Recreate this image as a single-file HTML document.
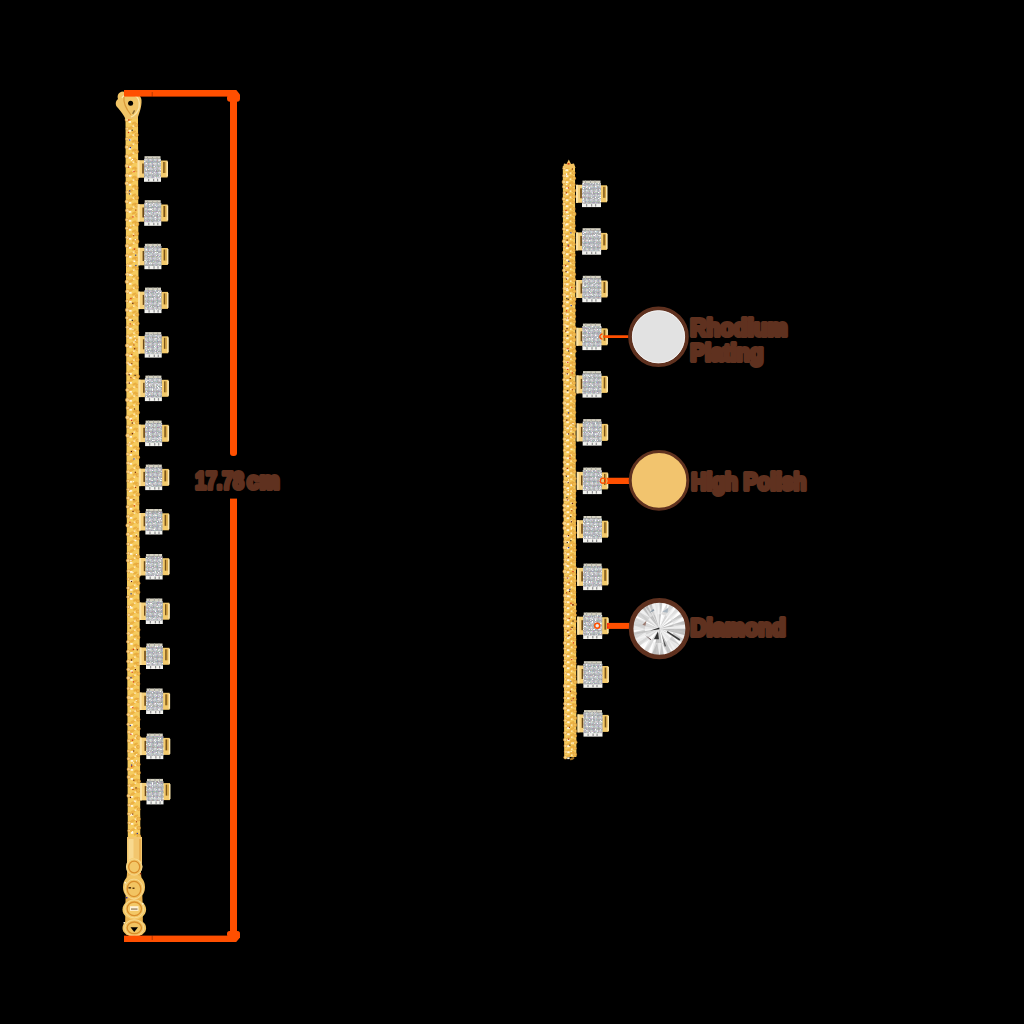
<!DOCTYPE html>
<html><head><meta charset="utf-8"><style>
html,body{margin:0;padding:0;background:#000;width:1024px;height:1024px;overflow:hidden}
svg{display:block}
</style></head><body>
<svg width="1024" height="1024" viewBox="0 0 1024 1024">
<defs>
<filter id="soft" x="-10%" y="-10%" width="120%" height="120%"><feGaussianBlur stdDeviation="0.45"/></filter>
<filter id="spk" x="0" y="0" width="1" height="1">
<feTurbulence type="turbulence" baseFrequency="0.65" numOctaves="1" seed="4" result="t"/>
<feColorMatrix in="t" type="matrix" values="0 0 0 0 1  0 0 0 0 1  0 0 0 0 1  0 0 0 5 -1.5" result="w"/>
<feComposite in="w" in2="SourceGraphic" operator="in" result="wi"/>
<feTurbulence type="turbulence" baseFrequency="0.9" numOctaves="1" seed="9" result="t2"/>
<feColorMatrix in="t2" type="matrix" values="0 0 0 0 0.5  0 0 0 0 0.52  0 0 0 0 0.55  0 0 0 5 -1.3" result="d"/>
<feComposite in="d" in2="SourceGraphic" operator="in" result="di"/>
<feTurbulence type="fractalNoise" baseFrequency="0.8" numOctaves="1" seed="2" result="t3"/>
<feColorMatrix in="t3" type="matrix" values="1.6 0 0 0 -0.3  0 1.6 0 0 -0.3  0 0 1.6 0 -0.25  0 0 0 0 0.28" result="c"/>
<feComposite in="c" in2="SourceGraphic" operator="in" result="ci"/>
<feMerge><feMergeNode in="SourceGraphic"/><feMergeNode in="ci"/><feMergeNode in="di"/><feMergeNode in="wi"/></feMerge>
</filter>
<pattern id="pave" width="4.5" height="4.5" patternUnits="userSpaceOnUse">
<rect width="4.5" height="4.5" fill="#9C9FA1"/>
<circle cx="2.25" cy="2.25" r="1.9" fill="#C4C7C8"/>
<circle cx="1.8" cy="1.8" r="0.8" fill="#EEF0F0"/>
</pattern>
</defs>
<rect width="1024" height="1024" fill="#000"/>
<polygon points="125.5,116 138.0,116 140.3,838 127.8,838" fill="#F6CB5E"/>
<circle cx="126.8" cy="119.8" r="1.8" fill="#F8D588" stroke="#D88F30" stroke-width="0.5"/>
<circle cx="136.3" cy="125.1" r="1.6" fill="#F0BC50" stroke="#D88F30" stroke-width="0.5"/>
<ellipse cx="130.8" cy="118.7" rx="2.6" ry="1.3" transform="rotate(-25 130.8 118.7)" fill="#EAAA3C" opacity="0.75"/>
<ellipse cx="133.8" cy="123.0" rx="2.4" ry="1.2" transform="rotate(-25 133.8 123.0)" fill="#E6A234" opacity="0.7"/>
<rect x="128.6" y="121.0" width="2.4" height="1.8" fill="#FFF4D8"/>
<rect x="132.4" y="116.5" width="1.6" height="1.4" fill="#FFE9B8"/>
<rect x="129.1" y="116.7" width="1.2" height="1.2" fill="#FFFFFF"/>
<rect x="128.2" y="119.4" width="1.2" height="1.2" fill="#D8301A"/>
<circle cx="127.2" cy="128.7" r="1.5" fill="#F8D588" stroke="#D88F30" stroke-width="0.5"/>
<circle cx="136.7" cy="134.9" r="1.7" fill="#F0BC50" stroke="#D88F30" stroke-width="0.5"/>
<ellipse cx="130.8" cy="127.7" rx="2.6" ry="1.3" transform="rotate(-25 130.8 127.7)" fill="#EAAA3C" opacity="0.75"/>
<ellipse cx="133.8" cy="132.0" rx="2.4" ry="1.2" transform="rotate(-25 133.8 132.0)" fill="#E6A234" opacity="0.7"/>
<rect x="128.7" y="129.9" width="2.4" height="1.8" fill="#FFF4D8"/>
<rect x="132.4" y="125.5" width="1.6" height="1.4" fill="#FFE9B8"/>
<rect x="127.9" y="131.9" width="1.2" height="1.2" fill="#D8301A"/>
<rect x="131.6" y="129.6" width="1.2" height="1.2" fill="#3A2A20"/>
<circle cx="127.0" cy="138.9" r="1.5" fill="#F8D588" stroke="#D88F30" stroke-width="0.5"/>
<circle cx="136.7" cy="142.4" r="1.5" fill="#F0BC50" stroke="#D88F30" stroke-width="0.5"/>
<ellipse cx="130.8" cy="136.7" rx="2.6" ry="1.3" transform="rotate(-25 130.8 136.7)" fill="#EAAA3C" opacity="0.75"/>
<ellipse cx="133.8" cy="141.0" rx="2.4" ry="1.2" transform="rotate(-25 133.8 141.0)" fill="#E6A234" opacity="0.7"/>
<rect x="128.7" y="138.9" width="2.4" height="1.8" fill="#FFF4D8"/>
<rect x="132.4" y="134.5" width="1.6" height="1.4" fill="#FFE9B8"/>
<rect x="129.1" y="139.4" width="1.2" height="1.2" fill="#2030A0"/>
<circle cx="126.9" cy="147.1" r="1.8" fill="#F8D588" stroke="#D88F30" stroke-width="0.5"/>
<circle cx="136.6" cy="151.6" r="1.9" fill="#F0BC50" stroke="#D88F30" stroke-width="0.5"/>
<ellipse cx="130.8" cy="145.7" rx="2.6" ry="1.3" transform="rotate(-25 130.8 145.7)" fill="#EAAA3C" opacity="0.75"/>
<ellipse cx="133.8" cy="150.0" rx="2.4" ry="1.2" transform="rotate(-25 133.8 150.0)" fill="#E6A234" opacity="0.7"/>
<rect x="128.7" y="147.9" width="2.4" height="1.8" fill="#FFF4D8"/>
<rect x="132.5" y="143.5" width="1.6" height="1.4" fill="#FFE9B8"/>
<rect x="129.8" y="147.0" width="1.2" height="1.2" fill="#2030A0"/>
<circle cx="126.9" cy="156.4" r="1.8" fill="#F8D588" stroke="#D88F30" stroke-width="0.5"/>
<circle cx="136.4" cy="161.0" r="1.5" fill="#F0BC50" stroke="#D88F30" stroke-width="0.5"/>
<ellipse cx="130.9" cy="154.7" rx="2.6" ry="1.3" transform="rotate(-25 130.9 154.7)" fill="#EAAA3C" opacity="0.75"/>
<ellipse cx="133.9" cy="159.0" rx="2.4" ry="1.2" transform="rotate(-25 133.9 159.0)" fill="#E6A234" opacity="0.7"/>
<rect x="128.7" y="156.9" width="2.4" height="1.8" fill="#FFF4D8"/>
<rect x="132.5" y="152.5" width="1.6" height="1.4" fill="#FFE9B8"/>
<rect x="130.8" y="159.7" width="1.2" height="1.2" fill="#FFF4D0"/>
<rect x="131.9" y="159.0" width="1.2" height="1.2" fill="#FFFFFF"/>
<circle cx="126.9" cy="165.9" r="1.8" fill="#F8D588" stroke="#D88F30" stroke-width="0.5"/>
<circle cx="136.8" cy="169.9" r="1.9" fill="#F0BC50" stroke="#D88F30" stroke-width="0.5"/>
<ellipse cx="130.9" cy="163.7" rx="2.6" ry="1.3" transform="rotate(-25 130.9 163.7)" fill="#EAAA3C" opacity="0.75"/>
<ellipse cx="133.9" cy="168.0" rx="2.4" ry="1.2" transform="rotate(-25 133.9 168.0)" fill="#E6A234" opacity="0.7"/>
<rect x="128.8" y="165.9" width="2.4" height="1.8" fill="#FFF4D8"/>
<rect x="132.5" y="161.5" width="1.6" height="1.4" fill="#FFE9B8"/>
<rect x="128.1" y="166.6" width="1.2" height="1.2" fill="#B03A10"/>
<circle cx="127.2" cy="175.5" r="1.9" fill="#F8D588" stroke="#D88F30" stroke-width="0.5"/>
<circle cx="136.6" cy="178.8" r="1.8" fill="#F0BC50" stroke="#D88F30" stroke-width="0.5"/>
<ellipse cx="130.9" cy="172.7" rx="2.6" ry="1.3" transform="rotate(-25 130.9 172.7)" fill="#EAAA3C" opacity="0.75"/>
<ellipse cx="133.9" cy="177.0" rx="2.4" ry="1.2" transform="rotate(-25 133.9 177.0)" fill="#E6A234" opacity="0.7"/>
<rect x="128.8" y="174.9" width="2.4" height="1.8" fill="#FFF4D8"/>
<rect x="132.5" y="170.5" width="1.6" height="1.4" fill="#FFE9B8"/>
<rect x="130.3" y="174.9" width="1.2" height="1.2" fill="#FFF4D0"/>
<rect x="133.4" y="171.0" width="1.2" height="1.2" fill="#D8301A"/>
<circle cx="126.9" cy="183.3" r="1.9" fill="#F8D588" stroke="#D88F30" stroke-width="0.5"/>
<circle cx="136.5" cy="187.9" r="1.7" fill="#F0BC50" stroke="#D88F30" stroke-width="0.5"/>
<ellipse cx="131.0" cy="181.7" rx="2.6" ry="1.3" transform="rotate(-25 131.0 181.7)" fill="#EAAA3C" opacity="0.75"/>
<ellipse cx="134.0" cy="186.0" rx="2.4" ry="1.2" transform="rotate(-25 134.0 186.0)" fill="#E6A234" opacity="0.7"/>
<rect x="128.8" y="183.9" width="2.4" height="1.8" fill="#FFF4D8"/>
<rect x="132.6" y="179.5" width="1.6" height="1.4" fill="#FFE9B8"/>
<circle cx="127.4" cy="192.1" r="1.6" fill="#F8D588" stroke="#D88F30" stroke-width="0.5"/>
<circle cx="136.7" cy="197.8" r="2.0" fill="#F0BC50" stroke="#D88F30" stroke-width="0.5"/>
<ellipse cx="131.0" cy="190.7" rx="2.6" ry="1.3" transform="rotate(-25 131.0 190.7)" fill="#EAAA3C" opacity="0.75"/>
<ellipse cx="134.0" cy="195.0" rx="2.4" ry="1.2" transform="rotate(-25 134.0 195.0)" fill="#E6A234" opacity="0.7"/>
<rect x="128.9" y="192.9" width="2.4" height="1.8" fill="#FFF4D8"/>
<rect x="132.6" y="188.5" width="1.6" height="1.4" fill="#FFE9B8"/>
<rect x="128.9" y="193.3" width="1.2" height="1.2" fill="#3A2A20"/>
<rect x="129.1" y="190.3" width="1.2" height="1.2" fill="#2030A0"/>
<circle cx="126.9" cy="201.6" r="1.8" fill="#F8D588" stroke="#D88F30" stroke-width="0.5"/>
<circle cx="136.7" cy="205.3" r="1.9" fill="#F0BC50" stroke="#D88F30" stroke-width="0.5"/>
<ellipse cx="131.0" cy="199.7" rx="2.6" ry="1.3" transform="rotate(-25 131.0 199.7)" fill="#EAAA3C" opacity="0.75"/>
<ellipse cx="134.0" cy="204.0" rx="2.4" ry="1.2" transform="rotate(-25 134.0 204.0)" fill="#E6A234" opacity="0.7"/>
<rect x="128.9" y="201.9" width="2.4" height="1.8" fill="#FFF4D8"/>
<rect x="132.6" y="197.5" width="1.6" height="1.4" fill="#FFE9B8"/>
<circle cx="127.4" cy="210.4" r="1.9" fill="#F8D588" stroke="#D88F30" stroke-width="0.5"/>
<circle cx="137.2" cy="215.4" r="1.7" fill="#F0BC50" stroke="#D88F30" stroke-width="0.5"/>
<ellipse cx="131.0" cy="208.7" rx="2.6" ry="1.3" transform="rotate(-25 131.0 208.7)" fill="#EAAA3C" opacity="0.75"/>
<ellipse cx="134.0" cy="213.0" rx="2.4" ry="1.2" transform="rotate(-25 134.0 213.0)" fill="#E6A234" opacity="0.7"/>
<rect x="128.9" y="210.9" width="2.4" height="1.8" fill="#FFF4D8"/>
<rect x="132.7" y="206.5" width="1.6" height="1.4" fill="#FFE9B8"/>
<rect x="128.6" y="211.1" width="1.2" height="1.2" fill="#FFF4D0"/>
<rect x="135.2" y="209.5" width="1.2" height="1.2" fill="#B03A10"/>
<circle cx="126.9" cy="219.7" r="1.5" fill="#F8D588" stroke="#D88F30" stroke-width="0.5"/>
<circle cx="137.0" cy="224.1" r="2.0" fill="#F0BC50" stroke="#D88F30" stroke-width="0.5"/>
<ellipse cx="131.1" cy="217.7" rx="2.6" ry="1.3" transform="rotate(-25 131.1 217.7)" fill="#EAAA3C" opacity="0.75"/>
<ellipse cx="134.1" cy="222.0" rx="2.4" ry="1.2" transform="rotate(-25 134.1 222.0)" fill="#E6A234" opacity="0.7"/>
<rect x="128.9" y="219.9" width="2.4" height="1.8" fill="#FFF4D8"/>
<rect x="132.7" y="215.5" width="1.6" height="1.4" fill="#FFE9B8"/>
<rect x="132.4" y="216.2" width="1.2" height="1.2" fill="#D8301A"/>
<circle cx="127.0" cy="228.2" r="1.6" fill="#F8D588" stroke="#D88F30" stroke-width="0.5"/>
<circle cx="136.6" cy="233.7" r="2.0" fill="#F0BC50" stroke="#D88F30" stroke-width="0.5"/>
<ellipse cx="131.1" cy="226.7" rx="2.6" ry="1.3" transform="rotate(-25 131.1 226.7)" fill="#EAAA3C" opacity="0.75"/>
<ellipse cx="134.1" cy="231.0" rx="2.4" ry="1.2" transform="rotate(-25 134.1 231.0)" fill="#E6A234" opacity="0.7"/>
<rect x="129.0" y="228.9" width="2.4" height="1.8" fill="#FFF4D8"/>
<rect x="132.7" y="224.5" width="1.6" height="1.4" fill="#FFE9B8"/>
<rect x="130.2" y="225.2" width="1.2" height="1.2" fill="#FFF4D0"/>
<circle cx="127.5" cy="237.5" r="1.8" fill="#F8D588" stroke="#D88F30" stroke-width="0.5"/>
<circle cx="137.0" cy="241.4" r="2.0" fill="#F0BC50" stroke="#D88F30" stroke-width="0.5"/>
<ellipse cx="131.1" cy="235.7" rx="2.6" ry="1.3" transform="rotate(-25 131.1 235.7)" fill="#EAAA3C" opacity="0.75"/>
<ellipse cx="134.1" cy="240.0" rx="2.4" ry="1.2" transform="rotate(-25 134.1 240.0)" fill="#E6A234" opacity="0.7"/>
<rect x="129.0" y="237.9" width="2.4" height="1.8" fill="#FFF4D8"/>
<rect x="132.7" y="233.5" width="1.6" height="1.4" fill="#FFE9B8"/>
<rect x="134.7" y="239.1" width="1.2" height="1.2" fill="#FFFFFF"/>
<rect x="133.1" y="235.1" width="1.2" height="1.2" fill="#B03A10"/>
<circle cx="127.2" cy="245.8" r="1.9" fill="#F8D588" stroke="#D88F30" stroke-width="0.5"/>
<circle cx="137.0" cy="251.6" r="1.6" fill="#F0BC50" stroke="#D88F30" stroke-width="0.5"/>
<ellipse cx="131.2" cy="244.7" rx="2.6" ry="1.3" transform="rotate(-25 131.2 244.7)" fill="#EAAA3C" opacity="0.75"/>
<ellipse cx="134.2" cy="249.0" rx="2.4" ry="1.2" transform="rotate(-25 134.2 249.0)" fill="#E6A234" opacity="0.7"/>
<rect x="129.0" y="246.9" width="2.4" height="1.8" fill="#FFF4D8"/>
<rect x="132.8" y="242.5" width="1.6" height="1.4" fill="#FFE9B8"/>
<rect x="133.9" y="248.5" width="1.2" height="1.2" fill="#D8301A"/>
<circle cx="127.1" cy="255.5" r="1.6" fill="#F8D588" stroke="#D88F30" stroke-width="0.5"/>
<circle cx="136.7" cy="259.1" r="1.6" fill="#F0BC50" stroke="#D88F30" stroke-width="0.5"/>
<ellipse cx="131.2" cy="253.7" rx="2.6" ry="1.3" transform="rotate(-25 131.2 253.7)" fill="#EAAA3C" opacity="0.75"/>
<ellipse cx="134.2" cy="258.0" rx="2.4" ry="1.2" transform="rotate(-25 134.2 258.0)" fill="#E6A234" opacity="0.7"/>
<rect x="129.1" y="255.9" width="2.4" height="1.8" fill="#FFF4D8"/>
<rect x="132.8" y="251.5" width="1.6" height="1.4" fill="#FFE9B8"/>
<rect x="135.1" y="254.6" width="1.2" height="1.2" fill="#2030A0"/>
<circle cx="127.7" cy="265.4" r="1.6" fill="#F8D588" stroke="#D88F30" stroke-width="0.5"/>
<circle cx="136.8" cy="268.5" r="1.5" fill="#F0BC50" stroke="#D88F30" stroke-width="0.5"/>
<ellipse cx="131.2" cy="262.7" rx="2.6" ry="1.3" transform="rotate(-25 131.2 262.7)" fill="#EAAA3C" opacity="0.75"/>
<ellipse cx="134.2" cy="267.0" rx="2.4" ry="1.2" transform="rotate(-25 134.2 267.0)" fill="#E6A234" opacity="0.7"/>
<rect x="129.1" y="264.9" width="2.4" height="1.8" fill="#FFF4D8"/>
<rect x="132.8" y="260.5" width="1.6" height="1.4" fill="#FFE9B8"/>
<rect x="135.3" y="264.9" width="1.2" height="1.2" fill="#2030A0"/>
<rect x="134.0" y="260.7" width="1.2" height="1.2" fill="#FFFFFF"/>
<circle cx="127.5" cy="274.3" r="1.9" fill="#F8D588" stroke="#D88F30" stroke-width="0.5"/>
<circle cx="137.3" cy="278.0" r="1.5" fill="#F0BC50" stroke="#D88F30" stroke-width="0.5"/>
<ellipse cx="131.2" cy="271.7" rx="2.6" ry="1.3" transform="rotate(-25 131.2 271.7)" fill="#EAAA3C" opacity="0.75"/>
<ellipse cx="134.2" cy="276.0" rx="2.4" ry="1.2" transform="rotate(-25 134.2 276.0)" fill="#E6A234" opacity="0.7"/>
<rect x="129.1" y="273.9" width="2.4" height="1.8" fill="#FFF4D8"/>
<rect x="132.9" y="269.5" width="1.6" height="1.4" fill="#FFE9B8"/>
<rect x="131.5" y="274.9" width="1.2" height="1.2" fill="#FFF4D0"/>
<circle cx="127.1" cy="281.8" r="2.0" fill="#F8D588" stroke="#D88F30" stroke-width="0.5"/>
<circle cx="136.7" cy="287.2" r="1.7" fill="#F0BC50" stroke="#D88F30" stroke-width="0.5"/>
<ellipse cx="131.3" cy="280.7" rx="2.6" ry="1.3" transform="rotate(-25 131.3 280.7)" fill="#EAAA3C" opacity="0.75"/>
<ellipse cx="134.3" cy="285.0" rx="2.4" ry="1.2" transform="rotate(-25 134.3 285.0)" fill="#E6A234" opacity="0.7"/>
<rect x="129.1" y="282.9" width="2.4" height="1.8" fill="#FFF4D8"/>
<rect x="132.9" y="278.5" width="1.6" height="1.4" fill="#FFE9B8"/>
<circle cx="127.5" cy="291.4" r="2.0" fill="#F8D588" stroke="#D88F30" stroke-width="0.5"/>
<circle cx="136.9" cy="296.1" r="1.4" fill="#F0BC50" stroke="#D88F30" stroke-width="0.5"/>
<ellipse cx="131.3" cy="289.7" rx="2.6" ry="1.3" transform="rotate(-25 131.3 289.7)" fill="#EAAA3C" opacity="0.75"/>
<ellipse cx="134.3" cy="294.0" rx="2.4" ry="1.2" transform="rotate(-25 134.3 294.0)" fill="#E6A234" opacity="0.7"/>
<rect x="129.2" y="291.9" width="2.4" height="1.8" fill="#FFF4D8"/>
<rect x="132.9" y="287.5" width="1.6" height="1.4" fill="#FFE9B8"/>
<circle cx="127.2" cy="301.0" r="1.5" fill="#F8D588" stroke="#D88F30" stroke-width="0.5"/>
<circle cx="137.6" cy="304.4" r="1.9" fill="#F0BC50" stroke="#D88F30" stroke-width="0.5"/>
<ellipse cx="131.3" cy="298.7" rx="2.6" ry="1.3" transform="rotate(-25 131.3 298.7)" fill="#EAAA3C" opacity="0.75"/>
<ellipse cx="134.3" cy="303.0" rx="2.4" ry="1.2" transform="rotate(-25 134.3 303.0)" fill="#E6A234" opacity="0.7"/>
<rect x="129.2" y="300.9" width="2.4" height="1.8" fill="#FFF4D8"/>
<rect x="132.9" y="296.5" width="1.6" height="1.4" fill="#FFE9B8"/>
<rect x="130.3" y="297.9" width="1.2" height="1.2" fill="#D8301A"/>
<rect x="132.2" y="302.7" width="1.2" height="1.2" fill="#5A1A10"/>
<circle cx="127.2" cy="310.0" r="1.9" fill="#F8D588" stroke="#D88F30" stroke-width="0.5"/>
<circle cx="137.3" cy="314.6" r="1.7" fill="#F0BC50" stroke="#D88F30" stroke-width="0.5"/>
<ellipse cx="131.4" cy="307.7" rx="2.6" ry="1.3" transform="rotate(-25 131.4 307.7)" fill="#EAAA3C" opacity="0.75"/>
<ellipse cx="134.4" cy="312.0" rx="2.4" ry="1.2" transform="rotate(-25 134.4 312.0)" fill="#E6A234" opacity="0.7"/>
<rect x="129.2" y="309.9" width="2.4" height="1.8" fill="#FFF4D8"/>
<rect x="133.0" y="305.5" width="1.6" height="1.4" fill="#FFE9B8"/>
<circle cx="127.2" cy="317.8" r="1.7" fill="#F8D588" stroke="#D88F30" stroke-width="0.5"/>
<circle cx="137.5" cy="323.6" r="1.8" fill="#F0BC50" stroke="#D88F30" stroke-width="0.5"/>
<ellipse cx="131.4" cy="316.7" rx="2.6" ry="1.3" transform="rotate(-25 131.4 316.7)" fill="#EAAA3C" opacity="0.75"/>
<ellipse cx="134.4" cy="321.0" rx="2.4" ry="1.2" transform="rotate(-25 134.4 321.0)" fill="#E6A234" opacity="0.7"/>
<rect x="129.3" y="318.9" width="2.4" height="1.8" fill="#FFF4D8"/>
<rect x="133.0" y="314.5" width="1.6" height="1.4" fill="#FFE9B8"/>
<rect x="131.7" y="319.8" width="1.2" height="1.2" fill="#3A2A20"/>
<circle cx="127.6" cy="327.2" r="1.7" fill="#F8D588" stroke="#D88F30" stroke-width="0.5"/>
<circle cx="137.3" cy="332.6" r="1.5" fill="#F0BC50" stroke="#D88F30" stroke-width="0.5"/>
<ellipse cx="131.4" cy="325.7" rx="2.6" ry="1.3" transform="rotate(-25 131.4 325.7)" fill="#EAAA3C" opacity="0.75"/>
<ellipse cx="134.4" cy="330.0" rx="2.4" ry="1.2" transform="rotate(-25 134.4 330.0)" fill="#E6A234" opacity="0.7"/>
<rect x="129.3" y="327.9" width="2.4" height="1.8" fill="#FFF4D8"/>
<rect x="133.0" y="323.5" width="1.6" height="1.4" fill="#FFE9B8"/>
<rect x="129.6" y="323.3" width="1.2" height="1.2" fill="#D8301A"/>
<rect x="132.4" y="329.1" width="1.2" height="1.2" fill="#FFF4D0"/>
<circle cx="127.9" cy="336.4" r="1.8" fill="#F8D588" stroke="#D88F30" stroke-width="0.5"/>
<circle cx="137.3" cy="341.0" r="1.8" fill="#F0BC50" stroke="#D88F30" stroke-width="0.5"/>
<ellipse cx="131.4" cy="334.7" rx="2.6" ry="1.3" transform="rotate(-25 131.4 334.7)" fill="#EAAA3C" opacity="0.75"/>
<ellipse cx="134.4" cy="339.0" rx="2.4" ry="1.2" transform="rotate(-25 134.4 339.0)" fill="#E6A234" opacity="0.7"/>
<rect x="129.3" y="336.9" width="2.4" height="1.8" fill="#FFF4D8"/>
<rect x="133.1" y="332.5" width="1.6" height="1.4" fill="#FFE9B8"/>
<rect x="134.2" y="336.1" width="1.2" height="1.2" fill="#FFFFFF"/>
<rect x="134.8" y="339.5" width="1.2" height="1.2" fill="#FFFFFF"/>
<circle cx="127.4" cy="345.6" r="2.0" fill="#F8D588" stroke="#D88F30" stroke-width="0.5"/>
<circle cx="137.6" cy="349.3" r="1.5" fill="#F0BC50" stroke="#D88F30" stroke-width="0.5"/>
<ellipse cx="131.5" cy="343.7" rx="2.6" ry="1.3" transform="rotate(-25 131.5 343.7)" fill="#EAAA3C" opacity="0.75"/>
<ellipse cx="134.5" cy="348.0" rx="2.4" ry="1.2" transform="rotate(-25 134.5 348.0)" fill="#E6A234" opacity="0.7"/>
<rect x="129.3" y="345.9" width="2.4" height="1.8" fill="#FFF4D8"/>
<rect x="133.1" y="341.5" width="1.6" height="1.4" fill="#FFE9B8"/>
<rect x="133.3" y="344.4" width="1.2" height="1.2" fill="#B03A10"/>
<rect x="134.1" y="348.2" width="1.2" height="1.2" fill="#5A1A10"/>
<circle cx="127.4" cy="354.9" r="1.8" fill="#F8D588" stroke="#D88F30" stroke-width="0.5"/>
<circle cx="137.1" cy="359.8" r="2.0" fill="#F0BC50" stroke="#D88F30" stroke-width="0.5"/>
<ellipse cx="131.5" cy="352.7" rx="2.6" ry="1.3" transform="rotate(-25 131.5 352.7)" fill="#EAAA3C" opacity="0.75"/>
<ellipse cx="134.5" cy="357.0" rx="2.4" ry="1.2" transform="rotate(-25 134.5 357.0)" fill="#E6A234" opacity="0.7"/>
<rect x="129.4" y="354.9" width="2.4" height="1.8" fill="#FFF4D8"/>
<rect x="133.1" y="350.5" width="1.6" height="1.4" fill="#FFE9B8"/>
<rect x="131.2" y="353.9" width="1.2" height="1.2" fill="#B03A10"/>
<circle cx="127.9" cy="362.8" r="1.7" fill="#F8D588" stroke="#D88F30" stroke-width="0.5"/>
<circle cx="137.4" cy="367.7" r="1.5" fill="#F0BC50" stroke="#D88F30" stroke-width="0.5"/>
<ellipse cx="131.5" cy="361.7" rx="2.6" ry="1.3" transform="rotate(-25 131.5 361.7)" fill="#EAAA3C" opacity="0.75"/>
<ellipse cx="134.5" cy="366.0" rx="2.4" ry="1.2" transform="rotate(-25 134.5 366.0)" fill="#E6A234" opacity="0.7"/>
<rect x="129.4" y="363.9" width="2.4" height="1.8" fill="#FFF4D8"/>
<rect x="133.1" y="359.5" width="1.6" height="1.4" fill="#FFE9B8"/>
<rect x="128.4" y="363.4" width="1.2" height="1.2" fill="#FFFFFF"/>
<rect x="131.2" y="363.1" width="1.2" height="1.2" fill="#7A2A10"/>
<circle cx="127.5" cy="373.4" r="1.5" fill="#F8D588" stroke="#D88F30" stroke-width="0.5"/>
<circle cx="137.7" cy="376.5" r="1.9" fill="#F0BC50" stroke="#D88F30" stroke-width="0.5"/>
<ellipse cx="131.6" cy="370.7" rx="2.6" ry="1.3" transform="rotate(-25 131.6 370.7)" fill="#EAAA3C" opacity="0.75"/>
<ellipse cx="134.6" cy="375.0" rx="2.4" ry="1.2" transform="rotate(-25 134.6 375.0)" fill="#E6A234" opacity="0.7"/>
<rect x="129.4" y="372.9" width="2.4" height="1.8" fill="#FFF4D8"/>
<rect x="133.2" y="368.5" width="1.6" height="1.4" fill="#FFE9B8"/>
<rect x="128.6" y="374.2" width="1.2" height="1.2" fill="#5A1A10"/>
<rect x="134.5" y="374.8" width="1.2" height="1.2" fill="#3A2A20"/>
<circle cx="127.9" cy="382.4" r="1.6" fill="#F8D588" stroke="#D88F30" stroke-width="0.5"/>
<circle cx="137.5" cy="386.0" r="1.7" fill="#F0BC50" stroke="#D88F30" stroke-width="0.5"/>
<ellipse cx="131.6" cy="379.7" rx="2.6" ry="1.3" transform="rotate(-25 131.6 379.7)" fill="#EAAA3C" opacity="0.75"/>
<ellipse cx="134.6" cy="384.0" rx="2.4" ry="1.2" transform="rotate(-25 134.6 384.0)" fill="#E6A234" opacity="0.7"/>
<rect x="129.5" y="381.9" width="2.4" height="1.8" fill="#FFF4D8"/>
<rect x="133.2" y="377.5" width="1.6" height="1.4" fill="#FFE9B8"/>
<rect x="128.8" y="382.5" width="1.2" height="1.2" fill="#5A1A10"/>
<rect x="130.3" y="377.1" width="1.2" height="1.2" fill="#B03A10"/>
<circle cx="127.4" cy="390.0" r="1.8" fill="#F8D588" stroke="#D88F30" stroke-width="0.5"/>
<circle cx="137.2" cy="394.5" r="1.5" fill="#F0BC50" stroke="#D88F30" stroke-width="0.5"/>
<ellipse cx="131.6" cy="388.7" rx="2.6" ry="1.3" transform="rotate(-25 131.6 388.7)" fill="#EAAA3C" opacity="0.75"/>
<ellipse cx="134.6" cy="393.0" rx="2.4" ry="1.2" transform="rotate(-25 134.6 393.0)" fill="#E6A234" opacity="0.7"/>
<rect x="129.5" y="390.9" width="2.4" height="1.8" fill="#FFF4D8"/>
<rect x="133.2" y="386.5" width="1.6" height="1.4" fill="#FFE9B8"/>
<rect x="131.5" y="393.3" width="1.2" height="1.2" fill="#FFFFFF"/>
<circle cx="127.4" cy="399.9" r="2.0" fill="#F8D588" stroke="#D88F30" stroke-width="0.5"/>
<circle cx="137.9" cy="403.5" r="1.5" fill="#F0BC50" stroke="#D88F30" stroke-width="0.5"/>
<ellipse cx="131.6" cy="397.7" rx="2.6" ry="1.3" transform="rotate(-25 131.6 397.7)" fill="#EAAA3C" opacity="0.75"/>
<ellipse cx="134.6" cy="402.0" rx="2.4" ry="1.2" transform="rotate(-25 134.6 402.0)" fill="#E6A234" opacity="0.7"/>
<rect x="129.5" y="399.9" width="2.4" height="1.8" fill="#FFF4D8"/>
<rect x="133.3" y="395.5" width="1.6" height="1.4" fill="#FFE9B8"/>
<circle cx="127.8" cy="407.9" r="1.7" fill="#F8D588" stroke="#D88F30" stroke-width="0.5"/>
<circle cx="137.7" cy="412.5" r="1.9" fill="#F0BC50" stroke="#D88F30" stroke-width="0.5"/>
<ellipse cx="131.7" cy="406.7" rx="2.6" ry="1.3" transform="rotate(-25 131.7 406.7)" fill="#EAAA3C" opacity="0.75"/>
<ellipse cx="134.7" cy="411.0" rx="2.4" ry="1.2" transform="rotate(-25 134.7 411.0)" fill="#E6A234" opacity="0.7"/>
<rect x="129.5" y="408.9" width="2.4" height="1.8" fill="#FFF4D8"/>
<rect x="133.3" y="404.5" width="1.6" height="1.4" fill="#FFE9B8"/>
<rect x="133.9" y="408.4" width="1.2" height="1.2" fill="#7A2A10"/>
<circle cx="127.6" cy="417.4" r="2.0" fill="#F8D588" stroke="#D88F30" stroke-width="0.5"/>
<circle cx="137.2" cy="422.6" r="1.7" fill="#F0BC50" stroke="#D88F30" stroke-width="0.5"/>
<ellipse cx="131.7" cy="415.7" rx="2.6" ry="1.3" transform="rotate(-25 131.7 415.7)" fill="#EAAA3C" opacity="0.75"/>
<ellipse cx="134.7" cy="420.0" rx="2.4" ry="1.2" transform="rotate(-25 134.7 420.0)" fill="#E6A234" opacity="0.7"/>
<rect x="129.6" y="417.9" width="2.4" height="1.8" fill="#FFF4D8"/>
<rect x="133.3" y="413.5" width="1.6" height="1.4" fill="#FFE9B8"/>
<rect x="135.7" y="415.5" width="1.2" height="1.2" fill="#FFF4D0"/>
<rect x="131.0" y="419.7" width="1.2" height="1.2" fill="#D8301A"/>
<circle cx="128.0" cy="426.8" r="1.6" fill="#F8D588" stroke="#D88F30" stroke-width="0.5"/>
<circle cx="137.5" cy="430.1" r="1.5" fill="#F0BC50" stroke="#D88F30" stroke-width="0.5"/>
<ellipse cx="131.7" cy="424.7" rx="2.6" ry="1.3" transform="rotate(-25 131.7 424.7)" fill="#EAAA3C" opacity="0.75"/>
<ellipse cx="134.7" cy="429.0" rx="2.4" ry="1.2" transform="rotate(-25 134.7 429.0)" fill="#E6A234" opacity="0.7"/>
<rect x="129.6" y="426.9" width="2.4" height="1.8" fill="#FFF4D8"/>
<rect x="133.3" y="422.5" width="1.6" height="1.4" fill="#FFE9B8"/>
<rect x="131.7" y="422.4" width="1.2" height="1.2" fill="#5A1A10"/>
<circle cx="127.8" cy="435.5" r="2.0" fill="#F8D588" stroke="#D88F30" stroke-width="0.5"/>
<circle cx="137.7" cy="440.4" r="1.4" fill="#F0BC50" stroke="#D88F30" stroke-width="0.5"/>
<ellipse cx="131.8" cy="433.7" rx="2.6" ry="1.3" transform="rotate(-25 131.8 433.7)" fill="#EAAA3C" opacity="0.75"/>
<ellipse cx="134.8" cy="438.0" rx="2.4" ry="1.2" transform="rotate(-25 134.8 438.0)" fill="#E6A234" opacity="0.7"/>
<rect x="129.6" y="435.9" width="2.4" height="1.8" fill="#FFF4D8"/>
<rect x="133.4" y="431.5" width="1.6" height="1.4" fill="#FFE9B8"/>
<rect x="131.8" y="433.1" width="1.2" height="1.2" fill="#5A1A10"/>
<circle cx="128.3" cy="444.6" r="1.5" fill="#F8D588" stroke="#D88F30" stroke-width="0.5"/>
<circle cx="138.0" cy="448.6" r="1.6" fill="#F0BC50" stroke="#D88F30" stroke-width="0.5"/>
<ellipse cx="131.8" cy="442.7" rx="2.6" ry="1.3" transform="rotate(-25 131.8 442.7)" fill="#EAAA3C" opacity="0.75"/>
<ellipse cx="134.8" cy="447.0" rx="2.4" ry="1.2" transform="rotate(-25 134.8 447.0)" fill="#E6A234" opacity="0.7"/>
<rect x="129.7" y="444.9" width="2.4" height="1.8" fill="#FFF4D8"/>
<rect x="133.4" y="440.5" width="1.6" height="1.4" fill="#FFE9B8"/>
<rect x="129.2" y="442.2" width="1.2" height="1.2" fill="#FFF4D0"/>
<circle cx="127.8" cy="454.1" r="1.5" fill="#F8D588" stroke="#D88F30" stroke-width="0.5"/>
<circle cx="137.9" cy="457.3" r="1.8" fill="#F0BC50" stroke="#D88F30" stroke-width="0.5"/>
<ellipse cx="131.8" cy="451.7" rx="2.6" ry="1.3" transform="rotate(-25 131.8 451.7)" fill="#EAAA3C" opacity="0.75"/>
<ellipse cx="134.8" cy="456.0" rx="2.4" ry="1.2" transform="rotate(-25 134.8 456.0)" fill="#E6A234" opacity="0.7"/>
<rect x="129.7" y="453.9" width="2.4" height="1.8" fill="#FFF4D8"/>
<rect x="133.4" y="449.5" width="1.6" height="1.4" fill="#FFE9B8"/>
<rect x="130.8" y="450.9" width="1.2" height="1.2" fill="#5A1A10"/>
<rect x="135.0" y="450.2" width="1.2" height="1.2" fill="#FFFFFF"/>
<circle cx="128.3" cy="463.1" r="1.8" fill="#F8D588" stroke="#D88F30" stroke-width="0.5"/>
<circle cx="137.9" cy="467.4" r="1.7" fill="#F0BC50" stroke="#D88F30" stroke-width="0.5"/>
<ellipse cx="131.8" cy="460.7" rx="2.6" ry="1.3" transform="rotate(-25 131.8 460.7)" fill="#EAAA3C" opacity="0.75"/>
<ellipse cx="134.8" cy="465.0" rx="2.4" ry="1.2" transform="rotate(-25 134.8 465.0)" fill="#E6A234" opacity="0.7"/>
<rect x="129.7" y="462.9" width="2.4" height="1.8" fill="#FFF4D8"/>
<rect x="133.5" y="458.5" width="1.6" height="1.4" fill="#FFE9B8"/>
<rect x="133.4" y="458.4" width="1.2" height="1.2" fill="#2030A0"/>
<circle cx="128.3" cy="471.8" r="1.8" fill="#F8D588" stroke="#D88F30" stroke-width="0.5"/>
<circle cx="138.0" cy="475.3" r="1.7" fill="#F0BC50" stroke="#D88F30" stroke-width="0.5"/>
<ellipse cx="131.9" cy="469.7" rx="2.6" ry="1.3" transform="rotate(-25 131.9 469.7)" fill="#EAAA3C" opacity="0.75"/>
<ellipse cx="134.9" cy="474.0" rx="2.4" ry="1.2" transform="rotate(-25 134.9 474.0)" fill="#E6A234" opacity="0.7"/>
<rect x="129.7" y="471.9" width="2.4" height="1.8" fill="#FFF4D8"/>
<rect x="133.5" y="467.5" width="1.6" height="1.4" fill="#FFE9B8"/>
<rect x="134.8" y="471.7" width="1.2" height="1.2" fill="#7A2A10"/>
<circle cx="128.2" cy="480.9" r="1.5" fill="#F8D588" stroke="#D88F30" stroke-width="0.5"/>
<circle cx="137.4" cy="484.3" r="1.6" fill="#F0BC50" stroke="#D88F30" stroke-width="0.5"/>
<ellipse cx="131.9" cy="478.7" rx="2.6" ry="1.3" transform="rotate(-25 131.9 478.7)" fill="#EAAA3C" opacity="0.75"/>
<ellipse cx="134.9" cy="483.0" rx="2.4" ry="1.2" transform="rotate(-25 134.9 483.0)" fill="#E6A234" opacity="0.7"/>
<rect x="129.8" y="480.9" width="2.4" height="1.8" fill="#FFF4D8"/>
<rect x="133.5" y="476.5" width="1.6" height="1.4" fill="#FFE9B8"/>
<rect x="132.8" y="481.0" width="1.2" height="1.2" fill="#FFF4D0"/>
<circle cx="128.2" cy="489.5" r="1.4" fill="#F8D588" stroke="#D88F30" stroke-width="0.5"/>
<circle cx="138.0" cy="494.5" r="1.7" fill="#F0BC50" stroke="#D88F30" stroke-width="0.5"/>
<ellipse cx="131.9" cy="487.7" rx="2.6" ry="1.3" transform="rotate(-25 131.9 487.7)" fill="#EAAA3C" opacity="0.75"/>
<ellipse cx="134.9" cy="492.0" rx="2.4" ry="1.2" transform="rotate(-25 134.9 492.0)" fill="#E6A234" opacity="0.7"/>
<rect x="129.8" y="489.9" width="2.4" height="1.8" fill="#FFF4D8"/>
<rect x="133.6" y="485.5" width="1.6" height="1.4" fill="#FFE9B8"/>
<rect x="129.2" y="490.9" width="1.2" height="1.2" fill="#FFFFFF"/>
<rect x="135.0" y="486.9" width="1.2" height="1.2" fill="#B03A10"/>
<circle cx="128.3" cy="498.0" r="1.8" fill="#F8D588" stroke="#D88F30" stroke-width="0.5"/>
<circle cx="137.8" cy="503.7" r="1.4" fill="#F0BC50" stroke="#D88F30" stroke-width="0.5"/>
<ellipse cx="132.0" cy="496.7" rx="2.6" ry="1.3" transform="rotate(-25 132.0 496.7)" fill="#EAAA3C" opacity="0.75"/>
<ellipse cx="135.0" cy="501.0" rx="2.4" ry="1.2" transform="rotate(-25 135.0 501.0)" fill="#E6A234" opacity="0.7"/>
<rect x="129.8" y="498.9" width="2.4" height="1.8" fill="#FFF4D8"/>
<rect x="133.6" y="494.5" width="1.6" height="1.4" fill="#FFE9B8"/>
<rect x="133.3" y="499.1" width="1.2" height="1.2" fill="#7A2A10"/>
<circle cx="127.8" cy="506.8" r="1.6" fill="#F8D588" stroke="#D88F30" stroke-width="0.5"/>
<circle cx="138.0" cy="511.6" r="1.7" fill="#F0BC50" stroke="#D88F30" stroke-width="0.5"/>
<ellipse cx="132.0" cy="505.7" rx="2.6" ry="1.3" transform="rotate(-25 132.0 505.7)" fill="#EAAA3C" opacity="0.75"/>
<ellipse cx="135.0" cy="510.0" rx="2.4" ry="1.2" transform="rotate(-25 135.0 510.0)" fill="#E6A234" opacity="0.7"/>
<rect x="129.9" y="507.9" width="2.4" height="1.8" fill="#FFF4D8"/>
<rect x="133.6" y="503.5" width="1.6" height="1.4" fill="#FFE9B8"/>
<rect x="132.4" y="510.8" width="1.2" height="1.2" fill="#7A2A10"/>
<rect x="133.8" y="505.3" width="1.2" height="1.2" fill="#D8301A"/>
<circle cx="128.2" cy="516.4" r="1.7" fill="#F8D588" stroke="#D88F30" stroke-width="0.5"/>
<circle cx="137.6" cy="521.8" r="1.5" fill="#F0BC50" stroke="#D88F30" stroke-width="0.5"/>
<ellipse cx="132.0" cy="514.7" rx="2.6" ry="1.3" transform="rotate(-25 132.0 514.7)" fill="#EAAA3C" opacity="0.75"/>
<ellipse cx="135.0" cy="519.0" rx="2.4" ry="1.2" transform="rotate(-25 135.0 519.0)" fill="#E6A234" opacity="0.7"/>
<rect x="129.9" y="517.0" width="2.4" height="1.8" fill="#FFF4D8"/>
<rect x="133.6" y="512.5" width="1.6" height="1.4" fill="#FFE9B8"/>
<circle cx="127.8" cy="525.4" r="1.9" fill="#F8D588" stroke="#D88F30" stroke-width="0.5"/>
<circle cx="138.3" cy="529.9" r="1.6" fill="#F0BC50" stroke="#D88F30" stroke-width="0.5"/>
<ellipse cx="132.0" cy="523.7" rx="2.6" ry="1.3" transform="rotate(-25 132.0 523.7)" fill="#EAAA3C" opacity="0.75"/>
<ellipse cx="135.0" cy="528.0" rx="2.4" ry="1.2" transform="rotate(-25 135.0 528.0)" fill="#E6A234" opacity="0.7"/>
<rect x="129.9" y="526.0" width="2.4" height="1.8" fill="#FFF4D8"/>
<rect x="133.7" y="521.5" width="1.6" height="1.4" fill="#FFE9B8"/>
<rect x="129.3" y="521.7" width="1.2" height="1.2" fill="#D8301A"/>
<circle cx="128.0" cy="534.2" r="1.8" fill="#F8D588" stroke="#D88F30" stroke-width="0.5"/>
<circle cx="138.0" cy="538.6" r="1.5" fill="#F0BC50" stroke="#D88F30" stroke-width="0.5"/>
<ellipse cx="132.1" cy="532.7" rx="2.6" ry="1.3" transform="rotate(-25 132.1 532.7)" fill="#EAAA3C" opacity="0.75"/>
<ellipse cx="135.1" cy="537.0" rx="2.4" ry="1.2" transform="rotate(-25 135.1 537.0)" fill="#E6A234" opacity="0.7"/>
<rect x="129.9" y="535.0" width="2.4" height="1.8" fill="#FFF4D8"/>
<rect x="133.7" y="530.5" width="1.6" height="1.4" fill="#FFE9B8"/>
<rect x="135.6" y="533.9" width="1.2" height="1.2" fill="#FFF4D0"/>
<rect x="135.9" y="535.5" width="1.2" height="1.2" fill="#7A2A10"/>
<circle cx="128.2" cy="544.0" r="1.6" fill="#F8D588" stroke="#D88F30" stroke-width="0.5"/>
<circle cx="137.8" cy="547.2" r="1.6" fill="#F0BC50" stroke="#D88F30" stroke-width="0.5"/>
<ellipse cx="132.1" cy="541.7" rx="2.6" ry="1.3" transform="rotate(-25 132.1 541.7)" fill="#EAAA3C" opacity="0.75"/>
<ellipse cx="135.1" cy="546.0" rx="2.4" ry="1.2" transform="rotate(-25 135.1 546.0)" fill="#E6A234" opacity="0.7"/>
<rect x="130.0" y="544.0" width="2.4" height="1.8" fill="#FFF4D8"/>
<rect x="133.7" y="539.5" width="1.6" height="1.4" fill="#FFE9B8"/>
<rect x="135.1" y="540.0" width="1.2" height="1.2" fill="#FFFFFF"/>
<circle cx="128.4" cy="553.3" r="1.6" fill="#F8D588" stroke="#D88F30" stroke-width="0.5"/>
<circle cx="137.9" cy="556.8" r="2.0" fill="#F0BC50" stroke="#D88F30" stroke-width="0.5"/>
<ellipse cx="132.1" cy="550.7" rx="2.6" ry="1.3" transform="rotate(-25 132.1 550.7)" fill="#EAAA3C" opacity="0.75"/>
<ellipse cx="135.1" cy="555.0" rx="2.4" ry="1.2" transform="rotate(-25 135.1 555.0)" fill="#E6A234" opacity="0.7"/>
<rect x="130.0" y="553.0" width="2.4" height="1.8" fill="#FFF4D8"/>
<rect x="133.8" y="548.5" width="1.6" height="1.4" fill="#FFE9B8"/>
<rect x="135.8" y="554.0" width="1.2" height="1.2" fill="#FFFFFF"/>
<circle cx="128.1" cy="560.6" r="1.8" fill="#F8D588" stroke="#D88F30" stroke-width="0.5"/>
<circle cx="138.1" cy="565.3" r="2.0" fill="#F0BC50" stroke="#D88F30" stroke-width="0.5"/>
<ellipse cx="132.2" cy="559.7" rx="2.6" ry="1.3" transform="rotate(-25 132.2 559.7)" fill="#EAAA3C" opacity="0.75"/>
<ellipse cx="135.2" cy="564.0" rx="2.4" ry="1.2" transform="rotate(-25 135.2 564.0)" fill="#E6A234" opacity="0.7"/>
<rect x="130.0" y="562.0" width="2.4" height="1.8" fill="#FFF4D8"/>
<rect x="133.8" y="557.5" width="1.6" height="1.4" fill="#FFE9B8"/>
<rect x="130.3" y="560.0" width="1.2" height="1.2" fill="#FFFFFF"/>
<circle cx="128.6" cy="571.1" r="1.8" fill="#F8D588" stroke="#D88F30" stroke-width="0.5"/>
<circle cx="138.4" cy="575.9" r="1.7" fill="#F0BC50" stroke="#D88F30" stroke-width="0.5"/>
<ellipse cx="132.2" cy="568.7" rx="2.6" ry="1.3" transform="rotate(-25 132.2 568.7)" fill="#EAAA3C" opacity="0.75"/>
<ellipse cx="135.2" cy="573.0" rx="2.4" ry="1.2" transform="rotate(-25 135.2 573.0)" fill="#E6A234" opacity="0.7"/>
<rect x="130.1" y="571.0" width="2.4" height="1.8" fill="#FFF4D8"/>
<rect x="133.8" y="566.5" width="1.6" height="1.4" fill="#FFE9B8"/>
<rect x="132.3" y="572.0" width="1.2" height="1.2" fill="#FFF4D0"/>
<circle cx="128.5" cy="579.1" r="1.4" fill="#F8D588" stroke="#D88F30" stroke-width="0.5"/>
<circle cx="138.4" cy="583.3" r="1.7" fill="#F0BC50" stroke="#D88F30" stroke-width="0.5"/>
<ellipse cx="132.2" cy="577.7" rx="2.6" ry="1.3" transform="rotate(-25 132.2 577.7)" fill="#EAAA3C" opacity="0.75"/>
<ellipse cx="135.2" cy="582.0" rx="2.4" ry="1.2" transform="rotate(-25 135.2 582.0)" fill="#E6A234" opacity="0.7"/>
<rect x="130.1" y="580.0" width="2.4" height="1.8" fill="#FFF4D8"/>
<rect x="133.8" y="575.5" width="1.6" height="1.4" fill="#FFE9B8"/>
<rect x="130.9" y="580.9" width="1.2" height="1.2" fill="#5A1A10"/>
<circle cx="128.3" cy="588.0" r="1.7" fill="#F8D588" stroke="#D88F30" stroke-width="0.5"/>
<circle cx="138.2" cy="592.2" r="1.8" fill="#F0BC50" stroke="#D88F30" stroke-width="0.5"/>
<ellipse cx="132.2" cy="586.7" rx="2.6" ry="1.3" transform="rotate(-25 132.2 586.7)" fill="#EAAA3C" opacity="0.75"/>
<ellipse cx="135.2" cy="591.0" rx="2.4" ry="1.2" transform="rotate(-25 135.2 591.0)" fill="#E6A234" opacity="0.7"/>
<rect x="130.1" y="589.0" width="2.4" height="1.8" fill="#FFF4D8"/>
<rect x="133.9" y="584.5" width="1.6" height="1.4" fill="#FFE9B8"/>
<rect x="135.8" y="588.0" width="1.2" height="1.2" fill="#FFFFFF"/>
<rect x="136.5" y="587.6" width="1.2" height="1.2" fill="#FFFFFF"/>
<circle cx="128.1" cy="596.9" r="1.5" fill="#F8D588" stroke="#D88F30" stroke-width="0.5"/>
<circle cx="138.0" cy="601.2" r="1.5" fill="#F0BC50" stroke="#D88F30" stroke-width="0.5"/>
<ellipse cx="132.3" cy="595.7" rx="2.6" ry="1.3" transform="rotate(-25 132.3 595.7)" fill="#EAAA3C" opacity="0.75"/>
<ellipse cx="135.3" cy="600.0" rx="2.4" ry="1.2" transform="rotate(-25 135.3 600.0)" fill="#E6A234" opacity="0.7"/>
<rect x="130.1" y="598.0" width="2.4" height="1.8" fill="#FFF4D8"/>
<rect x="133.9" y="593.5" width="1.6" height="1.4" fill="#FFE9B8"/>
<rect x="130.5" y="593.2" width="1.2" height="1.2" fill="#2030A0"/>
<circle cx="128.4" cy="607.0" r="1.5" fill="#F8D588" stroke="#D88F30" stroke-width="0.5"/>
<circle cx="138.0" cy="611.5" r="1.7" fill="#F0BC50" stroke="#D88F30" stroke-width="0.5"/>
<ellipse cx="132.3" cy="604.7" rx="2.6" ry="1.3" transform="rotate(-25 132.3 604.7)" fill="#EAAA3C" opacity="0.75"/>
<ellipse cx="135.3" cy="609.0" rx="2.4" ry="1.2" transform="rotate(-25 135.3 609.0)" fill="#E6A234" opacity="0.7"/>
<rect x="130.2" y="607.0" width="2.4" height="1.8" fill="#FFF4D8"/>
<rect x="133.9" y="602.5" width="1.6" height="1.4" fill="#FFE9B8"/>
<rect x="130.0" y="606.0" width="1.2" height="1.2" fill="#FFFFFF"/>
<circle cx="128.8" cy="614.9" r="1.6" fill="#F8D588" stroke="#D88F30" stroke-width="0.5"/>
<circle cx="138.0" cy="619.8" r="1.7" fill="#F0BC50" stroke="#D88F30" stroke-width="0.5"/>
<ellipse cx="132.3" cy="613.7" rx="2.6" ry="1.3" transform="rotate(-25 132.3 613.7)" fill="#EAAA3C" opacity="0.75"/>
<ellipse cx="135.3" cy="618.0" rx="2.4" ry="1.2" transform="rotate(-25 135.3 618.0)" fill="#E6A234" opacity="0.7"/>
<rect x="130.2" y="616.0" width="2.4" height="1.8" fill="#FFF4D8"/>
<rect x="134.0" y="611.5" width="1.6" height="1.4" fill="#FFE9B8"/>
<circle cx="128.8" cy="623.5" r="1.4" fill="#F8D588" stroke="#D88F30" stroke-width="0.5"/>
<circle cx="138.4" cy="629.8" r="1.7" fill="#F0BC50" stroke="#D88F30" stroke-width="0.5"/>
<ellipse cx="132.4" cy="622.7" rx="2.6" ry="1.3" transform="rotate(-25 132.4 622.7)" fill="#EAAA3C" opacity="0.75"/>
<ellipse cx="135.4" cy="627.0" rx="2.4" ry="1.2" transform="rotate(-25 135.4 627.0)" fill="#E6A234" opacity="0.7"/>
<rect x="130.2" y="625.0" width="2.4" height="1.8" fill="#FFF4D8"/>
<rect x="134.0" y="620.5" width="1.6" height="1.4" fill="#FFE9B8"/>
<rect x="129.7" y="627.4" width="1.2" height="1.2" fill="#7A2A10"/>
<circle cx="128.6" cy="633.4" r="1.7" fill="#F8D588" stroke="#D88F30" stroke-width="0.5"/>
<circle cx="138.5" cy="637.4" r="1.5" fill="#F0BC50" stroke="#D88F30" stroke-width="0.5"/>
<ellipse cx="132.4" cy="631.7" rx="2.6" ry="1.3" transform="rotate(-25 132.4 631.7)" fill="#EAAA3C" opacity="0.75"/>
<ellipse cx="135.4" cy="636.0" rx="2.4" ry="1.2" transform="rotate(-25 135.4 636.0)" fill="#E6A234" opacity="0.7"/>
<rect x="130.3" y="634.0" width="2.4" height="1.8" fill="#FFF4D8"/>
<rect x="134.0" y="629.5" width="1.6" height="1.4" fill="#FFE9B8"/>
<rect x="129.8" y="635.2" width="1.2" height="1.2" fill="#FFF4D0"/>
<circle cx="128.2" cy="641.8" r="1.7" fill="#F8D588" stroke="#D88F30" stroke-width="0.5"/>
<circle cx="137.9" cy="647.4" r="2.0" fill="#F0BC50" stroke="#D88F30" stroke-width="0.5"/>
<ellipse cx="132.4" cy="640.7" rx="2.6" ry="1.3" transform="rotate(-25 132.4 640.7)" fill="#EAAA3C" opacity="0.75"/>
<ellipse cx="135.4" cy="645.0" rx="2.4" ry="1.2" transform="rotate(-25 135.4 645.0)" fill="#E6A234" opacity="0.7"/>
<rect x="130.3" y="643.0" width="2.4" height="1.8" fill="#FFF4D8"/>
<rect x="134.0" y="638.5" width="1.6" height="1.4" fill="#FFE9B8"/>
<rect x="134.4" y="638.9" width="1.2" height="1.2" fill="#FFF4D0"/>
<circle cx="128.2" cy="651.5" r="1.7" fill="#F8D588" stroke="#D88F30" stroke-width="0.5"/>
<circle cx="138.2" cy="655.4" r="1.8" fill="#F0BC50" stroke="#D88F30" stroke-width="0.5"/>
<ellipse cx="132.4" cy="649.7" rx="2.6" ry="1.3" transform="rotate(-25 132.4 649.7)" fill="#EAAA3C" opacity="0.75"/>
<ellipse cx="135.4" cy="654.0" rx="2.4" ry="1.2" transform="rotate(-25 135.4 654.0)" fill="#E6A234" opacity="0.7"/>
<rect x="130.3" y="652.0" width="2.4" height="1.8" fill="#FFF4D8"/>
<rect x="134.1" y="647.5" width="1.6" height="1.4" fill="#FFE9B8"/>
<rect x="136.7" y="649.2" width="1.2" height="1.2" fill="#5A1A10"/>
<rect x="132.8" y="648.9" width="1.2" height="1.2" fill="#D8301A"/>
<circle cx="128.4" cy="661.4" r="1.8" fill="#F8D588" stroke="#D88F30" stroke-width="0.5"/>
<circle cx="138.2" cy="664.0" r="1.7" fill="#F0BC50" stroke="#D88F30" stroke-width="0.5"/>
<ellipse cx="132.5" cy="658.7" rx="2.6" ry="1.3" transform="rotate(-25 132.5 658.7)" fill="#EAAA3C" opacity="0.75"/>
<ellipse cx="135.5" cy="663.0" rx="2.4" ry="1.2" transform="rotate(-25 135.5 663.0)" fill="#E6A234" opacity="0.7"/>
<rect x="130.3" y="661.0" width="2.4" height="1.8" fill="#FFF4D8"/>
<rect x="134.1" y="656.5" width="1.6" height="1.4" fill="#FFE9B8"/>
<rect x="130.9" y="659.4" width="1.2" height="1.2" fill="#5A1A10"/>
<circle cx="128.5" cy="669.5" r="1.8" fill="#F8D588" stroke="#D88F30" stroke-width="0.5"/>
<circle cx="138.5" cy="673.7" r="1.6" fill="#F0BC50" stroke="#D88F30" stroke-width="0.5"/>
<ellipse cx="132.5" cy="667.7" rx="2.6" ry="1.3" transform="rotate(-25 132.5 667.7)" fill="#EAAA3C" opacity="0.75"/>
<ellipse cx="135.5" cy="672.0" rx="2.4" ry="1.2" transform="rotate(-25 135.5 672.0)" fill="#E6A234" opacity="0.7"/>
<rect x="130.4" y="670.0" width="2.4" height="1.8" fill="#FFF4D8"/>
<rect x="134.1" y="665.5" width="1.6" height="1.4" fill="#FFE9B8"/>
<rect x="134.8" y="669.0" width="1.2" height="1.2" fill="#5A1A10"/>
<rect x="131.6" y="671.6" width="1.2" height="1.2" fill="#D8301A"/>
<circle cx="128.5" cy="677.9" r="1.9" fill="#F8D588" stroke="#D88F30" stroke-width="0.5"/>
<circle cx="138.2" cy="683.9" r="1.7" fill="#F0BC50" stroke="#D88F30" stroke-width="0.5"/>
<ellipse cx="132.5" cy="676.7" rx="2.6" ry="1.3" transform="rotate(-25 132.5 676.7)" fill="#EAAA3C" opacity="0.75"/>
<ellipse cx="135.5" cy="681.0" rx="2.4" ry="1.2" transform="rotate(-25 135.5 681.0)" fill="#E6A234" opacity="0.7"/>
<rect x="130.4" y="679.0" width="2.4" height="1.8" fill="#FFF4D8"/>
<rect x="134.2" y="674.5" width="1.6" height="1.4" fill="#FFE9B8"/>
<rect x="132.9" y="681.3" width="1.2" height="1.2" fill="#D8301A"/>
<rect x="130.4" y="677.1" width="1.2" height="1.2" fill="#2030A0"/>
<circle cx="128.5" cy="688.4" r="1.5" fill="#F8D588" stroke="#D88F30" stroke-width="0.5"/>
<circle cx="138.0" cy="691.1" r="1.6" fill="#F0BC50" stroke="#D88F30" stroke-width="0.5"/>
<ellipse cx="132.6" cy="685.7" rx="2.6" ry="1.3" transform="rotate(-25 132.6 685.7)" fill="#EAAA3C" opacity="0.75"/>
<ellipse cx="135.6" cy="690.0" rx="2.4" ry="1.2" transform="rotate(-25 135.6 690.0)" fill="#E6A234" opacity="0.7"/>
<rect x="130.4" y="688.0" width="2.4" height="1.8" fill="#FFF4D8"/>
<rect x="134.2" y="683.5" width="1.6" height="1.4" fill="#FFE9B8"/>
<circle cx="128.9" cy="697.5" r="2.0" fill="#F8D588" stroke="#D88F30" stroke-width="0.5"/>
<circle cx="138.3" cy="700.4" r="2.0" fill="#F0BC50" stroke="#D88F30" stroke-width="0.5"/>
<ellipse cx="132.6" cy="694.7" rx="2.6" ry="1.3" transform="rotate(-25 132.6 694.7)" fill="#EAAA3C" opacity="0.75"/>
<ellipse cx="135.6" cy="699.0" rx="2.4" ry="1.2" transform="rotate(-25 135.6 699.0)" fill="#E6A234" opacity="0.7"/>
<rect x="130.5" y="697.0" width="2.4" height="1.8" fill="#FFF4D8"/>
<rect x="134.2" y="692.5" width="1.6" height="1.4" fill="#FFE9B8"/>
<rect x="135.6" y="699.9" width="1.2" height="1.2" fill="#FFF4D0"/>
<circle cx="128.7" cy="704.7" r="1.4" fill="#F8D588" stroke="#D88F30" stroke-width="0.5"/>
<circle cx="138.1" cy="709.8" r="1.9" fill="#F0BC50" stroke="#D88F30" stroke-width="0.5"/>
<ellipse cx="132.6" cy="703.7" rx="2.6" ry="1.3" transform="rotate(-25 132.6 703.7)" fill="#EAAA3C" opacity="0.75"/>
<ellipse cx="135.6" cy="708.0" rx="2.4" ry="1.2" transform="rotate(-25 135.6 708.0)" fill="#E6A234" opacity="0.7"/>
<rect x="130.5" y="706.0" width="2.4" height="1.8" fill="#FFF4D8"/>
<rect x="134.2" y="701.5" width="1.6" height="1.4" fill="#FFE9B8"/>
<rect x="132.2" y="707.1" width="1.2" height="1.2" fill="#D8301A"/>
<rect x="130.0" y="706.6" width="1.2" height="1.2" fill="#FFF4D0"/>
<circle cx="128.5" cy="714.6" r="1.7" fill="#F8D588" stroke="#D88F30" stroke-width="0.5"/>
<circle cx="138.4" cy="719.5" r="1.7" fill="#F0BC50" stroke="#D88F30" stroke-width="0.5"/>
<ellipse cx="132.6" cy="712.7" rx="2.6" ry="1.3" transform="rotate(-25 132.6 712.7)" fill="#EAAA3C" opacity="0.75"/>
<ellipse cx="135.6" cy="717.0" rx="2.4" ry="1.2" transform="rotate(-25 135.6 717.0)" fill="#E6A234" opacity="0.7"/>
<rect x="130.5" y="715.0" width="2.4" height="1.8" fill="#FFF4D8"/>
<rect x="134.3" y="710.5" width="1.6" height="1.4" fill="#FFE9B8"/>
<rect x="129.7" y="710.3" width="1.2" height="1.2" fill="#FFF4D0"/>
<circle cx="128.5" cy="724.3" r="1.6" fill="#F8D588" stroke="#D88F30" stroke-width="0.5"/>
<circle cx="138.7" cy="728.8" r="1.6" fill="#F0BC50" stroke="#D88F30" stroke-width="0.5"/>
<ellipse cx="132.7" cy="721.7" rx="2.6" ry="1.3" transform="rotate(-25 132.7 721.7)" fill="#EAAA3C" opacity="0.75"/>
<ellipse cx="135.7" cy="726.0" rx="2.4" ry="1.2" transform="rotate(-25 135.7 726.0)" fill="#E6A234" opacity="0.7"/>
<rect x="130.5" y="724.0" width="2.4" height="1.8" fill="#FFF4D8"/>
<rect x="134.3" y="719.5" width="1.6" height="1.4" fill="#FFE9B8"/>
<rect x="129.7" y="725.0" width="1.2" height="1.2" fill="#2030A0"/>
<circle cx="129.2" cy="732.1" r="1.8" fill="#F8D588" stroke="#D88F30" stroke-width="0.5"/>
<circle cx="138.6" cy="737.6" r="2.0" fill="#F0BC50" stroke="#D88F30" stroke-width="0.5"/>
<ellipse cx="132.7" cy="730.7" rx="2.6" ry="1.3" transform="rotate(-25 132.7 730.7)" fill="#EAAA3C" opacity="0.75"/>
<ellipse cx="135.7" cy="735.0" rx="2.4" ry="1.2" transform="rotate(-25 135.7 735.0)" fill="#E6A234" opacity="0.7"/>
<rect x="130.6" y="733.0" width="2.4" height="1.8" fill="#FFF4D8"/>
<rect x="134.3" y="728.5" width="1.6" height="1.4" fill="#FFE9B8"/>
<rect x="130.3" y="733.7" width="1.2" height="1.2" fill="#D8301A"/>
<rect x="135.4" y="735.3" width="1.2" height="1.2" fill="#FFF4D0"/>
<circle cx="129.1" cy="740.8" r="1.7" fill="#F8D588" stroke="#D88F30" stroke-width="0.5"/>
<circle cx="138.2" cy="746.9" r="1.6" fill="#F0BC50" stroke="#D88F30" stroke-width="0.5"/>
<ellipse cx="132.7" cy="739.7" rx="2.6" ry="1.3" transform="rotate(-25 132.7 739.7)" fill="#EAAA3C" opacity="0.75"/>
<ellipse cx="135.7" cy="744.0" rx="2.4" ry="1.2" transform="rotate(-25 135.7 744.0)" fill="#E6A234" opacity="0.7"/>
<rect x="130.6" y="742.0" width="2.4" height="1.8" fill="#FFF4D8"/>
<rect x="134.4" y="737.5" width="1.6" height="1.4" fill="#FFE9B8"/>
<rect x="131.9" y="739.6" width="1.2" height="1.2" fill="#D8301A"/>
<circle cx="128.8" cy="751.1" r="1.4" fill="#F8D588" stroke="#D88F30" stroke-width="0.5"/>
<circle cx="138.4" cy="755.5" r="1.5" fill="#F0BC50" stroke="#D88F30" stroke-width="0.5"/>
<ellipse cx="132.8" cy="748.7" rx="2.6" ry="1.3" transform="rotate(-25 132.8 748.7)" fill="#EAAA3C" opacity="0.75"/>
<ellipse cx="135.8" cy="753.0" rx="2.4" ry="1.2" transform="rotate(-25 135.8 753.0)" fill="#E6A234" opacity="0.7"/>
<rect x="130.6" y="751.0" width="2.4" height="1.8" fill="#FFF4D8"/>
<rect x="134.4" y="746.5" width="1.6" height="1.4" fill="#FFE9B8"/>
<rect x="133.1" y="750.4" width="1.2" height="1.2" fill="#7A2A10"/>
<rect x="136.1" y="753.9" width="1.2" height="1.2" fill="#FFF4D0"/>
<circle cx="128.7" cy="758.7" r="1.5" fill="#F8D588" stroke="#D88F30" stroke-width="0.5"/>
<circle cx="138.6" cy="764.4" r="1.7" fill="#F0BC50" stroke="#D88F30" stroke-width="0.5"/>
<ellipse cx="132.8" cy="757.7" rx="2.6" ry="1.3" transform="rotate(-25 132.8 757.7)" fill="#EAAA3C" opacity="0.75"/>
<ellipse cx="135.8" cy="762.0" rx="2.4" ry="1.2" transform="rotate(-25 135.8 762.0)" fill="#E6A234" opacity="0.7"/>
<rect x="130.7" y="760.0" width="2.4" height="1.8" fill="#FFF4D8"/>
<rect x="134.4" y="755.5" width="1.6" height="1.4" fill="#FFE9B8"/>
<rect x="133.0" y="762.1" width="1.2" height="1.2" fill="#FFF4D0"/>
<rect x="135.9" y="760.3" width="1.2" height="1.2" fill="#FFFFFF"/>
<circle cx="128.7" cy="769.2" r="1.6" fill="#F8D588" stroke="#D88F30" stroke-width="0.5"/>
<circle cx="138.7" cy="772.7" r="1.8" fill="#F0BC50" stroke="#D88F30" stroke-width="0.5"/>
<ellipse cx="132.8" cy="766.7" rx="2.6" ry="1.3" transform="rotate(-25 132.8 766.7)" fill="#EAAA3C" opacity="0.75"/>
<ellipse cx="135.8" cy="771.0" rx="2.4" ry="1.2" transform="rotate(-25 135.8 771.0)" fill="#E6A234" opacity="0.7"/>
<rect x="130.7" y="769.0" width="2.4" height="1.8" fill="#FFF4D8"/>
<rect x="134.4" y="764.5" width="1.6" height="1.4" fill="#FFE9B8"/>
<rect x="131.0" y="765.9" width="1.2" height="1.2" fill="#D8301A"/>
<rect x="131.0" y="764.5" width="1.2" height="1.2" fill="#2030A0"/>
<circle cx="128.8" cy="777.0" r="1.7" fill="#F8D588" stroke="#D88F30" stroke-width="0.5"/>
<circle cx="138.8" cy="781.2" r="1.7" fill="#F0BC50" stroke="#D88F30" stroke-width="0.5"/>
<ellipse cx="132.8" cy="775.7" rx="2.6" ry="1.3" transform="rotate(-25 132.8 775.7)" fill="#EAAA3C" opacity="0.75"/>
<ellipse cx="135.8" cy="780.0" rx="2.4" ry="1.2" transform="rotate(-25 135.8 780.0)" fill="#E6A234" opacity="0.7"/>
<rect x="130.7" y="778.0" width="2.4" height="1.8" fill="#FFF4D8"/>
<rect x="134.5" y="773.5" width="1.6" height="1.4" fill="#FFE9B8"/>
<rect x="133.2" y="779.6" width="1.2" height="1.2" fill="#7A2A10"/>
<circle cx="129.4" cy="785.6" r="1.6" fill="#F8D588" stroke="#D88F30" stroke-width="0.5"/>
<circle cx="138.4" cy="790.4" r="2.0" fill="#F0BC50" stroke="#D88F30" stroke-width="0.5"/>
<ellipse cx="132.9" cy="784.7" rx="2.6" ry="1.3" transform="rotate(-25 132.9 784.7)" fill="#EAAA3C" opacity="0.75"/>
<ellipse cx="135.9" cy="789.0" rx="2.4" ry="1.2" transform="rotate(-25 135.9 789.0)" fill="#E6A234" opacity="0.7"/>
<rect x="130.7" y="787.0" width="2.4" height="1.8" fill="#FFF4D8"/>
<rect x="134.5" y="782.5" width="1.6" height="1.4" fill="#FFE9B8"/>
<rect x="132.4" y="788.9" width="1.2" height="1.2" fill="#B03A10"/>
<rect x="135.4" y="787.3" width="1.2" height="1.2" fill="#5A1A10"/>
<circle cx="128.7" cy="795.8" r="1.8" fill="#F8D588" stroke="#D88F30" stroke-width="0.5"/>
<circle cx="138.6" cy="799.1" r="1.6" fill="#F0BC50" stroke="#D88F30" stroke-width="0.5"/>
<ellipse cx="132.9" cy="793.7" rx="2.6" ry="1.3" transform="rotate(-25 132.9 793.7)" fill="#EAAA3C" opacity="0.75"/>
<ellipse cx="135.9" cy="798.0" rx="2.4" ry="1.2" transform="rotate(-25 135.9 798.0)" fill="#E6A234" opacity="0.7"/>
<rect x="130.8" y="796.0" width="2.4" height="1.8" fill="#FFF4D8"/>
<rect x="134.5" y="791.5" width="1.6" height="1.4" fill="#FFE9B8"/>
<rect x="129.9" y="796.9" width="1.2" height="1.2" fill="#5A1A10"/>
<circle cx="129.3" cy="805.1" r="1.6" fill="#F8D588" stroke="#D88F30" stroke-width="0.5"/>
<circle cx="138.7" cy="809.2" r="1.4" fill="#F0BC50" stroke="#D88F30" stroke-width="0.5"/>
<ellipse cx="132.9" cy="802.7" rx="2.6" ry="1.3" transform="rotate(-25 132.9 802.7)" fill="#EAAA3C" opacity="0.75"/>
<ellipse cx="135.9" cy="807.0" rx="2.4" ry="1.2" transform="rotate(-25 135.9 807.0)" fill="#E6A234" opacity="0.7"/>
<rect x="130.8" y="805.0" width="2.4" height="1.8" fill="#FFF4D8"/>
<rect x="134.6" y="800.5" width="1.6" height="1.4" fill="#FFE9B8"/>
<rect x="133.8" y="800.5" width="1.2" height="1.2" fill="#FFF4D0"/>
<rect x="134.7" y="801.2" width="1.2" height="1.2" fill="#FFF4D0"/>
<circle cx="129.1" cy="813.8" r="1.6" fill="#F8D588" stroke="#D88F30" stroke-width="0.5"/>
<circle cx="138.6" cy="819.0" r="1.8" fill="#F0BC50" stroke="#D88F30" stroke-width="0.5"/>
<ellipse cx="133.0" cy="811.7" rx="2.6" ry="1.3" transform="rotate(-25 133.0 811.7)" fill="#EAAA3C" opacity="0.75"/>
<ellipse cx="136.0" cy="816.0" rx="2.4" ry="1.2" transform="rotate(-25 136.0 816.0)" fill="#E6A234" opacity="0.7"/>
<rect x="130.8" y="814.0" width="2.4" height="1.8" fill="#FFF4D8"/>
<rect x="134.6" y="809.5" width="1.6" height="1.4" fill="#FFE9B8"/>
<rect x="132.1" y="813.5" width="1.2" height="1.2" fill="#7A2A10"/>
<rect x="129.8" y="815.1" width="1.2" height="1.2" fill="#FFF4D0"/>
<circle cx="129.4" cy="822.8" r="1.6" fill="#F8D588" stroke="#D88F30" stroke-width="0.5"/>
<circle cx="138.8" cy="827.9" r="1.7" fill="#F0BC50" stroke="#D88F30" stroke-width="0.5"/>
<ellipse cx="133.0" cy="820.7" rx="2.6" ry="1.3" transform="rotate(-25 133.0 820.7)" fill="#EAAA3C" opacity="0.75"/>
<ellipse cx="136.0" cy="825.0" rx="2.4" ry="1.2" transform="rotate(-25 136.0 825.0)" fill="#E6A234" opacity="0.7"/>
<rect x="130.9" y="823.0" width="2.4" height="1.8" fill="#FFF4D8"/>
<rect x="134.6" y="818.5" width="1.6" height="1.4" fill="#FFE9B8"/>
<rect x="135.9" y="821.2" width="1.2" height="1.2" fill="#B03A10"/>
<circle cx="129.1" cy="830.8" r="1.4" fill="#F8D588" stroke="#D88F30" stroke-width="0.5"/>
<circle cx="138.9" cy="836.3" r="1.9" fill="#F0BC50" stroke="#D88F30" stroke-width="0.5"/>
<ellipse cx="133.0" cy="829.7" rx="2.6" ry="1.3" transform="rotate(-25 133.0 829.7)" fill="#EAAA3C" opacity="0.75"/>
<ellipse cx="136.0" cy="834.0" rx="2.4" ry="1.2" transform="rotate(-25 136.0 834.0)" fill="#E6A234" opacity="0.7"/>
<rect x="130.9" y="832.0" width="2.4" height="1.8" fill="#FFF4D8"/>
<rect x="134.6" y="827.5" width="1.6" height="1.4" fill="#FFE9B8"/>
<rect x="136.7" y="832.9" width="1.2" height="1.2" fill="#2030A0"/>
<rect x="131.9" y="831.2" width="1.2" height="1.2" fill="#FFFFFF"/>
<rect x="127" y="837" width="15" height="26.5" fill="#F2C66E"/>
<rect x="128.5" y="839" width="5" height="22" fill="#F8D98F"/>
<rect x="139" y="839" width="2" height="22" fill="#E7AE50"/>
<path d="M127.5,866 L140.5,866 L141.5,880 L142.5,900 L143,932 L125,932 L125.5,900 L126.5,880 Z" fill="#E9B24E"/>
<ellipse cx="134.2" cy="866.5" rx="8.2" ry="8.5" fill="#F3C868"/>
<ellipse cx="134" cy="887" rx="11" ry="12.7" fill="#F2C462"/>
<ellipse cx="134.3" cy="909.6" rx="11.8" ry="9.9" fill="#F3C866"/>
<ellipse cx="134.3" cy="928" rx="11.8" ry="8.8" fill="#F2C462"/>
<ellipse cx="134.2" cy="867" rx="5.5" ry="5.8" fill="none" stroke="#D98E2C" stroke-width="1.3"/>
<ellipse cx="134.2" cy="867" rx="7.8" ry="8.1" fill="none" stroke="#FBE3A8" stroke-width="0.8" opacity="0.8"/>
<ellipse cx="134" cy="889" rx="6.8" ry="7.6" fill="none" stroke="#D98E2C" stroke-width="1.3"/>
<ellipse cx="134" cy="889" rx="9.1" ry="9.899999999999999" fill="none" stroke="#FBE3A8" stroke-width="0.8" opacity="0.8"/>
<ellipse cx="134.3" cy="908.8" rx="7.2" ry="6.8" fill="none" stroke="#D98E2C" stroke-width="1.3"/>
<ellipse cx="134.3" cy="908.8" rx="9.5" ry="9.1" fill="none" stroke="#FBE3A8" stroke-width="0.8" opacity="0.8"/>
<ellipse cx="134.3" cy="927.8" rx="7.2" ry="5.8" fill="none" stroke="#D98E2C" stroke-width="1.3"/>
<ellipse cx="134.3" cy="927.8" rx="9.5" ry="8.1" fill="none" stroke="#FBE3A8" stroke-width="0.8" opacity="0.8"/>
<rect x="130" y="906.2" width="8.5" height="4.6" fill="#FFF3D6"/>
<rect x="131" y="908.6" width="6.5" height="0.9" fill="#6A4A20"/>
<rect x="128.5" y="887" width="2.6" height="1.6" fill="#5A3A10"/>
<rect x="132.5" y="887.5" width="2" height="1.5" fill="#5A3A10"/>
<path d="M130.5,927.2 L138,927.2 L134.2,932 Z" fill="#000"/>
<rect x="124.5" y="882" width="1.5" height="1.5" fill="#FFF0C8"/>
<rect x="142" y="903" width="1.5" height="1.5" fill="#FFF0C8"/>
<rect x="123.5" y="922" width="1.5" height="1.5" fill="#FFF0C8"/>
<rect x="140" y="873" width="1.4" height="1.4" fill="#8A2A10"/>
<rect x="126" y="897" width="1.4" height="1.4" fill="#2A2AA0"/>
<rect x="137.5" y="160.2" width="7.0" height="17.5" fill="#F6D07A"/>
<rect x="137.5" y="160.2" width="2" height="17.5" fill="#FBE2A4"/>
<rect x="142.2" y="163.5" width="1.6" height="10" fill="#6A4818"/>
<rect x="160.5" y="160.5" width="7" height="17" fill="#F3CA6C"/>
<rect x="163.2" y="162.0" width="1.6" height="11" fill="#7A5418"/>
<rect x="164.8" y="162.0" width="1.6" height="11" fill="#D8A848"/>
<rect x="166.5" y="161.5" width="1.5" height="15" fill="#FCE7AE"/>
<rect x="144.0" y="177.8" width="17" height="4" fill="#F2F2EE"/>
<rect x="144.5" y="156.2" width="16" height="2.6" fill="#D6D2C2"/>
<rect x="147.0" y="156.2" width="1" height="2.6" fill="#A8A8A0"/>
<rect x="152.0" y="156.2" width="1" height="2.6" fill="#A8A8A0"/>
<rect x="156.5" y="156.2" width="1" height="2.6" fill="#A8A8A0"/>
<rect x="148.0" y="178.8" width="1.2" height="2.5" fill="#8E8E90"/>
<rect x="153.0" y="178.8" width="1.2" height="2.5" fill="#8E8E90"/>
<rect x="157.0" y="178.8" width="1.2" height="2.5" fill="#8E8E90"/>
<rect x="137.7" y="204.2" width="7.0" height="17.5" fill="#F6D07A"/>
<rect x="137.7" y="204.2" width="2" height="17.5" fill="#FBE2A4"/>
<rect x="142.4" y="207.5" width="1.6" height="10" fill="#6A4818"/>
<rect x="160.7" y="204.5" width="7" height="17" fill="#F3CA6C"/>
<rect x="163.4" y="206.0" width="1.6" height="11" fill="#7A5418"/>
<rect x="165.0" y="206.0" width="1.6" height="11" fill="#D8A848"/>
<rect x="166.7" y="205.5" width="1.5" height="15" fill="#FCE7AE"/>
<rect x="144.2" y="221.8" width="17" height="4" fill="#F2F2EE"/>
<rect x="144.7" y="200.2" width="16" height="2.6" fill="#D6D2C2"/>
<rect x="147.2" y="200.2" width="1" height="2.6" fill="#A8A8A0"/>
<rect x="152.2" y="200.2" width="1" height="2.6" fill="#A8A8A0"/>
<rect x="156.7" y="200.2" width="1" height="2.6" fill="#A8A8A0"/>
<rect x="148.2" y="222.8" width="1.2" height="2.5" fill="#8E8E90"/>
<rect x="153.2" y="222.8" width="1.2" height="2.5" fill="#8E8E90"/>
<rect x="157.2" y="222.8" width="1.2" height="2.5" fill="#8E8E90"/>
<rect x="137.9" y="247.8" width="7.0" height="17.5" fill="#F6D07A"/>
<rect x="137.9" y="247.8" width="2" height="17.5" fill="#FBE2A4"/>
<rect x="142.6" y="251.0" width="1.6" height="10" fill="#6A4818"/>
<rect x="160.9" y="248.0" width="7" height="17" fill="#F3CA6C"/>
<rect x="163.6" y="249.5" width="1.6" height="11" fill="#7A5418"/>
<rect x="165.2" y="249.5" width="1.6" height="11" fill="#D8A848"/>
<rect x="166.9" y="249.0" width="1.5" height="15" fill="#FCE7AE"/>
<rect x="144.4" y="265.2" width="17" height="4" fill="#F2F2EE"/>
<rect x="144.9" y="243.8" width="16" height="2.6" fill="#D6D2C2"/>
<rect x="147.4" y="243.8" width="1" height="2.6" fill="#A8A8A0"/>
<rect x="152.4" y="243.8" width="1" height="2.6" fill="#A8A8A0"/>
<rect x="156.9" y="243.8" width="1" height="2.6" fill="#A8A8A0"/>
<rect x="148.4" y="266.2" width="1.2" height="2.5" fill="#8E8E90"/>
<rect x="153.4" y="266.2" width="1.2" height="2.5" fill="#8E8E90"/>
<rect x="157.4" y="266.2" width="1.2" height="2.5" fill="#8E8E90"/>
<rect x="138.0" y="291.6" width="7.0" height="17.5" fill="#F6D07A"/>
<rect x="138.0" y="291.6" width="2" height="17.5" fill="#FBE2A4"/>
<rect x="142.7" y="294.9" width="1.6" height="10" fill="#6A4818"/>
<rect x="161.0" y="291.9" width="7" height="17" fill="#F3CA6C"/>
<rect x="163.7" y="293.4" width="1.6" height="11" fill="#7A5418"/>
<rect x="165.3" y="293.4" width="1.6" height="11" fill="#D8A848"/>
<rect x="167.0" y="292.9" width="1.5" height="15" fill="#FCE7AE"/>
<rect x="144.5" y="309.1" width="17" height="4" fill="#F2F2EE"/>
<rect x="145.0" y="287.6" width="16" height="2.6" fill="#D6D2C2"/>
<rect x="147.5" y="287.6" width="1" height="2.6" fill="#A8A8A0"/>
<rect x="152.5" y="287.6" width="1" height="2.6" fill="#A8A8A0"/>
<rect x="157.0" y="287.6" width="1" height="2.6" fill="#A8A8A0"/>
<rect x="148.5" y="310.1" width="1.2" height="2.5" fill="#8E8E90"/>
<rect x="153.5" y="310.1" width="1.2" height="2.5" fill="#8E8E90"/>
<rect x="157.5" y="310.1" width="1.2" height="2.5" fill="#8E8E90"/>
<rect x="138.2" y="336.1" width="7.0" height="17.5" fill="#F6D07A"/>
<rect x="138.2" y="336.1" width="2" height="17.5" fill="#FBE2A4"/>
<rect x="142.9" y="339.3" width="1.6" height="10" fill="#6A4818"/>
<rect x="161.2" y="336.3" width="7" height="17" fill="#F3CA6C"/>
<rect x="163.9" y="337.8" width="1.6" height="11" fill="#7A5418"/>
<rect x="165.5" y="337.8" width="1.6" height="11" fill="#D8A848"/>
<rect x="167.2" y="337.3" width="1.5" height="15" fill="#FCE7AE"/>
<rect x="144.7" y="353.6" width="17" height="4" fill="#F2F2EE"/>
<rect x="145.2" y="332.1" width="16" height="2.6" fill="#D6D2C2"/>
<rect x="147.7" y="332.1" width="1" height="2.6" fill="#A8A8A0"/>
<rect x="152.7" y="332.1" width="1" height="2.6" fill="#A8A8A0"/>
<rect x="157.2" y="332.1" width="1" height="2.6" fill="#A8A8A0"/>
<rect x="148.7" y="354.6" width="1.2" height="2.5" fill="#8E8E90"/>
<rect x="153.7" y="354.6" width="1.2" height="2.5" fill="#8E8E90"/>
<rect x="157.7" y="354.6" width="1.2" height="2.5" fill="#8E8E90"/>
<rect x="138.4" y="379.6" width="7.0" height="17.5" fill="#F6D07A"/>
<rect x="138.4" y="379.6" width="2" height="17.5" fill="#FBE2A4"/>
<rect x="143.1" y="382.8" width="1.6" height="10" fill="#6A4818"/>
<rect x="161.4" y="379.8" width="7" height="17" fill="#F3CA6C"/>
<rect x="164.1" y="381.3" width="1.6" height="11" fill="#7A5418"/>
<rect x="165.7" y="381.3" width="1.6" height="11" fill="#D8A848"/>
<rect x="167.4" y="380.8" width="1.5" height="15" fill="#FCE7AE"/>
<rect x="144.9" y="397.1" width="17" height="4" fill="#F2F2EE"/>
<rect x="145.4" y="375.6" width="16" height="2.6" fill="#D6D2C2"/>
<rect x="147.9" y="375.6" width="1" height="2.6" fill="#A8A8A0"/>
<rect x="152.9" y="375.6" width="1" height="2.6" fill="#A8A8A0"/>
<rect x="157.4" y="375.6" width="1" height="2.6" fill="#A8A8A0"/>
<rect x="148.9" y="398.1" width="1.2" height="2.5" fill="#8E8E90"/>
<rect x="153.9" y="398.1" width="1.2" height="2.5" fill="#8E8E90"/>
<rect x="157.9" y="398.1" width="1.2" height="2.5" fill="#8E8E90"/>
<rect x="138.6" y="424.6" width="7.0" height="17.5" fill="#F6D07A"/>
<rect x="138.6" y="424.6" width="2" height="17.5" fill="#FBE2A4"/>
<rect x="143.3" y="427.8" width="1.6" height="10" fill="#6A4818"/>
<rect x="161.6" y="424.8" width="7" height="17" fill="#F3CA6C"/>
<rect x="164.3" y="426.3" width="1.6" height="11" fill="#7A5418"/>
<rect x="165.9" y="426.3" width="1.6" height="11" fill="#D8A848"/>
<rect x="167.6" y="425.8" width="1.5" height="15" fill="#FCE7AE"/>
<rect x="145.1" y="442.1" width="17" height="4" fill="#F2F2EE"/>
<rect x="145.6" y="420.6" width="16" height="2.6" fill="#D6D2C2"/>
<rect x="148.1" y="420.6" width="1" height="2.6" fill="#A8A8A0"/>
<rect x="153.1" y="420.6" width="1" height="2.6" fill="#A8A8A0"/>
<rect x="157.6" y="420.6" width="1" height="2.6" fill="#A8A8A0"/>
<rect x="149.1" y="443.1" width="1.2" height="2.5" fill="#8E8E90"/>
<rect x="154.1" y="443.1" width="1.2" height="2.5" fill="#8E8E90"/>
<rect x="158.1" y="443.1" width="1.2" height="2.5" fill="#8E8E90"/>
<rect x="138.8" y="468.6" width="7.0" height="17.5" fill="#F6D07A"/>
<rect x="138.8" y="468.6" width="2" height="17.5" fill="#FBE2A4"/>
<rect x="143.4" y="471.9" width="1.6" height="10" fill="#6A4818"/>
<rect x="161.8" y="468.9" width="7" height="17" fill="#F3CA6C"/>
<rect x="164.4" y="470.4" width="1.6" height="11" fill="#7A5418"/>
<rect x="166.1" y="470.4" width="1.6" height="11" fill="#D8A848"/>
<rect x="167.8" y="469.9" width="1.5" height="15" fill="#FCE7AE"/>
<rect x="145.2" y="486.1" width="17" height="4" fill="#F2F2EE"/>
<rect x="145.8" y="464.6" width="16" height="2.6" fill="#D6D2C2"/>
<rect x="148.2" y="464.6" width="1" height="2.6" fill="#A8A8A0"/>
<rect x="153.2" y="464.6" width="1" height="2.6" fill="#A8A8A0"/>
<rect x="157.8" y="464.6" width="1" height="2.6" fill="#A8A8A0"/>
<rect x="149.2" y="487.1" width="1.2" height="2.5" fill="#8E8E90"/>
<rect x="154.2" y="487.1" width="1.2" height="2.5" fill="#8E8E90"/>
<rect x="158.2" y="487.1" width="1.2" height="2.5" fill="#8E8E90"/>
<rect x="138.9" y="513.0" width="7.0" height="17.5" fill="#F6D07A"/>
<rect x="138.9" y="513.0" width="2" height="17.5" fill="#FBE2A4"/>
<rect x="143.6" y="516.3" width="1.6" height="10" fill="#6A4818"/>
<rect x="161.9" y="513.3" width="7" height="17" fill="#F3CA6C"/>
<rect x="164.6" y="514.8" width="1.6" height="11" fill="#7A5418"/>
<rect x="166.2" y="514.8" width="1.6" height="11" fill="#D8A848"/>
<rect x="167.9" y="514.3" width="1.5" height="15" fill="#FCE7AE"/>
<rect x="145.4" y="530.5" width="17" height="4" fill="#F2F2EE"/>
<rect x="145.9" y="509.0" width="16" height="2.6" fill="#D6D2C2"/>
<rect x="148.4" y="509.0" width="1" height="2.6" fill="#A8A8A0"/>
<rect x="153.4" y="509.0" width="1" height="2.6" fill="#A8A8A0"/>
<rect x="157.9" y="509.0" width="1" height="2.6" fill="#A8A8A0"/>
<rect x="149.4" y="531.5" width="1.2" height="2.5" fill="#8E8E90"/>
<rect x="154.4" y="531.5" width="1.2" height="2.5" fill="#8E8E90"/>
<rect x="158.4" y="531.5" width="1.2" height="2.5" fill="#8E8E90"/>
<rect x="139.1" y="558.0" width="7.0" height="17.5" fill="#F6D07A"/>
<rect x="139.1" y="558.0" width="2" height="17.5" fill="#FBE2A4"/>
<rect x="143.8" y="561.2" width="1.6" height="10" fill="#6A4818"/>
<rect x="162.1" y="558.2" width="7" height="17" fill="#F3CA6C"/>
<rect x="164.8" y="559.7" width="1.6" height="11" fill="#7A5418"/>
<rect x="166.4" y="559.7" width="1.6" height="11" fill="#D8A848"/>
<rect x="168.1" y="559.2" width="1.5" height="15" fill="#FCE7AE"/>
<rect x="145.6" y="575.5" width="17" height="4" fill="#F2F2EE"/>
<rect x="146.1" y="554.0" width="16" height="2.6" fill="#D6D2C2"/>
<rect x="148.6" y="554.0" width="1" height="2.6" fill="#A8A8A0"/>
<rect x="153.6" y="554.0" width="1" height="2.6" fill="#A8A8A0"/>
<rect x="158.1" y="554.0" width="1" height="2.6" fill="#A8A8A0"/>
<rect x="149.6" y="576.5" width="1.2" height="2.5" fill="#8E8E90"/>
<rect x="154.6" y="576.5" width="1.2" height="2.5" fill="#8E8E90"/>
<rect x="158.6" y="576.5" width="1.2" height="2.5" fill="#8E8E90"/>
<rect x="139.3" y="602.5" width="7.0" height="17.5" fill="#F6D07A"/>
<rect x="139.3" y="602.5" width="2" height="17.5" fill="#FBE2A4"/>
<rect x="144.0" y="605.7" width="1.6" height="10" fill="#6A4818"/>
<rect x="162.3" y="602.7" width="7" height="17" fill="#F3CA6C"/>
<rect x="165.0" y="604.2" width="1.6" height="11" fill="#7A5418"/>
<rect x="166.6" y="604.2" width="1.6" height="11" fill="#D8A848"/>
<rect x="168.3" y="603.7" width="1.5" height="15" fill="#FCE7AE"/>
<rect x="145.8" y="620.0" width="17" height="4" fill="#F2F2EE"/>
<rect x="146.3" y="598.5" width="16" height="2.6" fill="#D6D2C2"/>
<rect x="148.8" y="598.5" width="1" height="2.6" fill="#A8A8A0"/>
<rect x="153.8" y="598.5" width="1" height="2.6" fill="#A8A8A0"/>
<rect x="158.3" y="598.5" width="1" height="2.6" fill="#A8A8A0"/>
<rect x="149.8" y="621.0" width="1.2" height="2.5" fill="#8E8E90"/>
<rect x="154.8" y="621.0" width="1.2" height="2.5" fill="#8E8E90"/>
<rect x="158.8" y="621.0" width="1.2" height="2.5" fill="#8E8E90"/>
<rect x="139.5" y="647.5" width="7.0" height="17.5" fill="#F6D07A"/>
<rect x="139.5" y="647.5" width="2" height="17.5" fill="#FBE2A4"/>
<rect x="144.2" y="650.8" width="1.6" height="10" fill="#6A4818"/>
<rect x="162.5" y="647.8" width="7" height="17" fill="#F3CA6C"/>
<rect x="165.2" y="649.3" width="1.6" height="11" fill="#7A5418"/>
<rect x="166.8" y="649.3" width="1.6" height="11" fill="#D8A848"/>
<rect x="168.5" y="648.8" width="1.5" height="15" fill="#FCE7AE"/>
<rect x="146.0" y="665.0" width="17" height="4" fill="#F2F2EE"/>
<rect x="146.5" y="643.5" width="16" height="2.6" fill="#D6D2C2"/>
<rect x="149.0" y="643.5" width="1" height="2.6" fill="#A8A8A0"/>
<rect x="154.0" y="643.5" width="1" height="2.6" fill="#A8A8A0"/>
<rect x="158.5" y="643.5" width="1" height="2.6" fill="#A8A8A0"/>
<rect x="150.0" y="666.0" width="1.2" height="2.5" fill="#8E8E90"/>
<rect x="155.0" y="666.0" width="1.2" height="2.5" fill="#8E8E90"/>
<rect x="159.0" y="666.0" width="1.2" height="2.5" fill="#8E8E90"/>
<rect x="139.6" y="692.5" width="7.0" height="17.5" fill="#F6D07A"/>
<rect x="139.6" y="692.5" width="2" height="17.5" fill="#FBE2A4"/>
<rect x="144.3" y="695.8" width="1.6" height="10" fill="#6A4818"/>
<rect x="162.6" y="692.8" width="7" height="17" fill="#F3CA6C"/>
<rect x="165.3" y="694.3" width="1.6" height="11" fill="#7A5418"/>
<rect x="166.9" y="694.3" width="1.6" height="11" fill="#D8A848"/>
<rect x="168.6" y="693.8" width="1.5" height="15" fill="#FCE7AE"/>
<rect x="146.1" y="710.0" width="17" height="4" fill="#F2F2EE"/>
<rect x="146.6" y="688.5" width="16" height="2.6" fill="#D6D2C2"/>
<rect x="149.1" y="688.5" width="1" height="2.6" fill="#A8A8A0"/>
<rect x="154.1" y="688.5" width="1" height="2.6" fill="#A8A8A0"/>
<rect x="158.6" y="688.5" width="1" height="2.6" fill="#A8A8A0"/>
<rect x="150.1" y="711.0" width="1.2" height="2.5" fill="#8E8E90"/>
<rect x="155.1" y="711.0" width="1.2" height="2.5" fill="#8E8E90"/>
<rect x="159.1" y="711.0" width="1.2" height="2.5" fill="#8E8E90"/>
<rect x="139.8" y="737.6" width="7.0" height="17.5" fill="#F6D07A"/>
<rect x="139.8" y="737.6" width="2" height="17.5" fill="#FBE2A4"/>
<rect x="144.5" y="740.9" width="1.6" height="10" fill="#6A4818"/>
<rect x="162.8" y="737.9" width="7" height="17" fill="#F3CA6C"/>
<rect x="165.5" y="739.4" width="1.6" height="11" fill="#7A5418"/>
<rect x="167.1" y="739.4" width="1.6" height="11" fill="#D8A848"/>
<rect x="168.8" y="738.9" width="1.5" height="15" fill="#FCE7AE"/>
<rect x="146.3" y="755.1" width="17" height="4" fill="#F2F2EE"/>
<rect x="146.8" y="733.6" width="16" height="2.6" fill="#D6D2C2"/>
<rect x="149.3" y="733.6" width="1" height="2.6" fill="#A8A8A0"/>
<rect x="154.3" y="733.6" width="1" height="2.6" fill="#A8A8A0"/>
<rect x="158.8" y="733.6" width="1" height="2.6" fill="#A8A8A0"/>
<rect x="150.3" y="756.1" width="1.2" height="2.5" fill="#8E8E90"/>
<rect x="155.3" y="756.1" width="1.2" height="2.5" fill="#8E8E90"/>
<rect x="159.3" y="756.1" width="1.2" height="2.5" fill="#8E8E90"/>
<rect x="140.0" y="782.9" width="7.0" height="17.5" fill="#F6D07A"/>
<rect x="140.0" y="782.9" width="2" height="17.5" fill="#FBE2A4"/>
<rect x="144.7" y="786.1" width="1.6" height="10" fill="#6A4818"/>
<rect x="163.0" y="783.1" width="7" height="17" fill="#F3CA6C"/>
<rect x="165.7" y="784.6" width="1.6" height="11" fill="#7A5418"/>
<rect x="167.3" y="784.6" width="1.6" height="11" fill="#D8A848"/>
<rect x="169.0" y="784.1" width="1.5" height="15" fill="#FCE7AE"/>
<rect x="146.5" y="800.4" width="17" height="4" fill="#F2F2EE"/>
<rect x="147.0" y="778.9" width="16" height="2.6" fill="#D6D2C2"/>
<rect x="149.5" y="778.9" width="1" height="2.6" fill="#A8A8A0"/>
<rect x="154.5" y="778.9" width="1" height="2.6" fill="#A8A8A0"/>
<rect x="159.0" y="778.9" width="1" height="2.6" fill="#A8A8A0"/>
<rect x="150.5" y="801.4" width="1.2" height="2.5" fill="#8E8E90"/>
<rect x="155.5" y="801.4" width="1.2" height="2.5" fill="#8E8E90"/>
<rect x="159.5" y="801.4" width="1.2" height="2.5" fill="#8E8E90"/>
<polygon points="562.8,166 575.0,166 576.4000000000001,757 564.2,757" fill="#F6CB5E"/>
<circle cx="564.5" cy="168.2" r="1.7" fill="#F8D588" stroke="#D88F30" stroke-width="0.5"/>
<circle cx="573.8" cy="172.9" r="1.5" fill="#F0BC50" stroke="#D88F30" stroke-width="0.5"/>
<ellipse cx="567.9" cy="167.8" rx="2.6" ry="1.3" transform="rotate(-25 567.9 167.8)" fill="#EAAA3C" opacity="0.75"/>
<ellipse cx="570.9" cy="170.7" rx="2.4" ry="1.2" transform="rotate(-25 570.9 170.7)" fill="#E6A234" opacity="0.7"/>
<rect x="565.8" y="169.3" width="2.4" height="1.8" fill="#FFF4D8"/>
<rect x="569.5" y="166.5" width="1.6" height="1.4" fill="#FFE9B8"/>
<rect x="571.8" y="168.4" width="1.2" height="1.2" fill="#7A2A10"/>
<rect x="565.4" y="169.6" width="1.2" height="1.2" fill="#FFF4D0"/>
<circle cx="564.4" cy="175.8" r="1.8" fill="#F8D588" stroke="#D88F30" stroke-width="0.5"/>
<circle cx="573.9" cy="178.2" r="1.8" fill="#F0BC50" stroke="#D88F30" stroke-width="0.5"/>
<ellipse cx="567.9" cy="173.8" rx="2.6" ry="1.3" transform="rotate(-25 567.9 173.8)" fill="#EAAA3C" opacity="0.75"/>
<ellipse cx="570.9" cy="176.7" rx="2.4" ry="1.2" transform="rotate(-25 570.9 176.7)" fill="#E6A234" opacity="0.7"/>
<rect x="565.9" y="175.3" width="2.4" height="1.8" fill="#FFF4D8"/>
<rect x="569.5" y="172.5" width="1.6" height="1.4" fill="#FFE9B8"/>
<rect x="566.1" y="173.1" width="1.2" height="1.2" fill="#FFF4D0"/>
<rect x="565.9" y="173.8" width="1.2" height="1.2" fill="#FFFFFF"/>
<circle cx="563.9" cy="181.9" r="1.9" fill="#F8D588" stroke="#D88F30" stroke-width="0.5"/>
<circle cx="573.4" cy="184.8" r="1.9" fill="#F0BC50" stroke="#D88F30" stroke-width="0.5"/>
<ellipse cx="568.0" cy="179.8" rx="2.6" ry="1.3" transform="rotate(-25 568.0 179.8)" fill="#EAAA3C" opacity="0.75"/>
<ellipse cx="570.9" cy="182.7" rx="2.4" ry="1.2" transform="rotate(-25 570.9 182.7)" fill="#E6A234" opacity="0.7"/>
<rect x="565.9" y="181.3" width="2.4" height="1.8" fill="#FFF4D8"/>
<rect x="569.5" y="178.5" width="1.6" height="1.4" fill="#FFE9B8"/>
<circle cx="564.1" cy="186.8" r="1.7" fill="#F8D588" stroke="#D88F30" stroke-width="0.5"/>
<circle cx="573.9" cy="190.6" r="1.8" fill="#F0BC50" stroke="#D88F30" stroke-width="0.5"/>
<ellipse cx="568.0" cy="185.8" rx="2.6" ry="1.3" transform="rotate(-25 568.0 185.8)" fill="#EAAA3C" opacity="0.75"/>
<ellipse cx="570.9" cy="188.7" rx="2.4" ry="1.2" transform="rotate(-25 570.9 188.7)" fill="#E6A234" opacity="0.7"/>
<rect x="565.9" y="187.3" width="2.4" height="1.8" fill="#FFF4D8"/>
<rect x="569.6" y="184.5" width="1.6" height="1.4" fill="#FFE9B8"/>
<rect x="567.9" y="187.3" width="1.2" height="1.2" fill="#D8301A"/>
<rect x="566.1" y="184.0" width="1.2" height="1.2" fill="#FFF4D0"/>
<circle cx="564.6" cy="192.9" r="1.7" fill="#F8D588" stroke="#D88F30" stroke-width="0.5"/>
<circle cx="573.8" cy="196.6" r="1.9" fill="#F0BC50" stroke="#D88F30" stroke-width="0.5"/>
<ellipse cx="568.0" cy="191.8" rx="2.6" ry="1.3" transform="rotate(-25 568.0 191.8)" fill="#EAAA3C" opacity="0.75"/>
<ellipse cx="570.9" cy="194.7" rx="2.4" ry="1.2" transform="rotate(-25 570.9 194.7)" fill="#E6A234" opacity="0.7"/>
<rect x="565.9" y="193.3" width="2.4" height="1.8" fill="#FFF4D8"/>
<rect x="569.6" y="190.5" width="1.6" height="1.4" fill="#FFE9B8"/>
<rect x="565.8" y="192.2" width="1.2" height="1.2" fill="#B03A10"/>
<circle cx="563.9" cy="198.9" r="1.7" fill="#F8D588" stroke="#D88F30" stroke-width="0.5"/>
<circle cx="573.3" cy="202.3" r="1.4" fill="#F0BC50" stroke="#D88F30" stroke-width="0.5"/>
<ellipse cx="568.0" cy="197.8" rx="2.6" ry="1.3" transform="rotate(-25 568.0 197.8)" fill="#EAAA3C" opacity="0.75"/>
<ellipse cx="570.9" cy="200.7" rx="2.4" ry="1.2" transform="rotate(-25 570.9 200.7)" fill="#E6A234" opacity="0.7"/>
<rect x="565.9" y="199.3" width="2.4" height="1.8" fill="#FFF4D8"/>
<rect x="569.6" y="196.5" width="1.6" height="1.4" fill="#FFE9B8"/>
<circle cx="564.3" cy="204.1" r="1.7" fill="#F8D588" stroke="#D88F30" stroke-width="0.5"/>
<circle cx="573.6" cy="208.9" r="1.5" fill="#F0BC50" stroke="#D88F30" stroke-width="0.5"/>
<ellipse cx="568.0" cy="203.8" rx="2.6" ry="1.3" transform="rotate(-25 568.0 203.8)" fill="#EAAA3C" opacity="0.75"/>
<ellipse cx="570.9" cy="206.7" rx="2.4" ry="1.2" transform="rotate(-25 570.9 206.7)" fill="#E6A234" opacity="0.7"/>
<rect x="565.9" y="205.3" width="2.4" height="1.8" fill="#FFF4D8"/>
<rect x="569.6" y="202.5" width="1.6" height="1.4" fill="#FFE9B8"/>
<circle cx="564.5" cy="211.6" r="1.5" fill="#F8D588" stroke="#D88F30" stroke-width="0.5"/>
<circle cx="574.1" cy="214.0" r="2.0" fill="#F0BC50" stroke="#D88F30" stroke-width="0.5"/>
<ellipse cx="568.0" cy="209.8" rx="2.6" ry="1.3" transform="rotate(-25 568.0 209.8)" fill="#EAAA3C" opacity="0.75"/>
<ellipse cx="571.0" cy="212.7" rx="2.4" ry="1.2" transform="rotate(-25 571.0 212.7)" fill="#E6A234" opacity="0.7"/>
<rect x="565.9" y="211.3" width="2.4" height="1.8" fill="#FFF4D8"/>
<rect x="569.6" y="208.5" width="1.6" height="1.4" fill="#FFE9B8"/>
<rect x="565.4" y="209.8" width="1.2" height="1.2" fill="#D8301A"/>
<circle cx="564.5" cy="216.3" r="1.9" fill="#F8D588" stroke="#D88F30" stroke-width="0.5"/>
<circle cx="573.5" cy="220.6" r="1.5" fill="#F0BC50" stroke="#D88F30" stroke-width="0.5"/>
<ellipse cx="568.0" cy="215.8" rx="2.6" ry="1.3" transform="rotate(-25 568.0 215.8)" fill="#EAAA3C" opacity="0.75"/>
<ellipse cx="571.0" cy="218.7" rx="2.4" ry="1.2" transform="rotate(-25 571.0 218.7)" fill="#E6A234" opacity="0.7"/>
<rect x="566.0" y="217.3" width="2.4" height="1.8" fill="#FFF4D8"/>
<rect x="569.6" y="214.5" width="1.6" height="1.4" fill="#FFE9B8"/>
<rect x="566.4" y="215.3" width="1.2" height="1.2" fill="#FFF4D0"/>
<rect x="567.6" y="215.0" width="1.2" height="1.2" fill="#FFFFFF"/>
<circle cx="564.3" cy="223.3" r="1.6" fill="#F8D588" stroke="#D88F30" stroke-width="0.5"/>
<circle cx="573.6" cy="225.8" r="1.9" fill="#F0BC50" stroke="#D88F30" stroke-width="0.5"/>
<ellipse cx="568.1" cy="221.8" rx="2.6" ry="1.3" transform="rotate(-25 568.1 221.8)" fill="#EAAA3C" opacity="0.75"/>
<ellipse cx="571.0" cy="224.7" rx="2.4" ry="1.2" transform="rotate(-25 571.0 224.7)" fill="#E6A234" opacity="0.7"/>
<rect x="566.0" y="223.3" width="2.4" height="1.8" fill="#FFF4D8"/>
<rect x="569.6" y="220.5" width="1.6" height="1.4" fill="#FFE9B8"/>
<rect x="565.3" y="224.3" width="1.2" height="1.2" fill="#FFFFFF"/>
<circle cx="564.3" cy="229.0" r="1.8" fill="#F8D588" stroke="#D88F30" stroke-width="0.5"/>
<circle cx="574.1" cy="231.5" r="1.7" fill="#F0BC50" stroke="#D88F30" stroke-width="0.5"/>
<ellipse cx="568.1" cy="227.8" rx="2.6" ry="1.3" transform="rotate(-25 568.1 227.8)" fill="#EAAA3C" opacity="0.75"/>
<ellipse cx="571.0" cy="230.7" rx="2.4" ry="1.2" transform="rotate(-25 571.0 230.7)" fill="#E6A234" opacity="0.7"/>
<rect x="566.0" y="229.3" width="2.4" height="1.8" fill="#FFF4D8"/>
<rect x="569.7" y="226.5" width="1.6" height="1.4" fill="#FFE9B8"/>
<circle cx="564.3" cy="234.8" r="1.6" fill="#F8D588" stroke="#D88F30" stroke-width="0.5"/>
<circle cx="573.5" cy="237.7" r="1.4" fill="#F0BC50" stroke="#D88F30" stroke-width="0.5"/>
<ellipse cx="568.1" cy="233.8" rx="2.6" ry="1.3" transform="rotate(-25 568.1 233.8)" fill="#EAAA3C" opacity="0.75"/>
<ellipse cx="571.0" cy="236.7" rx="2.4" ry="1.2" transform="rotate(-25 571.0 236.7)" fill="#E6A234" opacity="0.7"/>
<rect x="566.0" y="235.3" width="2.4" height="1.8" fill="#FFF4D8"/>
<rect x="569.7" y="232.5" width="1.6" height="1.4" fill="#FFE9B8"/>
<rect x="570.3" y="232.2" width="1.2" height="1.2" fill="#2030A0"/>
<circle cx="564.2" cy="241.3" r="2.0" fill="#F8D588" stroke="#D88F30" stroke-width="0.5"/>
<circle cx="573.8" cy="244.3" r="1.6" fill="#F0BC50" stroke="#D88F30" stroke-width="0.5"/>
<ellipse cx="568.1" cy="239.8" rx="2.6" ry="1.3" transform="rotate(-25 568.1 239.8)" fill="#EAAA3C" opacity="0.75"/>
<ellipse cx="571.0" cy="242.7" rx="2.4" ry="1.2" transform="rotate(-25 571.0 242.7)" fill="#E6A234" opacity="0.7"/>
<rect x="566.0" y="241.3" width="2.4" height="1.8" fill="#FFF4D8"/>
<rect x="569.7" y="238.5" width="1.6" height="1.4" fill="#FFE9B8"/>
<rect x="566.6" y="239.5" width="1.2" height="1.2" fill="#7A2A10"/>
<circle cx="564.3" cy="246.7" r="1.4" fill="#F8D588" stroke="#D88F30" stroke-width="0.5"/>
<circle cx="573.8" cy="250.2" r="1.4" fill="#F0BC50" stroke="#D88F30" stroke-width="0.5"/>
<ellipse cx="568.1" cy="245.8" rx="2.6" ry="1.3" transform="rotate(-25 568.1 245.8)" fill="#EAAA3C" opacity="0.75"/>
<ellipse cx="571.0" cy="248.7" rx="2.4" ry="1.2" transform="rotate(-25 571.0 248.7)" fill="#E6A234" opacity="0.7"/>
<rect x="566.0" y="247.3" width="2.4" height="1.8" fill="#FFF4D8"/>
<rect x="569.7" y="244.5" width="1.6" height="1.4" fill="#FFE9B8"/>
<rect x="567.5" y="244.5" width="1.2" height="1.2" fill="#2030A0"/>
<rect x="568.0" y="245.5" width="1.2" height="1.2" fill="#D8301A"/>
<circle cx="564.1" cy="252.7" r="1.9" fill="#F8D588" stroke="#D88F30" stroke-width="0.5"/>
<circle cx="573.5" cy="255.0" r="1.9" fill="#F0BC50" stroke="#D88F30" stroke-width="0.5"/>
<ellipse cx="568.1" cy="251.8" rx="2.6" ry="1.3" transform="rotate(-25 568.1 251.8)" fill="#EAAA3C" opacity="0.75"/>
<ellipse cx="571.1" cy="254.7" rx="2.4" ry="1.2" transform="rotate(-25 571.1 254.7)" fill="#E6A234" opacity="0.7"/>
<rect x="566.0" y="253.3" width="2.4" height="1.8" fill="#FFF4D8"/>
<rect x="569.7" y="250.5" width="1.6" height="1.4" fill="#FFE9B8"/>
<rect x="569.6" y="254.4" width="1.2" height="1.2" fill="#B03A10"/>
<circle cx="564.6" cy="258.8" r="1.6" fill="#F8D588" stroke="#D88F30" stroke-width="0.5"/>
<circle cx="573.4" cy="262.3" r="1.7" fill="#F0BC50" stroke="#D88F30" stroke-width="0.5"/>
<ellipse cx="568.1" cy="257.8" rx="2.6" ry="1.3" transform="rotate(-25 568.1 257.8)" fill="#EAAA3C" opacity="0.75"/>
<ellipse cx="571.1" cy="260.7" rx="2.4" ry="1.2" transform="rotate(-25 571.1 260.7)" fill="#E6A234" opacity="0.7"/>
<rect x="566.1" y="259.3" width="2.4" height="1.8" fill="#FFF4D8"/>
<rect x="569.7" y="256.5" width="1.6" height="1.4" fill="#FFE9B8"/>
<rect x="568.2" y="260.7" width="1.2" height="1.2" fill="#2030A0"/>
<circle cx="564.2" cy="265.8" r="1.4" fill="#F8D588" stroke="#D88F30" stroke-width="0.5"/>
<circle cx="573.9" cy="267.8" r="1.5" fill="#F0BC50" stroke="#D88F30" stroke-width="0.5"/>
<ellipse cx="568.2" cy="263.8" rx="2.6" ry="1.3" transform="rotate(-25 568.2 263.8)" fill="#EAAA3C" opacity="0.75"/>
<ellipse cx="571.1" cy="266.7" rx="2.4" ry="1.2" transform="rotate(-25 571.1 266.7)" fill="#E6A234" opacity="0.7"/>
<rect x="566.1" y="265.3" width="2.4" height="1.8" fill="#FFF4D8"/>
<rect x="569.7" y="262.5" width="1.6" height="1.4" fill="#FFE9B8"/>
<rect x="565.1" y="264.8" width="1.2" height="1.2" fill="#B03A10"/>
<circle cx="564.2" cy="270.4" r="1.8" fill="#F8D588" stroke="#D88F30" stroke-width="0.5"/>
<circle cx="573.8" cy="274.3" r="1.9" fill="#F0BC50" stroke="#D88F30" stroke-width="0.5"/>
<ellipse cx="568.2" cy="269.8" rx="2.6" ry="1.3" transform="rotate(-25 568.2 269.8)" fill="#EAAA3C" opacity="0.75"/>
<ellipse cx="571.1" cy="272.7" rx="2.4" ry="1.2" transform="rotate(-25 571.1 272.7)" fill="#E6A234" opacity="0.7"/>
<rect x="566.1" y="271.3" width="2.4" height="1.8" fill="#FFF4D8"/>
<rect x="569.8" y="268.5" width="1.6" height="1.4" fill="#FFE9B8"/>
<rect x="565.5" y="271.1" width="1.2" height="1.2" fill="#5A1A10"/>
<circle cx="564.6" cy="277.0" r="1.7" fill="#F8D588" stroke="#D88F30" stroke-width="0.5"/>
<circle cx="573.8" cy="279.9" r="1.9" fill="#F0BC50" stroke="#D88F30" stroke-width="0.5"/>
<ellipse cx="568.2" cy="275.8" rx="2.6" ry="1.3" transform="rotate(-25 568.2 275.8)" fill="#EAAA3C" opacity="0.75"/>
<ellipse cx="571.1" cy="278.7" rx="2.4" ry="1.2" transform="rotate(-25 571.1 278.7)" fill="#E6A234" opacity="0.7"/>
<rect x="566.1" y="277.3" width="2.4" height="1.8" fill="#FFF4D8"/>
<rect x="569.8" y="274.5" width="1.6" height="1.4" fill="#FFE9B8"/>
<rect x="566.3" y="279.0" width="1.2" height="1.2" fill="#FFF4D0"/>
<rect x="565.9" y="278.5" width="1.2" height="1.2" fill="#7A2A10"/>
<circle cx="564.8" cy="283.9" r="1.6" fill="#F8D588" stroke="#D88F30" stroke-width="0.5"/>
<circle cx="573.5" cy="286.3" r="1.8" fill="#F0BC50" stroke="#D88F30" stroke-width="0.5"/>
<ellipse cx="568.2" cy="281.8" rx="2.6" ry="1.3" transform="rotate(-25 568.2 281.8)" fill="#EAAA3C" opacity="0.75"/>
<ellipse cx="571.1" cy="284.7" rx="2.4" ry="1.2" transform="rotate(-25 571.1 284.7)" fill="#E6A234" opacity="0.7"/>
<rect x="566.1" y="283.3" width="2.4" height="1.8" fill="#FFF4D8"/>
<rect x="569.8" y="280.5" width="1.6" height="1.4" fill="#FFE9B8"/>
<circle cx="564.9" cy="288.6" r="2.0" fill="#F8D588" stroke="#D88F30" stroke-width="0.5"/>
<circle cx="574.2" cy="291.2" r="1.7" fill="#F0BC50" stroke="#D88F30" stroke-width="0.5"/>
<ellipse cx="568.2" cy="287.8" rx="2.6" ry="1.3" transform="rotate(-25 568.2 287.8)" fill="#EAAA3C" opacity="0.75"/>
<ellipse cx="571.1" cy="290.7" rx="2.4" ry="1.2" transform="rotate(-25 571.1 290.7)" fill="#E6A234" opacity="0.7"/>
<rect x="566.1" y="289.3" width="2.4" height="1.8" fill="#FFF4D8"/>
<rect x="569.8" y="286.5" width="1.6" height="1.4" fill="#FFE9B8"/>
<rect x="571.1" y="287.0" width="1.2" height="1.2" fill="#D8301A"/>
<rect x="566.5" y="287.9" width="1.2" height="1.2" fill="#FFFFFF"/>
<circle cx="564.6" cy="294.8" r="1.9" fill="#F8D588" stroke="#D88F30" stroke-width="0.5"/>
<circle cx="574.2" cy="299.0" r="1.9" fill="#F0BC50" stroke="#D88F30" stroke-width="0.5"/>
<ellipse cx="568.2" cy="293.8" rx="2.6" ry="1.3" transform="rotate(-25 568.2 293.8)" fill="#EAAA3C" opacity="0.75"/>
<ellipse cx="571.2" cy="296.7" rx="2.4" ry="1.2" transform="rotate(-25 571.2 296.7)" fill="#E6A234" opacity="0.7"/>
<rect x="566.1" y="295.3" width="2.4" height="1.8" fill="#FFF4D8"/>
<rect x="569.8" y="292.5" width="1.6" height="1.4" fill="#FFE9B8"/>
<rect x="571.1" y="295.5" width="1.2" height="1.2" fill="#FFF4D0"/>
<circle cx="564.5" cy="301.4" r="1.7" fill="#F8D588" stroke="#D88F30" stroke-width="0.5"/>
<circle cx="573.8" cy="303.4" r="1.8" fill="#F0BC50" stroke="#D88F30" stroke-width="0.5"/>
<ellipse cx="568.2" cy="299.8" rx="2.6" ry="1.3" transform="rotate(-25 568.2 299.8)" fill="#EAAA3C" opacity="0.75"/>
<ellipse cx="571.2" cy="302.7" rx="2.4" ry="1.2" transform="rotate(-25 571.2 302.7)" fill="#E6A234" opacity="0.7"/>
<rect x="566.2" y="301.3" width="2.4" height="1.8" fill="#FFF4D8"/>
<rect x="569.8" y="298.5" width="1.6" height="1.4" fill="#FFE9B8"/>
<rect x="566.2" y="298.1" width="1.2" height="1.2" fill="#3A2A20"/>
<rect x="567.6" y="298.7" width="1.2" height="1.2" fill="#3A2A20"/>
<circle cx="564.1" cy="306.1" r="1.8" fill="#F8D588" stroke="#D88F30" stroke-width="0.5"/>
<circle cx="574.0" cy="310.4" r="1.8" fill="#F0BC50" stroke="#D88F30" stroke-width="0.5"/>
<ellipse cx="568.3" cy="305.8" rx="2.6" ry="1.3" transform="rotate(-25 568.3 305.8)" fill="#EAAA3C" opacity="0.75"/>
<ellipse cx="571.2" cy="308.7" rx="2.4" ry="1.2" transform="rotate(-25 571.2 308.7)" fill="#E6A234" opacity="0.7"/>
<rect x="566.2" y="307.3" width="2.4" height="1.8" fill="#FFF4D8"/>
<rect x="569.8" y="304.5" width="1.6" height="1.4" fill="#FFE9B8"/>
<rect x="570.6" y="305.0" width="1.2" height="1.2" fill="#2030A0"/>
<circle cx="564.6" cy="313.3" r="1.9" fill="#F8D588" stroke="#D88F30" stroke-width="0.5"/>
<circle cx="574.1" cy="316.4" r="1.6" fill="#F0BC50" stroke="#D88F30" stroke-width="0.5"/>
<ellipse cx="568.3" cy="311.8" rx="2.6" ry="1.3" transform="rotate(-25 568.3 311.8)" fill="#EAAA3C" opacity="0.75"/>
<ellipse cx="571.2" cy="314.7" rx="2.4" ry="1.2" transform="rotate(-25 571.2 314.7)" fill="#E6A234" opacity="0.7"/>
<rect x="566.2" y="313.3" width="2.4" height="1.8" fill="#FFF4D8"/>
<rect x="569.9" y="310.5" width="1.6" height="1.4" fill="#FFE9B8"/>
<rect x="565.9" y="310.2" width="1.2" height="1.2" fill="#D8301A"/>
<circle cx="564.8" cy="319.3" r="1.9" fill="#F8D588" stroke="#D88F30" stroke-width="0.5"/>
<circle cx="574.1" cy="321.6" r="1.5" fill="#F0BC50" stroke="#D88F30" stroke-width="0.5"/>
<ellipse cx="568.3" cy="317.8" rx="2.6" ry="1.3" transform="rotate(-25 568.3 317.8)" fill="#EAAA3C" opacity="0.75"/>
<ellipse cx="571.2" cy="320.7" rx="2.4" ry="1.2" transform="rotate(-25 571.2 320.7)" fill="#E6A234" opacity="0.7"/>
<rect x="566.2" y="319.3" width="2.4" height="1.8" fill="#FFF4D8"/>
<rect x="569.9" y="316.5" width="1.6" height="1.4" fill="#FFE9B8"/>
<rect x="567.3" y="317.7" width="1.2" height="1.2" fill="#D8301A"/>
<rect x="567.0" y="317.4" width="1.2" height="1.2" fill="#FFFFFF"/>
<circle cx="564.7" cy="324.7" r="1.6" fill="#F8D588" stroke="#D88F30" stroke-width="0.5"/>
<circle cx="574.3" cy="328.0" r="1.9" fill="#F0BC50" stroke="#D88F30" stroke-width="0.5"/>
<ellipse cx="568.3" cy="323.8" rx="2.6" ry="1.3" transform="rotate(-25 568.3 323.8)" fill="#EAAA3C" opacity="0.75"/>
<ellipse cx="571.2" cy="326.7" rx="2.4" ry="1.2" transform="rotate(-25 571.2 326.7)" fill="#E6A234" opacity="0.7"/>
<rect x="566.2" y="325.3" width="2.4" height="1.8" fill="#FFF4D8"/>
<rect x="569.9" y="322.5" width="1.6" height="1.4" fill="#FFE9B8"/>
<rect x="565.4" y="324.6" width="1.2" height="1.2" fill="#FFF4D0"/>
<circle cx="564.3" cy="330.9" r="1.4" fill="#F8D588" stroke="#D88F30" stroke-width="0.5"/>
<circle cx="574.0" cy="334.4" r="1.9" fill="#F0BC50" stroke="#D88F30" stroke-width="0.5"/>
<ellipse cx="568.3" cy="329.8" rx="2.6" ry="1.3" transform="rotate(-25 568.3 329.8)" fill="#EAAA3C" opacity="0.75"/>
<ellipse cx="571.2" cy="332.7" rx="2.4" ry="1.2" transform="rotate(-25 571.2 332.7)" fill="#E6A234" opacity="0.7"/>
<rect x="566.2" y="331.3" width="2.4" height="1.8" fill="#FFF4D8"/>
<rect x="569.9" y="328.5" width="1.6" height="1.4" fill="#FFE9B8"/>
<rect x="566.4" y="328.0" width="1.2" height="1.2" fill="#5A1A10"/>
<rect x="565.2" y="330.5" width="1.2" height="1.2" fill="#7A2A10"/>
<circle cx="564.6" cy="337.6" r="1.5" fill="#F8D588" stroke="#D88F30" stroke-width="0.5"/>
<circle cx="574.0" cy="339.7" r="1.9" fill="#F0BC50" stroke="#D88F30" stroke-width="0.5"/>
<ellipse cx="568.3" cy="335.8" rx="2.6" ry="1.3" transform="rotate(-25 568.3 335.8)" fill="#EAAA3C" opacity="0.75"/>
<ellipse cx="571.2" cy="338.7" rx="2.4" ry="1.2" transform="rotate(-25 571.2 338.7)" fill="#E6A234" opacity="0.7"/>
<rect x="566.2" y="337.3" width="2.4" height="1.8" fill="#FFF4D8"/>
<rect x="569.9" y="334.5" width="1.6" height="1.4" fill="#FFE9B8"/>
<rect x="567.2" y="335.1" width="1.2" height="1.2" fill="#3A2A20"/>
<circle cx="564.6" cy="342.2" r="1.8" fill="#F8D588" stroke="#D88F30" stroke-width="0.5"/>
<circle cx="573.7" cy="346.6" r="1.8" fill="#F0BC50" stroke="#D88F30" stroke-width="0.5"/>
<ellipse cx="568.3" cy="341.8" rx="2.6" ry="1.3" transform="rotate(-25 568.3 341.8)" fill="#EAAA3C" opacity="0.75"/>
<ellipse cx="571.3" cy="344.7" rx="2.4" ry="1.2" transform="rotate(-25 571.3 344.7)" fill="#E6A234" opacity="0.7"/>
<rect x="566.3" y="343.3" width="2.4" height="1.8" fill="#FFF4D8"/>
<rect x="569.9" y="340.5" width="1.6" height="1.4" fill="#FFE9B8"/>
<circle cx="564.5" cy="348.8" r="1.6" fill="#F8D588" stroke="#D88F30" stroke-width="0.5"/>
<circle cx="574.3" cy="351.2" r="1.9" fill="#F0BC50" stroke="#D88F30" stroke-width="0.5"/>
<ellipse cx="568.4" cy="347.8" rx="2.6" ry="1.3" transform="rotate(-25 568.4 347.8)" fill="#EAAA3C" opacity="0.75"/>
<ellipse cx="571.3" cy="350.7" rx="2.4" ry="1.2" transform="rotate(-25 571.3 350.7)" fill="#E6A234" opacity="0.7"/>
<rect x="566.3" y="349.3" width="2.4" height="1.8" fill="#FFF4D8"/>
<rect x="569.9" y="346.5" width="1.6" height="1.4" fill="#FFE9B8"/>
<rect x="567.4" y="348.1" width="1.2" height="1.2" fill="#D8301A"/>
<rect x="568.0" y="350.4" width="1.2" height="1.2" fill="#3A2A20"/>
<circle cx="564.4" cy="354.9" r="1.7" fill="#F8D588" stroke="#D88F30" stroke-width="0.5"/>
<circle cx="574.2" cy="358.5" r="1.8" fill="#F0BC50" stroke="#D88F30" stroke-width="0.5"/>
<ellipse cx="568.4" cy="353.8" rx="2.6" ry="1.3" transform="rotate(-25 568.4 353.8)" fill="#EAAA3C" opacity="0.75"/>
<ellipse cx="571.3" cy="356.7" rx="2.4" ry="1.2" transform="rotate(-25 571.3 356.7)" fill="#E6A234" opacity="0.7"/>
<rect x="566.3" y="355.3" width="2.4" height="1.8" fill="#FFF4D8"/>
<rect x="570.0" y="352.5" width="1.6" height="1.4" fill="#FFE9B8"/>
<rect x="569.0" y="356.3" width="1.2" height="1.2" fill="#FFFFFF"/>
<rect x="570.6" y="352.8" width="1.2" height="1.2" fill="#FFFFFF"/>
<circle cx="564.6" cy="361.5" r="1.7" fill="#F8D588" stroke="#D88F30" stroke-width="0.5"/>
<circle cx="573.8" cy="363.9" r="1.9" fill="#F0BC50" stroke="#D88F30" stroke-width="0.5"/>
<ellipse cx="568.4" cy="359.8" rx="2.6" ry="1.3" transform="rotate(-25 568.4 359.8)" fill="#EAAA3C" opacity="0.75"/>
<ellipse cx="571.3" cy="362.7" rx="2.4" ry="1.2" transform="rotate(-25 571.3 362.7)" fill="#E6A234" opacity="0.7"/>
<rect x="566.3" y="361.3" width="2.4" height="1.8" fill="#FFF4D8"/>
<rect x="570.0" y="358.5" width="1.6" height="1.4" fill="#FFE9B8"/>
<rect x="567.2" y="361.8" width="1.2" height="1.2" fill="#D8301A"/>
<circle cx="564.8" cy="367.4" r="2.0" fill="#F8D588" stroke="#D88F30" stroke-width="0.5"/>
<circle cx="574.2" cy="370.2" r="1.6" fill="#F0BC50" stroke="#D88F30" stroke-width="0.5"/>
<ellipse cx="568.4" cy="365.8" rx="2.6" ry="1.3" transform="rotate(-25 568.4 365.8)" fill="#EAAA3C" opacity="0.75"/>
<ellipse cx="571.3" cy="368.7" rx="2.4" ry="1.2" transform="rotate(-25 571.3 368.7)" fill="#E6A234" opacity="0.7"/>
<rect x="566.3" y="367.3" width="2.4" height="1.8" fill="#FFF4D8"/>
<rect x="570.0" y="364.5" width="1.6" height="1.4" fill="#FFE9B8"/>
<rect x="567.1" y="368.8" width="1.2" height="1.2" fill="#D8301A"/>
<circle cx="564.4" cy="373.3" r="1.5" fill="#F8D588" stroke="#D88F30" stroke-width="0.5"/>
<circle cx="573.8" cy="375.3" r="1.6" fill="#F0BC50" stroke="#D88F30" stroke-width="0.5"/>
<ellipse cx="568.4" cy="371.8" rx="2.6" ry="1.3" transform="rotate(-25 568.4 371.8)" fill="#EAAA3C" opacity="0.75"/>
<ellipse cx="571.3" cy="374.7" rx="2.4" ry="1.2" transform="rotate(-25 571.3 374.7)" fill="#E6A234" opacity="0.7"/>
<rect x="566.3" y="373.3" width="2.4" height="1.8" fill="#FFF4D8"/>
<rect x="570.0" y="370.5" width="1.6" height="1.4" fill="#FFE9B8"/>
<rect x="566.7" y="373.2" width="1.2" height="1.2" fill="#5A1A10"/>
<rect x="571.7" y="372.3" width="1.2" height="1.2" fill="#D8301A"/>
<circle cx="564.3" cy="379.7" r="1.7" fill="#F8D588" stroke="#D88F30" stroke-width="0.5"/>
<circle cx="573.9" cy="383.0" r="1.6" fill="#F0BC50" stroke="#D88F30" stroke-width="0.5"/>
<ellipse cx="568.4" cy="377.8" rx="2.6" ry="1.3" transform="rotate(-25 568.4 377.8)" fill="#EAAA3C" opacity="0.75"/>
<ellipse cx="571.3" cy="380.7" rx="2.4" ry="1.2" transform="rotate(-25 571.3 380.7)" fill="#E6A234" opacity="0.7"/>
<rect x="566.3" y="379.3" width="2.4" height="1.8" fill="#FFF4D8"/>
<rect x="570.0" y="376.5" width="1.6" height="1.4" fill="#FFE9B8"/>
<rect x="569.6" y="378.0" width="1.2" height="1.2" fill="#5A1A10"/>
<circle cx="565.0" cy="384.9" r="1.7" fill="#F8D588" stroke="#D88F30" stroke-width="0.5"/>
<circle cx="574.3" cy="387.8" r="1.5" fill="#F0BC50" stroke="#D88F30" stroke-width="0.5"/>
<ellipse cx="568.4" cy="383.8" rx="2.6" ry="1.3" transform="rotate(-25 568.4 383.8)" fill="#EAAA3C" opacity="0.75"/>
<ellipse cx="571.4" cy="386.7" rx="2.4" ry="1.2" transform="rotate(-25 571.4 386.7)" fill="#E6A234" opacity="0.7"/>
<rect x="566.4" y="385.3" width="2.4" height="1.8" fill="#FFF4D8"/>
<rect x="570.0" y="382.5" width="1.6" height="1.4" fill="#FFE9B8"/>
<circle cx="564.9" cy="391.4" r="1.9" fill="#F8D588" stroke="#D88F30" stroke-width="0.5"/>
<circle cx="574.3" cy="394.3" r="1.7" fill="#F0BC50" stroke="#D88F30" stroke-width="0.5"/>
<ellipse cx="568.4" cy="389.8" rx="2.6" ry="1.3" transform="rotate(-25 568.4 389.8)" fill="#EAAA3C" opacity="0.75"/>
<ellipse cx="571.4" cy="392.7" rx="2.4" ry="1.2" transform="rotate(-25 571.4 392.7)" fill="#E6A234" opacity="0.7"/>
<rect x="566.4" y="391.3" width="2.4" height="1.8" fill="#FFF4D8"/>
<rect x="570.0" y="388.5" width="1.6" height="1.4" fill="#FFE9B8"/>
<rect x="571.8" y="389.2" width="1.2" height="1.2" fill="#B03A10"/>
<rect x="567.1" y="390.1" width="1.2" height="1.2" fill="#3A2A20"/>
<circle cx="564.7" cy="397.2" r="1.6" fill="#F8D588" stroke="#D88F30" stroke-width="0.5"/>
<circle cx="574.3" cy="400.9" r="1.5" fill="#F0BC50" stroke="#D88F30" stroke-width="0.5"/>
<ellipse cx="568.5" cy="395.8" rx="2.6" ry="1.3" transform="rotate(-25 568.5 395.8)" fill="#EAAA3C" opacity="0.75"/>
<ellipse cx="571.4" cy="398.7" rx="2.4" ry="1.2" transform="rotate(-25 571.4 398.7)" fill="#E6A234" opacity="0.7"/>
<rect x="566.4" y="397.3" width="2.4" height="1.8" fill="#FFF4D8"/>
<rect x="570.1" y="394.5" width="1.6" height="1.4" fill="#FFE9B8"/>
<circle cx="564.7" cy="403.0" r="2.0" fill="#F8D588" stroke="#D88F30" stroke-width="0.5"/>
<circle cx="573.8" cy="406.1" r="1.5" fill="#F0BC50" stroke="#D88F30" stroke-width="0.5"/>
<ellipse cx="568.5" cy="401.8" rx="2.6" ry="1.3" transform="rotate(-25 568.5 401.8)" fill="#EAAA3C" opacity="0.75"/>
<ellipse cx="571.4" cy="404.7" rx="2.4" ry="1.2" transform="rotate(-25 571.4 404.7)" fill="#E6A234" opacity="0.7"/>
<rect x="566.4" y="403.3" width="2.4" height="1.8" fill="#FFF4D8"/>
<rect x="570.1" y="400.5" width="1.6" height="1.4" fill="#FFE9B8"/>
<circle cx="564.8" cy="408.2" r="1.7" fill="#F8D588" stroke="#D88F30" stroke-width="0.5"/>
<circle cx="574.2" cy="412.4" r="1.7" fill="#F0BC50" stroke="#D88F30" stroke-width="0.5"/>
<ellipse cx="568.5" cy="407.8" rx="2.6" ry="1.3" transform="rotate(-25 568.5 407.8)" fill="#EAAA3C" opacity="0.75"/>
<ellipse cx="571.4" cy="410.7" rx="2.4" ry="1.2" transform="rotate(-25 571.4 410.7)" fill="#E6A234" opacity="0.7"/>
<rect x="566.4" y="409.3" width="2.4" height="1.8" fill="#FFF4D8"/>
<rect x="570.1" y="406.5" width="1.6" height="1.4" fill="#FFE9B8"/>
<circle cx="564.8" cy="414.8" r="2.0" fill="#F8D588" stroke="#D88F30" stroke-width="0.5"/>
<circle cx="574.0" cy="418.4" r="1.6" fill="#F0BC50" stroke="#D88F30" stroke-width="0.5"/>
<ellipse cx="568.5" cy="413.8" rx="2.6" ry="1.3" transform="rotate(-25 568.5 413.8)" fill="#EAAA3C" opacity="0.75"/>
<ellipse cx="571.4" cy="416.7" rx="2.4" ry="1.2" transform="rotate(-25 571.4 416.7)" fill="#E6A234" opacity="0.7"/>
<rect x="566.4" y="415.3" width="2.4" height="1.8" fill="#FFF4D8"/>
<rect x="570.1" y="412.5" width="1.6" height="1.4" fill="#FFE9B8"/>
<rect x="567.9" y="412.3" width="1.2" height="1.2" fill="#2030A0"/>
<circle cx="564.6" cy="420.8" r="1.4" fill="#F8D588" stroke="#D88F30" stroke-width="0.5"/>
<circle cx="574.1" cy="423.8" r="1.8" fill="#F0BC50" stroke="#D88F30" stroke-width="0.5"/>
<ellipse cx="568.5" cy="419.8" rx="2.6" ry="1.3" transform="rotate(-25 568.5 419.8)" fill="#EAAA3C" opacity="0.75"/>
<ellipse cx="571.4" cy="422.7" rx="2.4" ry="1.2" transform="rotate(-25 571.4 422.7)" fill="#E6A234" opacity="0.7"/>
<rect x="566.4" y="421.3" width="2.4" height="1.8" fill="#FFF4D8"/>
<rect x="570.1" y="418.5" width="1.6" height="1.4" fill="#FFE9B8"/>
<rect x="566.2" y="419.5" width="1.2" height="1.2" fill="#5A1A10"/>
<rect x="572.4" y="423.0" width="1.2" height="1.2" fill="#FFFFFF"/>
<circle cx="565.2" cy="426.9" r="1.5" fill="#F8D588" stroke="#D88F30" stroke-width="0.5"/>
<circle cx="574.6" cy="429.1" r="1.9" fill="#F0BC50" stroke="#D88F30" stroke-width="0.5"/>
<ellipse cx="568.5" cy="425.8" rx="2.6" ry="1.3" transform="rotate(-25 568.5 425.8)" fill="#EAAA3C" opacity="0.75"/>
<ellipse cx="571.5" cy="428.7" rx="2.4" ry="1.2" transform="rotate(-25 571.5 428.7)" fill="#E6A234" opacity="0.7"/>
<rect x="566.5" y="427.3" width="2.4" height="1.8" fill="#FFF4D8"/>
<rect x="570.1" y="424.5" width="1.6" height="1.4" fill="#FFE9B8"/>
<rect x="570.6" y="428.1" width="1.2" height="1.2" fill="#FFFFFF"/>
<rect x="568.8" y="425.5" width="1.2" height="1.2" fill="#FFF4D0"/>
<circle cx="564.9" cy="432.3" r="1.9" fill="#F8D588" stroke="#D88F30" stroke-width="0.5"/>
<circle cx="574.1" cy="436.7" r="1.6" fill="#F0BC50" stroke="#D88F30" stroke-width="0.5"/>
<ellipse cx="568.5" cy="431.8" rx="2.6" ry="1.3" transform="rotate(-25 568.5 431.8)" fill="#EAAA3C" opacity="0.75"/>
<ellipse cx="571.5" cy="434.7" rx="2.4" ry="1.2" transform="rotate(-25 571.5 434.7)" fill="#E6A234" opacity="0.7"/>
<rect x="566.5" y="433.3" width="2.4" height="1.8" fill="#FFF4D8"/>
<rect x="570.1" y="430.5" width="1.6" height="1.4" fill="#FFE9B8"/>
<rect x="572.5" y="433.4" width="1.2" height="1.2" fill="#5A1A10"/>
<rect x="568.0" y="433.3" width="1.2" height="1.2" fill="#5A1A10"/>
<circle cx="564.7" cy="439.0" r="1.8" fill="#F8D588" stroke="#D88F30" stroke-width="0.5"/>
<circle cx="573.9" cy="442.8" r="1.5" fill="#F0BC50" stroke="#D88F30" stroke-width="0.5"/>
<ellipse cx="568.6" cy="437.8" rx="2.6" ry="1.3" transform="rotate(-25 568.6 437.8)" fill="#EAAA3C" opacity="0.75"/>
<ellipse cx="571.5" cy="440.7" rx="2.4" ry="1.2" transform="rotate(-25 571.5 440.7)" fill="#E6A234" opacity="0.7"/>
<rect x="566.5" y="439.3" width="2.4" height="1.8" fill="#FFF4D8"/>
<rect x="570.1" y="436.5" width="1.6" height="1.4" fill="#FFE9B8"/>
<rect x="565.9" y="440.1" width="1.2" height="1.2" fill="#FFF4D0"/>
<circle cx="565.1" cy="444.3" r="1.9" fill="#F8D588" stroke="#D88F30" stroke-width="0.5"/>
<circle cx="574.4" cy="447.0" r="1.4" fill="#F0BC50" stroke="#D88F30" stroke-width="0.5"/>
<ellipse cx="568.6" cy="443.8" rx="2.6" ry="1.3" transform="rotate(-25 568.6 443.8)" fill="#EAAA3C" opacity="0.75"/>
<ellipse cx="571.5" cy="446.7" rx="2.4" ry="1.2" transform="rotate(-25 571.5 446.7)" fill="#E6A234" opacity="0.7"/>
<rect x="566.5" y="445.3" width="2.4" height="1.8" fill="#FFF4D8"/>
<rect x="570.2" y="442.5" width="1.6" height="1.4" fill="#FFE9B8"/>
<circle cx="564.7" cy="450.2" r="1.5" fill="#F8D588" stroke="#D88F30" stroke-width="0.5"/>
<circle cx="574.1" cy="454.6" r="1.6" fill="#F0BC50" stroke="#D88F30" stroke-width="0.5"/>
<ellipse cx="568.6" cy="449.8" rx="2.6" ry="1.3" transform="rotate(-25 568.6 449.8)" fill="#EAAA3C" opacity="0.75"/>
<ellipse cx="571.5" cy="452.7" rx="2.4" ry="1.2" transform="rotate(-25 571.5 452.7)" fill="#E6A234" opacity="0.7"/>
<rect x="566.5" y="451.3" width="2.4" height="1.8" fill="#FFF4D8"/>
<rect x="570.2" y="448.5" width="1.6" height="1.4" fill="#FFE9B8"/>
<rect x="571.2" y="448.8" width="1.2" height="1.2" fill="#FFF4D0"/>
<circle cx="565.0" cy="457.6" r="1.8" fill="#F8D588" stroke="#D88F30" stroke-width="0.5"/>
<circle cx="574.6" cy="460.6" r="1.9" fill="#F0BC50" stroke="#D88F30" stroke-width="0.5"/>
<ellipse cx="568.6" cy="455.8" rx="2.6" ry="1.3" transform="rotate(-25 568.6 455.8)" fill="#EAAA3C" opacity="0.75"/>
<ellipse cx="571.5" cy="458.7" rx="2.4" ry="1.2" transform="rotate(-25 571.5 458.7)" fill="#E6A234" opacity="0.7"/>
<rect x="566.5" y="457.3" width="2.4" height="1.8" fill="#FFF4D8"/>
<rect x="570.2" y="454.5" width="1.6" height="1.4" fill="#FFE9B8"/>
<rect x="569.3" y="457.7" width="1.2" height="1.2" fill="#D8301A"/>
<rect x="569.5" y="455.3" width="1.2" height="1.2" fill="#B03A10"/>
<circle cx="564.7" cy="462.3" r="1.7" fill="#F8D588" stroke="#D88F30" stroke-width="0.5"/>
<circle cx="573.9" cy="465.9" r="1.5" fill="#F0BC50" stroke="#D88F30" stroke-width="0.5"/>
<ellipse cx="568.6" cy="461.8" rx="2.6" ry="1.3" transform="rotate(-25 568.6 461.8)" fill="#EAAA3C" opacity="0.75"/>
<ellipse cx="571.5" cy="464.7" rx="2.4" ry="1.2" transform="rotate(-25 571.5 464.7)" fill="#E6A234" opacity="0.7"/>
<rect x="566.5" y="463.3" width="2.4" height="1.8" fill="#FFF4D8"/>
<rect x="570.2" y="460.5" width="1.6" height="1.4" fill="#FFE9B8"/>
<rect x="566.7" y="463.0" width="1.2" height="1.2" fill="#FFF4D0"/>
<circle cx="564.6" cy="468.6" r="1.8" fill="#F8D588" stroke="#D88F30" stroke-width="0.5"/>
<circle cx="574.3" cy="471.6" r="1.7" fill="#F0BC50" stroke="#D88F30" stroke-width="0.5"/>
<ellipse cx="568.6" cy="467.8" rx="2.6" ry="1.3" transform="rotate(-25 568.6 467.8)" fill="#EAAA3C" opacity="0.75"/>
<ellipse cx="571.6" cy="470.7" rx="2.4" ry="1.2" transform="rotate(-25 571.6 470.7)" fill="#E6A234" opacity="0.7"/>
<rect x="566.6" y="469.3" width="2.4" height="1.8" fill="#FFF4D8"/>
<rect x="570.2" y="466.5" width="1.6" height="1.4" fill="#FFE9B8"/>
<rect x="566.8" y="467.8" width="1.2" height="1.2" fill="#B03A10"/>
<circle cx="564.5" cy="474.1" r="1.8" fill="#F8D588" stroke="#D88F30" stroke-width="0.5"/>
<circle cx="574.7" cy="478.6" r="1.5" fill="#F0BC50" stroke="#D88F30" stroke-width="0.5"/>
<ellipse cx="568.6" cy="473.8" rx="2.6" ry="1.3" transform="rotate(-25 568.6 473.8)" fill="#EAAA3C" opacity="0.75"/>
<ellipse cx="571.6" cy="476.7" rx="2.4" ry="1.2" transform="rotate(-25 571.6 476.7)" fill="#E6A234" opacity="0.7"/>
<rect x="566.6" y="475.3" width="2.4" height="1.8" fill="#FFF4D8"/>
<rect x="570.2" y="472.5" width="1.6" height="1.4" fill="#FFE9B8"/>
<rect x="565.8" y="475.6" width="1.2" height="1.2" fill="#3A2A20"/>
<circle cx="564.8" cy="481.7" r="1.6" fill="#F8D588" stroke="#D88F30" stroke-width="0.5"/>
<circle cx="574.3" cy="484.1" r="1.9" fill="#F0BC50" stroke="#D88F30" stroke-width="0.5"/>
<ellipse cx="568.7" cy="479.8" rx="2.6" ry="1.3" transform="rotate(-25 568.7 479.8)" fill="#EAAA3C" opacity="0.75"/>
<ellipse cx="571.6" cy="482.7" rx="2.4" ry="1.2" transform="rotate(-25 571.6 482.7)" fill="#E6A234" opacity="0.7"/>
<rect x="566.6" y="481.3" width="2.4" height="1.8" fill="#FFF4D8"/>
<rect x="570.2" y="478.5" width="1.6" height="1.4" fill="#FFE9B8"/>
<rect x="568.0" y="479.3" width="1.2" height="1.2" fill="#FFF4D0"/>
<rect x="567.6" y="482.1" width="1.2" height="1.2" fill="#5A1A10"/>
<circle cx="564.9" cy="487.0" r="1.6" fill="#F8D588" stroke="#D88F30" stroke-width="0.5"/>
<circle cx="574.4" cy="490.9" r="1.8" fill="#F0BC50" stroke="#D88F30" stroke-width="0.5"/>
<ellipse cx="568.7" cy="485.8" rx="2.6" ry="1.3" transform="rotate(-25 568.7 485.8)" fill="#EAAA3C" opacity="0.75"/>
<ellipse cx="571.6" cy="488.7" rx="2.4" ry="1.2" transform="rotate(-25 571.6 488.7)" fill="#E6A234" opacity="0.7"/>
<rect x="566.6" y="487.3" width="2.4" height="1.8" fill="#FFF4D8"/>
<rect x="570.3" y="484.5" width="1.6" height="1.4" fill="#FFE9B8"/>
<rect x="570.7" y="484.6" width="1.2" height="1.2" fill="#FFFFFF"/>
<circle cx="565.3" cy="492.2" r="2.0" fill="#F8D588" stroke="#D88F30" stroke-width="0.5"/>
<circle cx="574.3" cy="496.1" r="1.6" fill="#F0BC50" stroke="#D88F30" stroke-width="0.5"/>
<ellipse cx="568.7" cy="491.8" rx="2.6" ry="1.3" transform="rotate(-25 568.7 491.8)" fill="#EAAA3C" opacity="0.75"/>
<ellipse cx="571.6" cy="494.7" rx="2.4" ry="1.2" transform="rotate(-25 571.6 494.7)" fill="#E6A234" opacity="0.7"/>
<rect x="566.6" y="493.3" width="2.4" height="1.8" fill="#FFF4D8"/>
<rect x="570.3" y="490.5" width="1.6" height="1.4" fill="#FFE9B8"/>
<rect x="567.7" y="490.0" width="1.2" height="1.2" fill="#FFF4D0"/>
<rect x="570.0" y="493.3" width="1.2" height="1.2" fill="#FFF4D0"/>
<circle cx="565.2" cy="499.8" r="1.8" fill="#F8D588" stroke="#D88F30" stroke-width="0.5"/>
<circle cx="574.5" cy="502.3" r="1.8" fill="#F0BC50" stroke="#D88F30" stroke-width="0.5"/>
<ellipse cx="568.7" cy="497.8" rx="2.6" ry="1.3" transform="rotate(-25 568.7 497.8)" fill="#EAAA3C" opacity="0.75"/>
<ellipse cx="571.6" cy="500.7" rx="2.4" ry="1.2" transform="rotate(-25 571.6 500.7)" fill="#E6A234" opacity="0.7"/>
<rect x="566.6" y="499.3" width="2.4" height="1.8" fill="#FFF4D8"/>
<rect x="570.3" y="496.5" width="1.6" height="1.4" fill="#FFE9B8"/>
<rect x="567.1" y="499.3" width="1.2" height="1.2" fill="#B03A10"/>
<rect x="566.3" y="496.9" width="1.2" height="1.2" fill="#3A2A20"/>
<circle cx="564.6" cy="505.5" r="1.9" fill="#F8D588" stroke="#D88F30" stroke-width="0.5"/>
<circle cx="574.5" cy="507.7" r="1.9" fill="#F0BC50" stroke="#D88F30" stroke-width="0.5"/>
<ellipse cx="568.7" cy="503.8" rx="2.6" ry="1.3" transform="rotate(-25 568.7 503.8)" fill="#EAAA3C" opacity="0.75"/>
<ellipse cx="571.6" cy="506.7" rx="2.4" ry="1.2" transform="rotate(-25 571.6 506.7)" fill="#E6A234" opacity="0.7"/>
<rect x="566.6" y="505.3" width="2.4" height="1.8" fill="#FFF4D8"/>
<rect x="570.3" y="502.5" width="1.6" height="1.4" fill="#FFE9B8"/>
<rect x="571.8" y="502.9" width="1.2" height="1.2" fill="#5A1A10"/>
<circle cx="564.6" cy="510.0" r="1.7" fill="#F8D588" stroke="#D88F30" stroke-width="0.5"/>
<circle cx="574.5" cy="514.8" r="1.7" fill="#F0BC50" stroke="#D88F30" stroke-width="0.5"/>
<ellipse cx="568.7" cy="509.8" rx="2.6" ry="1.3" transform="rotate(-25 568.7 509.8)" fill="#EAAA3C" opacity="0.75"/>
<ellipse cx="571.7" cy="512.7" rx="2.4" ry="1.2" transform="rotate(-25 571.7 512.7)" fill="#E6A234" opacity="0.7"/>
<rect x="566.7" y="511.3" width="2.4" height="1.8" fill="#FFF4D8"/>
<rect x="570.3" y="508.5" width="1.6" height="1.4" fill="#FFE9B8"/>
<rect x="571.2" y="510.1" width="1.2" height="1.2" fill="#B03A10"/>
<circle cx="564.9" cy="516.1" r="1.8" fill="#F8D588" stroke="#D88F30" stroke-width="0.5"/>
<circle cx="574.5" cy="521.0" r="1.8" fill="#F0BC50" stroke="#D88F30" stroke-width="0.5"/>
<ellipse cx="568.7" cy="515.8" rx="2.6" ry="1.3" transform="rotate(-25 568.7 515.8)" fill="#EAAA3C" opacity="0.75"/>
<ellipse cx="571.7" cy="518.7" rx="2.4" ry="1.2" transform="rotate(-25 571.7 518.7)" fill="#E6A234" opacity="0.7"/>
<rect x="566.7" y="517.3" width="2.4" height="1.8" fill="#FFF4D8"/>
<rect x="570.3" y="514.5" width="1.6" height="1.4" fill="#FFE9B8"/>
<rect x="569.6" y="514.4" width="1.2" height="1.2" fill="#FFF4D0"/>
<rect x="570.1" y="516.1" width="1.2" height="1.2" fill="#3A2A20"/>
<circle cx="564.6" cy="523.3" r="2.0" fill="#F8D588" stroke="#D88F30" stroke-width="0.5"/>
<circle cx="574.7" cy="525.4" r="1.5" fill="#F0BC50" stroke="#D88F30" stroke-width="0.5"/>
<ellipse cx="568.8" cy="521.8" rx="2.6" ry="1.3" transform="rotate(-25 568.8 521.8)" fill="#EAAA3C" opacity="0.75"/>
<ellipse cx="571.7" cy="524.7" rx="2.4" ry="1.2" transform="rotate(-25 571.7 524.7)" fill="#E6A234" opacity="0.7"/>
<rect x="566.7" y="523.3" width="2.4" height="1.8" fill="#FFF4D8"/>
<rect x="570.3" y="520.5" width="1.6" height="1.4" fill="#FFE9B8"/>
<rect x="570.8" y="521.2" width="1.2" height="1.2" fill="#5A1A10"/>
<circle cx="564.8" cy="528.1" r="1.9" fill="#F8D588" stroke="#D88F30" stroke-width="0.5"/>
<circle cx="574.6" cy="532.7" r="1.8" fill="#F0BC50" stroke="#D88F30" stroke-width="0.5"/>
<ellipse cx="568.8" cy="527.8" rx="2.6" ry="1.3" transform="rotate(-25 568.8 527.8)" fill="#EAAA3C" opacity="0.75"/>
<ellipse cx="571.7" cy="530.7" rx="2.4" ry="1.2" transform="rotate(-25 571.7 530.7)" fill="#E6A234" opacity="0.7"/>
<rect x="566.7" y="529.3" width="2.4" height="1.8" fill="#FFF4D8"/>
<rect x="570.4" y="526.5" width="1.6" height="1.4" fill="#FFE9B8"/>
<rect x="570.8" y="528.3" width="1.2" height="1.2" fill="#FFFFFF"/>
<circle cx="564.9" cy="535.9" r="1.8" fill="#F8D588" stroke="#D88F30" stroke-width="0.5"/>
<circle cx="574.1" cy="537.0" r="1.8" fill="#F0BC50" stroke="#D88F30" stroke-width="0.5"/>
<ellipse cx="568.8" cy="533.8" rx="2.6" ry="1.3" transform="rotate(-25 568.8 533.8)" fill="#EAAA3C" opacity="0.75"/>
<ellipse cx="571.7" cy="536.7" rx="2.4" ry="1.2" transform="rotate(-25 571.7 536.7)" fill="#E6A234" opacity="0.7"/>
<rect x="566.7" y="535.3" width="2.4" height="1.8" fill="#FFF4D8"/>
<rect x="570.4" y="532.5" width="1.6" height="1.4" fill="#FFE9B8"/>
<rect x="567.9" y="535.0" width="1.2" height="1.2" fill="#5A1A10"/>
<circle cx="565.4" cy="541.7" r="1.8" fill="#F8D588" stroke="#D88F30" stroke-width="0.5"/>
<circle cx="574.3" cy="544.9" r="1.8" fill="#F0BC50" stroke="#D88F30" stroke-width="0.5"/>
<ellipse cx="568.8" cy="539.8" rx="2.6" ry="1.3" transform="rotate(-25 568.8 539.8)" fill="#EAAA3C" opacity="0.75"/>
<ellipse cx="571.7" cy="542.7" rx="2.4" ry="1.2" transform="rotate(-25 571.7 542.7)" fill="#E6A234" opacity="0.7"/>
<rect x="566.7" y="541.3" width="2.4" height="1.8" fill="#FFF4D8"/>
<rect x="570.4" y="538.5" width="1.6" height="1.4" fill="#FFE9B8"/>
<rect x="566.7" y="542.0" width="1.2" height="1.2" fill="#3A2A20"/>
<rect x="570.2" y="540.1" width="1.2" height="1.2" fill="#3A2A20"/>
<circle cx="565.0" cy="547.6" r="2.0" fill="#F8D588" stroke="#D88F30" stroke-width="0.5"/>
<circle cx="574.7" cy="550.1" r="1.6" fill="#F0BC50" stroke="#D88F30" stroke-width="0.5"/>
<ellipse cx="568.8" cy="545.8" rx="2.6" ry="1.3" transform="rotate(-25 568.8 545.8)" fill="#EAAA3C" opacity="0.75"/>
<ellipse cx="571.7" cy="548.7" rx="2.4" ry="1.2" transform="rotate(-25 571.7 548.7)" fill="#E6A234" opacity="0.7"/>
<rect x="566.7" y="547.3" width="2.4" height="1.8" fill="#FFF4D8"/>
<rect x="570.4" y="544.5" width="1.6" height="1.4" fill="#FFE9B8"/>
<rect x="568.1" y="547.0" width="1.2" height="1.2" fill="#2030A0"/>
<circle cx="565.4" cy="553.2" r="1.6" fill="#F8D588" stroke="#D88F30" stroke-width="0.5"/>
<circle cx="574.5" cy="556.8" r="1.6" fill="#F0BC50" stroke="#D88F30" stroke-width="0.5"/>
<ellipse cx="568.8" cy="551.8" rx="2.6" ry="1.3" transform="rotate(-25 568.8 551.8)" fill="#EAAA3C" opacity="0.75"/>
<ellipse cx="571.8" cy="554.7" rx="2.4" ry="1.2" transform="rotate(-25 571.8 554.7)" fill="#E6A234" opacity="0.7"/>
<rect x="566.8" y="553.3" width="2.4" height="1.8" fill="#FFF4D8"/>
<rect x="570.4" y="550.5" width="1.6" height="1.4" fill="#FFE9B8"/>
<circle cx="565.4" cy="559.6" r="1.6" fill="#F8D588" stroke="#D88F30" stroke-width="0.5"/>
<circle cx="574.1" cy="561.5" r="1.7" fill="#F0BC50" stroke="#D88F30" stroke-width="0.5"/>
<ellipse cx="568.8" cy="557.8" rx="2.6" ry="1.3" transform="rotate(-25 568.8 557.8)" fill="#EAAA3C" opacity="0.75"/>
<ellipse cx="571.8" cy="560.7" rx="2.4" ry="1.2" transform="rotate(-25 571.8 560.7)" fill="#E6A234" opacity="0.7"/>
<rect x="566.8" y="559.3" width="2.4" height="1.8" fill="#FFF4D8"/>
<rect x="570.4" y="556.5" width="1.6" height="1.4" fill="#FFE9B8"/>
<rect x="567.8" y="556.7" width="1.2" height="1.2" fill="#7A2A10"/>
<circle cx="565.5" cy="564.3" r="2.0" fill="#F8D588" stroke="#D88F30" stroke-width="0.5"/>
<circle cx="574.8" cy="568.1" r="1.9" fill="#F0BC50" stroke="#D88F30" stroke-width="0.5"/>
<ellipse cx="568.9" cy="563.8" rx="2.6" ry="1.3" transform="rotate(-25 568.9 563.8)" fill="#EAAA3C" opacity="0.75"/>
<ellipse cx="571.8" cy="566.7" rx="2.4" ry="1.2" transform="rotate(-25 571.8 566.7)" fill="#E6A234" opacity="0.7"/>
<rect x="566.8" y="565.3" width="2.4" height="1.8" fill="#FFF4D8"/>
<rect x="570.4" y="562.5" width="1.6" height="1.4" fill="#FFE9B8"/>
<rect x="566.4" y="564.8" width="1.2" height="1.2" fill="#FFFFFF"/>
<circle cx="564.9" cy="571.5" r="2.0" fill="#F8D588" stroke="#D88F30" stroke-width="0.5"/>
<circle cx="574.3" cy="574.2" r="1.8" fill="#F0BC50" stroke="#D88F30" stroke-width="0.5"/>
<ellipse cx="568.9" cy="569.8" rx="2.6" ry="1.3" transform="rotate(-25 568.9 569.8)" fill="#EAAA3C" opacity="0.75"/>
<ellipse cx="571.8" cy="572.7" rx="2.4" ry="1.2" transform="rotate(-25 571.8 572.7)" fill="#E6A234" opacity="0.7"/>
<rect x="566.8" y="571.3" width="2.4" height="1.8" fill="#FFF4D8"/>
<rect x="570.5" y="568.5" width="1.6" height="1.4" fill="#FFE9B8"/>
<rect x="572.4" y="570.9" width="1.2" height="1.2" fill="#D8301A"/>
<rect x="569.1" y="568.4" width="1.2" height="1.2" fill="#FFF4D0"/>
<circle cx="565.4" cy="577.5" r="1.5" fill="#F8D588" stroke="#D88F30" stroke-width="0.5"/>
<circle cx="574.6" cy="580.8" r="1.9" fill="#F0BC50" stroke="#D88F30" stroke-width="0.5"/>
<ellipse cx="568.9" cy="575.8" rx="2.6" ry="1.3" transform="rotate(-25 568.9 575.8)" fill="#EAAA3C" opacity="0.75"/>
<ellipse cx="571.8" cy="578.7" rx="2.4" ry="1.2" transform="rotate(-25 571.8 578.7)" fill="#E6A234" opacity="0.7"/>
<rect x="566.8" y="577.3" width="2.4" height="1.8" fill="#FFF4D8"/>
<rect x="570.5" y="574.5" width="1.6" height="1.4" fill="#FFE9B8"/>
<rect x="569.4" y="575.0" width="1.2" height="1.2" fill="#FFF4D0"/>
<rect x="567.1" y="577.5" width="1.2" height="1.2" fill="#B03A10"/>
<circle cx="565.1" cy="583.1" r="1.6" fill="#F8D588" stroke="#D88F30" stroke-width="0.5"/>
<circle cx="574.6" cy="585.3" r="1.4" fill="#F0BC50" stroke="#D88F30" stroke-width="0.5"/>
<ellipse cx="568.9" cy="581.8" rx="2.6" ry="1.3" transform="rotate(-25 568.9 581.8)" fill="#EAAA3C" opacity="0.75"/>
<ellipse cx="571.8" cy="584.7" rx="2.4" ry="1.2" transform="rotate(-25 571.8 584.7)" fill="#E6A234" opacity="0.7"/>
<rect x="566.8" y="583.3" width="2.4" height="1.8" fill="#FFF4D8"/>
<rect x="570.5" y="580.5" width="1.6" height="1.4" fill="#FFE9B8"/>
<rect x="568.5" y="582.3" width="1.2" height="1.2" fill="#B03A10"/>
<circle cx="564.9" cy="588.6" r="1.4" fill="#F8D588" stroke="#D88F30" stroke-width="0.5"/>
<circle cx="574.4" cy="592.2" r="1.5" fill="#F0BC50" stroke="#D88F30" stroke-width="0.5"/>
<ellipse cx="568.9" cy="587.8" rx="2.6" ry="1.3" transform="rotate(-25 568.9 587.8)" fill="#EAAA3C" opacity="0.75"/>
<ellipse cx="571.8" cy="590.7" rx="2.4" ry="1.2" transform="rotate(-25 571.8 590.7)" fill="#E6A234" opacity="0.7"/>
<rect x="566.8" y="589.3" width="2.4" height="1.8" fill="#FFF4D8"/>
<rect x="570.5" y="586.5" width="1.6" height="1.4" fill="#FFE9B8"/>
<rect x="569.3" y="588.8" width="1.2" height="1.2" fill="#2030A0"/>
<rect x="568.9" y="590.7" width="1.2" height="1.2" fill="#5A1A10"/>
<circle cx="565.4" cy="595.6" r="2.0" fill="#F8D588" stroke="#D88F30" stroke-width="0.5"/>
<circle cx="574.4" cy="597.1" r="1.5" fill="#F0BC50" stroke="#D88F30" stroke-width="0.5"/>
<ellipse cx="568.9" cy="593.8" rx="2.6" ry="1.3" transform="rotate(-25 568.9 593.8)" fill="#EAAA3C" opacity="0.75"/>
<ellipse cx="571.9" cy="596.7" rx="2.4" ry="1.2" transform="rotate(-25 571.9 596.7)" fill="#E6A234" opacity="0.7"/>
<rect x="566.9" y="595.3" width="2.4" height="1.8" fill="#FFF4D8"/>
<rect x="570.5" y="592.5" width="1.6" height="1.4" fill="#FFE9B8"/>
<rect x="566.0" y="592.2" width="1.2" height="1.2" fill="#B03A10"/>
<rect x="569.3" y="596.2" width="1.2" height="1.2" fill="#FFF4D0"/>
<circle cx="565.5" cy="601.7" r="1.8" fill="#F8D588" stroke="#D88F30" stroke-width="0.5"/>
<circle cx="575.0" cy="604.4" r="1.5" fill="#F0BC50" stroke="#D88F30" stroke-width="0.5"/>
<ellipse cx="568.9" cy="599.8" rx="2.6" ry="1.3" transform="rotate(-25 568.9 599.8)" fill="#EAAA3C" opacity="0.75"/>
<ellipse cx="571.9" cy="602.7" rx="2.4" ry="1.2" transform="rotate(-25 571.9 602.7)" fill="#E6A234" opacity="0.7"/>
<rect x="566.9" y="601.3" width="2.4" height="1.8" fill="#FFF4D8"/>
<rect x="570.5" y="598.5" width="1.6" height="1.4" fill="#FFE9B8"/>
<rect x="570.4" y="602.8" width="1.2" height="1.2" fill="#D8301A"/>
<circle cx="565.2" cy="606.9" r="1.5" fill="#F8D588" stroke="#D88F30" stroke-width="0.5"/>
<circle cx="575.0" cy="611.0" r="1.5" fill="#F0BC50" stroke="#D88F30" stroke-width="0.5"/>
<ellipse cx="569.0" cy="605.8" rx="2.6" ry="1.3" transform="rotate(-25 569.0 605.8)" fill="#EAAA3C" opacity="0.75"/>
<ellipse cx="571.9" cy="608.7" rx="2.4" ry="1.2" transform="rotate(-25 571.9 608.7)" fill="#E6A234" opacity="0.7"/>
<rect x="566.9" y="607.3" width="2.4" height="1.8" fill="#FFF4D8"/>
<rect x="570.5" y="604.5" width="1.6" height="1.4" fill="#FFE9B8"/>
<rect x="572.6" y="604.3" width="1.2" height="1.2" fill="#5A1A10"/>
<rect x="571.9" y="604.2" width="1.2" height="1.2" fill="#7A2A10"/>
<circle cx="565.5" cy="613.4" r="1.8" fill="#F8D588" stroke="#D88F30" stroke-width="0.5"/>
<circle cx="575.0" cy="615.1" r="1.5" fill="#F0BC50" stroke="#D88F30" stroke-width="0.5"/>
<ellipse cx="569.0" cy="611.8" rx="2.6" ry="1.3" transform="rotate(-25 569.0 611.8)" fill="#EAAA3C" opacity="0.75"/>
<ellipse cx="571.9" cy="614.7" rx="2.4" ry="1.2" transform="rotate(-25 571.9 614.7)" fill="#E6A234" opacity="0.7"/>
<rect x="566.9" y="613.3" width="2.4" height="1.8" fill="#FFF4D8"/>
<rect x="570.6" y="610.5" width="1.6" height="1.4" fill="#FFE9B8"/>
<circle cx="565.4" cy="618.6" r="1.8" fill="#F8D588" stroke="#D88F30" stroke-width="0.5"/>
<circle cx="574.9" cy="621.2" r="1.6" fill="#F0BC50" stroke="#D88F30" stroke-width="0.5"/>
<ellipse cx="569.0" cy="617.8" rx="2.6" ry="1.3" transform="rotate(-25 569.0 617.8)" fill="#EAAA3C" opacity="0.75"/>
<ellipse cx="571.9" cy="620.7" rx="2.4" ry="1.2" transform="rotate(-25 571.9 620.7)" fill="#E6A234" opacity="0.7"/>
<rect x="566.9" y="619.3" width="2.4" height="1.8" fill="#FFF4D8"/>
<rect x="570.6" y="616.5" width="1.6" height="1.4" fill="#FFE9B8"/>
<rect x="568.6" y="617.9" width="1.2" height="1.2" fill="#B03A10"/>
<rect x="572.4" y="620.5" width="1.2" height="1.2" fill="#3A2A20"/>
<circle cx="565.3" cy="625.8" r="1.9" fill="#F8D588" stroke="#D88F30" stroke-width="0.5"/>
<circle cx="574.4" cy="628.7" r="1.4" fill="#F0BC50" stroke="#D88F30" stroke-width="0.5"/>
<ellipse cx="569.0" cy="623.8" rx="2.6" ry="1.3" transform="rotate(-25 569.0 623.8)" fill="#EAAA3C" opacity="0.75"/>
<ellipse cx="571.9" cy="626.7" rx="2.4" ry="1.2" transform="rotate(-25 571.9 626.7)" fill="#E6A234" opacity="0.7"/>
<rect x="566.9" y="625.3" width="2.4" height="1.8" fill="#FFF4D8"/>
<rect x="570.6" y="622.5" width="1.6" height="1.4" fill="#FFE9B8"/>
<rect x="571.5" y="626.8" width="1.2" height="1.2" fill="#3A2A20"/>
<circle cx="565.6" cy="630.8" r="1.4" fill="#F8D588" stroke="#D88F30" stroke-width="0.5"/>
<circle cx="574.4" cy="634.9" r="1.6" fill="#F0BC50" stroke="#D88F30" stroke-width="0.5"/>
<ellipse cx="569.0" cy="629.8" rx="2.6" ry="1.3" transform="rotate(-25 569.0 629.8)" fill="#EAAA3C" opacity="0.75"/>
<ellipse cx="571.9" cy="632.7" rx="2.4" ry="1.2" transform="rotate(-25 571.9 632.7)" fill="#E6A234" opacity="0.7"/>
<rect x="566.9" y="631.3" width="2.4" height="1.8" fill="#FFF4D8"/>
<rect x="570.6" y="628.5" width="1.6" height="1.4" fill="#FFE9B8"/>
<rect x="570.4" y="628.7" width="1.2" height="1.2" fill="#B03A10"/>
<rect x="567.2" y="630.3" width="1.2" height="1.2" fill="#7A2A10"/>
<circle cx="565.6" cy="636.9" r="1.5" fill="#F8D588" stroke="#D88F30" stroke-width="0.5"/>
<circle cx="574.6" cy="639.5" r="1.4" fill="#F0BC50" stroke="#D88F30" stroke-width="0.5"/>
<ellipse cx="569.0" cy="635.8" rx="2.6" ry="1.3" transform="rotate(-25 569.0 635.8)" fill="#EAAA3C" opacity="0.75"/>
<ellipse cx="572.0" cy="638.7" rx="2.4" ry="1.2" transform="rotate(-25 572.0 638.7)" fill="#E6A234" opacity="0.7"/>
<rect x="567.0" y="637.3" width="2.4" height="1.8" fill="#FFF4D8"/>
<rect x="570.6" y="634.5" width="1.6" height="1.4" fill="#FFE9B8"/>
<rect x="568.3" y="634.8" width="1.2" height="1.2" fill="#5A1A10"/>
<rect x="569.2" y="636.4" width="1.2" height="1.2" fill="#FFFFFF"/>
<circle cx="565.0" cy="643.0" r="1.8" fill="#F8D588" stroke="#D88F30" stroke-width="0.5"/>
<circle cx="575.0" cy="646.9" r="1.7" fill="#F0BC50" stroke="#D88F30" stroke-width="0.5"/>
<ellipse cx="569.0" cy="641.8" rx="2.6" ry="1.3" transform="rotate(-25 569.0 641.8)" fill="#EAAA3C" opacity="0.75"/>
<ellipse cx="572.0" cy="644.7" rx="2.4" ry="1.2" transform="rotate(-25 572.0 644.7)" fill="#E6A234" opacity="0.7"/>
<rect x="567.0" y="643.3" width="2.4" height="1.8" fill="#FFF4D8"/>
<rect x="570.6" y="640.5" width="1.6" height="1.4" fill="#FFE9B8"/>
<rect x="572.9" y="642.2" width="1.2" height="1.2" fill="#D8301A"/>
<circle cx="565.1" cy="648.5" r="1.5" fill="#F8D588" stroke="#D88F30" stroke-width="0.5"/>
<circle cx="574.6" cy="651.8" r="1.5" fill="#F0BC50" stroke="#D88F30" stroke-width="0.5"/>
<ellipse cx="569.1" cy="647.8" rx="2.6" ry="1.3" transform="rotate(-25 569.1 647.8)" fill="#EAAA3C" opacity="0.75"/>
<ellipse cx="572.0" cy="650.7" rx="2.4" ry="1.2" transform="rotate(-25 572.0 650.7)" fill="#E6A234" opacity="0.7"/>
<rect x="567.0" y="649.3" width="2.4" height="1.8" fill="#FFF4D8"/>
<rect x="570.6" y="646.5" width="1.6" height="1.4" fill="#FFE9B8"/>
<circle cx="565.1" cy="655.3" r="1.7" fill="#F8D588" stroke="#D88F30" stroke-width="0.5"/>
<circle cx="574.8" cy="658.0" r="1.7" fill="#F0BC50" stroke="#D88F30" stroke-width="0.5"/>
<ellipse cx="569.1" cy="653.8" rx="2.6" ry="1.3" transform="rotate(-25 569.1 653.8)" fill="#EAAA3C" opacity="0.75"/>
<ellipse cx="572.0" cy="656.7" rx="2.4" ry="1.2" transform="rotate(-25 572.0 656.7)" fill="#E6A234" opacity="0.7"/>
<rect x="567.0" y="655.3" width="2.4" height="1.8" fill="#FFF4D8"/>
<rect x="570.7" y="652.5" width="1.6" height="1.4" fill="#FFE9B8"/>
<circle cx="565.2" cy="660.7" r="1.4" fill="#F8D588" stroke="#D88F30" stroke-width="0.5"/>
<circle cx="574.7" cy="663.6" r="1.5" fill="#F0BC50" stroke="#D88F30" stroke-width="0.5"/>
<ellipse cx="569.1" cy="659.8" rx="2.6" ry="1.3" transform="rotate(-25 569.1 659.8)" fill="#EAAA3C" opacity="0.75"/>
<ellipse cx="572.0" cy="662.7" rx="2.4" ry="1.2" transform="rotate(-25 572.0 662.7)" fill="#E6A234" opacity="0.7"/>
<rect x="567.0" y="661.3" width="2.4" height="1.8" fill="#FFF4D8"/>
<rect x="570.7" y="658.5" width="1.6" height="1.4" fill="#FFE9B8"/>
<rect x="571.1" y="659.0" width="1.2" height="1.2" fill="#D8301A"/>
<circle cx="565.0" cy="666.2" r="1.8" fill="#F8D588" stroke="#D88F30" stroke-width="0.5"/>
<circle cx="574.8" cy="669.5" r="1.5" fill="#F0BC50" stroke="#D88F30" stroke-width="0.5"/>
<ellipse cx="569.1" cy="665.8" rx="2.6" ry="1.3" transform="rotate(-25 569.1 665.8)" fill="#EAAA3C" opacity="0.75"/>
<ellipse cx="572.0" cy="668.7" rx="2.4" ry="1.2" transform="rotate(-25 572.0 668.7)" fill="#E6A234" opacity="0.7"/>
<rect x="567.0" y="667.3" width="2.4" height="1.8" fill="#FFF4D8"/>
<rect x="570.7" y="664.5" width="1.6" height="1.4" fill="#FFE9B8"/>
<circle cx="565.6" cy="673.2" r="1.5" fill="#F8D588" stroke="#D88F30" stroke-width="0.5"/>
<circle cx="574.4" cy="676.5" r="1.6" fill="#F0BC50" stroke="#D88F30" stroke-width="0.5"/>
<ellipse cx="569.1" cy="671.8" rx="2.6" ry="1.3" transform="rotate(-25 569.1 671.8)" fill="#EAAA3C" opacity="0.75"/>
<ellipse cx="572.0" cy="674.7" rx="2.4" ry="1.2" transform="rotate(-25 572.0 674.7)" fill="#E6A234" opacity="0.7"/>
<rect x="567.0" y="673.3" width="2.4" height="1.8" fill="#FFF4D8"/>
<rect x="570.7" y="670.5" width="1.6" height="1.4" fill="#FFE9B8"/>
<rect x="568.4" y="674.2" width="1.2" height="1.2" fill="#FFFFFF"/>
<circle cx="565.7" cy="679.0" r="1.4" fill="#F8D588" stroke="#D88F30" stroke-width="0.5"/>
<circle cx="575.1" cy="682.0" r="1.9" fill="#F0BC50" stroke="#D88F30" stroke-width="0.5"/>
<ellipse cx="569.1" cy="677.8" rx="2.6" ry="1.3" transform="rotate(-25 569.1 677.8)" fill="#EAAA3C" opacity="0.75"/>
<ellipse cx="572.1" cy="680.7" rx="2.4" ry="1.2" transform="rotate(-25 572.1 680.7)" fill="#E6A234" opacity="0.7"/>
<rect x="567.1" y="679.3" width="2.4" height="1.8" fill="#FFF4D8"/>
<rect x="570.7" y="676.5" width="1.6" height="1.4" fill="#FFE9B8"/>
<rect x="570.1" y="680.9" width="1.2" height="1.2" fill="#3A2A20"/>
<rect x="570.1" y="680.3" width="1.2" height="1.2" fill="#FFFFFF"/>
<circle cx="565.3" cy="685.9" r="2.0" fill="#F8D588" stroke="#D88F30" stroke-width="0.5"/>
<circle cx="574.5" cy="687.7" r="1.5" fill="#F0BC50" stroke="#D88F30" stroke-width="0.5"/>
<ellipse cx="569.1" cy="683.8" rx="2.6" ry="1.3" transform="rotate(-25 569.1 683.8)" fill="#EAAA3C" opacity="0.75"/>
<ellipse cx="572.1" cy="686.7" rx="2.4" ry="1.2" transform="rotate(-25 572.1 686.7)" fill="#E6A234" opacity="0.7"/>
<rect x="567.1" y="685.3" width="2.4" height="1.8" fill="#FFF4D8"/>
<rect x="570.7" y="682.5" width="1.6" height="1.4" fill="#FFE9B8"/>
<circle cx="565.7" cy="691.7" r="1.7" fill="#F8D588" stroke="#D88F30" stroke-width="0.5"/>
<circle cx="575.2" cy="693.6" r="1.5" fill="#F0BC50" stroke="#D88F30" stroke-width="0.5"/>
<ellipse cx="569.2" cy="689.8" rx="2.6" ry="1.3" transform="rotate(-25 569.2 689.8)" fill="#EAAA3C" opacity="0.75"/>
<ellipse cx="572.1" cy="692.7" rx="2.4" ry="1.2" transform="rotate(-25 572.1 692.7)" fill="#E6A234" opacity="0.7"/>
<rect x="567.1" y="691.3" width="2.4" height="1.8" fill="#FFF4D8"/>
<rect x="570.7" y="688.5" width="1.6" height="1.4" fill="#FFE9B8"/>
<rect x="569.9" y="690.7" width="1.2" height="1.2" fill="#7A2A10"/>
<circle cx="565.1" cy="697.9" r="1.5" fill="#F8D588" stroke="#D88F30" stroke-width="0.5"/>
<circle cx="574.6" cy="699.2" r="1.6" fill="#F0BC50" stroke="#D88F30" stroke-width="0.5"/>
<ellipse cx="569.2" cy="695.8" rx="2.6" ry="1.3" transform="rotate(-25 569.2 695.8)" fill="#EAAA3C" opacity="0.75"/>
<ellipse cx="572.1" cy="698.7" rx="2.4" ry="1.2" transform="rotate(-25 572.1 698.7)" fill="#E6A234" opacity="0.7"/>
<rect x="567.1" y="697.3" width="2.4" height="1.8" fill="#FFF4D8"/>
<rect x="570.8" y="694.5" width="1.6" height="1.4" fill="#FFE9B8"/>
<rect x="572.7" y="697.7" width="1.2" height="1.2" fill="#B03A10"/>
<circle cx="565.3" cy="703.7" r="1.8" fill="#F8D588" stroke="#D88F30" stroke-width="0.5"/>
<circle cx="574.8" cy="705.5" r="1.7" fill="#F0BC50" stroke="#D88F30" stroke-width="0.5"/>
<ellipse cx="569.2" cy="701.8" rx="2.6" ry="1.3" transform="rotate(-25 569.2 701.8)" fill="#EAAA3C" opacity="0.75"/>
<ellipse cx="572.1" cy="704.7" rx="2.4" ry="1.2" transform="rotate(-25 572.1 704.7)" fill="#E6A234" opacity="0.7"/>
<rect x="567.1" y="703.3" width="2.4" height="1.8" fill="#FFF4D8"/>
<rect x="570.8" y="700.5" width="1.6" height="1.4" fill="#FFE9B8"/>
<rect x="571.2" y="700.2" width="1.2" height="1.2" fill="#B03A10"/>
<rect x="570.3" y="703.8" width="1.2" height="1.2" fill="#FFF4D0"/>
<circle cx="565.2" cy="708.2" r="1.9" fill="#F8D588" stroke="#D88F30" stroke-width="0.5"/>
<circle cx="574.9" cy="711.5" r="1.5" fill="#F0BC50" stroke="#D88F30" stroke-width="0.5"/>
<ellipse cx="569.2" cy="707.8" rx="2.6" ry="1.3" transform="rotate(-25 569.2 707.8)" fill="#EAAA3C" opacity="0.75"/>
<ellipse cx="572.1" cy="710.7" rx="2.4" ry="1.2" transform="rotate(-25 572.1 710.7)" fill="#E6A234" opacity="0.7"/>
<rect x="567.1" y="709.3" width="2.4" height="1.8" fill="#FFF4D8"/>
<rect x="570.8" y="706.5" width="1.6" height="1.4" fill="#FFE9B8"/>
<rect x="567.3" y="710.1" width="1.2" height="1.2" fill="#FFF4D0"/>
<circle cx="565.8" cy="714.8" r="1.7" fill="#F8D588" stroke="#D88F30" stroke-width="0.5"/>
<circle cx="575.2" cy="718.1" r="1.6" fill="#F0BC50" stroke="#D88F30" stroke-width="0.5"/>
<ellipse cx="569.2" cy="713.8" rx="2.6" ry="1.3" transform="rotate(-25 569.2 713.8)" fill="#EAAA3C" opacity="0.75"/>
<ellipse cx="572.1" cy="716.7" rx="2.4" ry="1.2" transform="rotate(-25 572.1 716.7)" fill="#E6A234" opacity="0.7"/>
<rect x="567.1" y="715.3" width="2.4" height="1.8" fill="#FFF4D8"/>
<rect x="570.8" y="712.5" width="1.6" height="1.4" fill="#FFE9B8"/>
<circle cx="565.4" cy="720.5" r="1.6" fill="#F8D588" stroke="#D88F30" stroke-width="0.5"/>
<circle cx="574.9" cy="725.0" r="1.9" fill="#F0BC50" stroke="#D88F30" stroke-width="0.5"/>
<ellipse cx="569.2" cy="719.8" rx="2.6" ry="1.3" transform="rotate(-25 569.2 719.8)" fill="#EAAA3C" opacity="0.75"/>
<ellipse cx="572.2" cy="722.7" rx="2.4" ry="1.2" transform="rotate(-25 572.2 722.7)" fill="#E6A234" opacity="0.7"/>
<rect x="567.2" y="721.3" width="2.4" height="1.8" fill="#FFF4D8"/>
<rect x="570.8" y="718.5" width="1.6" height="1.4" fill="#FFE9B8"/>
<circle cx="565.8" cy="726.1" r="1.7" fill="#F8D588" stroke="#D88F30" stroke-width="0.5"/>
<circle cx="575.3" cy="730.9" r="1.5" fill="#F0BC50" stroke="#D88F30" stroke-width="0.5"/>
<ellipse cx="569.2" cy="725.8" rx="2.6" ry="1.3" transform="rotate(-25 569.2 725.8)" fill="#EAAA3C" opacity="0.75"/>
<ellipse cx="572.2" cy="728.7" rx="2.4" ry="1.2" transform="rotate(-25 572.2 728.7)" fill="#E6A234" opacity="0.7"/>
<rect x="567.2" y="727.3" width="2.4" height="1.8" fill="#FFF4D8"/>
<rect x="570.8" y="724.5" width="1.6" height="1.4" fill="#FFE9B8"/>
<rect x="568.7" y="726.7" width="1.2" height="1.2" fill="#7A2A10"/>
<rect x="567.6" y="727.3" width="1.2" height="1.2" fill="#FFF4D0"/>
<circle cx="565.3" cy="732.8" r="1.6" fill="#F8D588" stroke="#D88F30" stroke-width="0.5"/>
<circle cx="575.3" cy="735.9" r="1.4" fill="#F0BC50" stroke="#D88F30" stroke-width="0.5"/>
<ellipse cx="569.3" cy="731.8" rx="2.6" ry="1.3" transform="rotate(-25 569.3 731.8)" fill="#EAAA3C" opacity="0.75"/>
<ellipse cx="572.2" cy="734.7" rx="2.4" ry="1.2" transform="rotate(-25 572.2 734.7)" fill="#E6A234" opacity="0.7"/>
<rect x="567.2" y="733.3" width="2.4" height="1.8" fill="#FFF4D8"/>
<rect x="570.8" y="730.5" width="1.6" height="1.4" fill="#FFE9B8"/>
<circle cx="565.2" cy="739.7" r="1.8" fill="#F8D588" stroke="#D88F30" stroke-width="0.5"/>
<circle cx="575.3" cy="742.2" r="1.8" fill="#F0BC50" stroke="#D88F30" stroke-width="0.5"/>
<ellipse cx="569.3" cy="737.8" rx="2.6" ry="1.3" transform="rotate(-25 569.3 737.8)" fill="#EAAA3C" opacity="0.75"/>
<ellipse cx="572.2" cy="740.7" rx="2.4" ry="1.2" transform="rotate(-25 572.2 740.7)" fill="#E6A234" opacity="0.7"/>
<rect x="567.2" y="739.3" width="2.4" height="1.8" fill="#FFF4D8"/>
<rect x="570.9" y="736.5" width="1.6" height="1.4" fill="#FFE9B8"/>
<rect x="568.0" y="738.6" width="1.2" height="1.2" fill="#B03A10"/>
<circle cx="565.5" cy="745.9" r="1.6" fill="#F8D588" stroke="#D88F30" stroke-width="0.5"/>
<circle cx="574.8" cy="748.3" r="1.5" fill="#F0BC50" stroke="#D88F30" stroke-width="0.5"/>
<ellipse cx="569.3" cy="743.8" rx="2.6" ry="1.3" transform="rotate(-25 569.3 743.8)" fill="#EAAA3C" opacity="0.75"/>
<ellipse cx="572.2" cy="746.7" rx="2.4" ry="1.2" transform="rotate(-25 572.2 746.7)" fill="#E6A234" opacity="0.7"/>
<rect x="567.2" y="745.3" width="2.4" height="1.8" fill="#FFF4D8"/>
<rect x="570.9" y="742.5" width="1.6" height="1.4" fill="#FFE9B8"/>
<rect x="572.7" y="742.4" width="1.2" height="1.2" fill="#FFFFFF"/>
<rect x="569.3" y="744.6" width="1.2" height="1.2" fill="#3A2A20"/>
<circle cx="565.9" cy="751.8" r="1.7" fill="#F8D588" stroke="#D88F30" stroke-width="0.5"/>
<circle cx="574.8" cy="754.5" r="1.8" fill="#F0BC50" stroke="#D88F30" stroke-width="0.5"/>
<ellipse cx="569.3" cy="749.8" rx="2.6" ry="1.3" transform="rotate(-25 569.3 749.8)" fill="#EAAA3C" opacity="0.75"/>
<ellipse cx="572.2" cy="752.7" rx="2.4" ry="1.2" transform="rotate(-25 572.2 752.7)" fill="#E6A234" opacity="0.7"/>
<rect x="567.2" y="751.3" width="2.4" height="1.8" fill="#FFF4D8"/>
<rect x="570.9" y="748.5" width="1.6" height="1.4" fill="#FFE9B8"/>
<rect x="570.6" y="750.9" width="1.2" height="1.2" fill="#FFF4D0"/>
<circle cx="565.4" cy="757.4" r="1.7" fill="#F8D588" stroke="#D88F30" stroke-width="0.5"/>
<ellipse cx="569.3" cy="755.8" rx="2.6" ry="1.3" transform="rotate(-25 569.3 755.8)" fill="#EAAA3C" opacity="0.75"/>
<ellipse cx="572.2" cy="758.7" rx="2.4" ry="1.2" transform="rotate(-25 572.2 758.7)" fill="#E6A234" opacity="0.7"/>
<rect x="567.2" y="757.3" width="2.4" height="1.8" fill="#FFF4D8"/>
<rect x="570.9" y="754.5" width="1.6" height="1.4" fill="#FFE9B8"/>
<path d="M563,168 L564,163.5 L566.5,164 L568.8,159.5 L571,164 L574,163.5 L575.5,168 Z" fill="#F3C260"/>
<rect x="567.5" y="163" width="2" height="1.6" fill="#D04010"/>
<rect x="576.0" y="184.8" width="6.5" height="18" fill="#F6D07A"/>
<rect x="576.0" y="184.8" width="2" height="18" fill="#FBE2A4"/>
<rect x="580.2" y="188.3" width="1.6" height="10" fill="#6A4818"/>
<rect x="600.5" y="185.3" width="6.5" height="17" fill="#F3CA6C"/>
<rect x="603.2" y="186.8" width="1.6" height="11" fill="#7A5418"/>
<rect x="604.8" y="186.8" width="1.6" height="11" fill="#D8A848"/>
<rect x="606.0" y="186.3" width="1.5" height="15" fill="#FCE7AE"/>
<rect x="582.0" y="203.1" width="19" height="4" fill="#F2F2EE"/>
<rect x="582.5" y="180.6" width="18" height="2.6" fill="#D6D2C2"/>
<rect x="585.0" y="180.6" width="1" height="2.6" fill="#A8A8A0"/>
<rect x="590.0" y="180.6" width="1" height="2.6" fill="#A8A8A0"/>
<rect x="594.5" y="180.6" width="1" height="2.6" fill="#A8A8A0"/>
<rect x="586.0" y="204.1" width="1.2" height="2.5" fill="#8E8E90"/>
<rect x="591.0" y="204.1" width="1.2" height="2.5" fill="#8E8E90"/>
<rect x="595.0" y="204.1" width="1.2" height="2.5" fill="#8E8E90"/>
<rect x="576.1" y="232.4" width="6.5" height="18" fill="#F6D07A"/>
<rect x="576.1" y="232.4" width="2" height="18" fill="#FBE2A4"/>
<rect x="580.3" y="235.9" width="1.6" height="10" fill="#6A4818"/>
<rect x="600.6" y="232.9" width="6.5" height="17" fill="#F3CA6C"/>
<rect x="603.3" y="234.4" width="1.6" height="11" fill="#7A5418"/>
<rect x="604.9" y="234.4" width="1.6" height="11" fill="#D8A848"/>
<rect x="606.1" y="233.9" width="1.5" height="15" fill="#FCE7AE"/>
<rect x="582.1" y="250.7" width="19" height="4" fill="#F2F2EE"/>
<rect x="582.6" y="228.2" width="18" height="2.6" fill="#D6D2C2"/>
<rect x="585.1" y="228.2" width="1" height="2.6" fill="#A8A8A0"/>
<rect x="590.1" y="228.2" width="1" height="2.6" fill="#A8A8A0"/>
<rect x="594.6" y="228.2" width="1" height="2.6" fill="#A8A8A0"/>
<rect x="586.1" y="251.7" width="1.2" height="2.5" fill="#8E8E90"/>
<rect x="591.1" y="251.7" width="1.2" height="2.5" fill="#8E8E90"/>
<rect x="595.1" y="251.7" width="1.2" height="2.5" fill="#8E8E90"/>
<rect x="576.3" y="280.0" width="6.5" height="18" fill="#F6D07A"/>
<rect x="576.3" y="280.0" width="2" height="18" fill="#FBE2A4"/>
<rect x="580.5" y="283.5" width="1.6" height="10" fill="#6A4818"/>
<rect x="600.8" y="280.5" width="6.5" height="17" fill="#F3CA6C"/>
<rect x="603.5" y="282.0" width="1.6" height="11" fill="#7A5418"/>
<rect x="605.1" y="282.0" width="1.6" height="11" fill="#D8A848"/>
<rect x="606.3" y="281.5" width="1.5" height="15" fill="#FCE7AE"/>
<rect x="582.3" y="298.2" width="19" height="4" fill="#F2F2EE"/>
<rect x="582.8" y="275.8" width="18" height="2.6" fill="#D6D2C2"/>
<rect x="585.3" y="275.8" width="1" height="2.6" fill="#A8A8A0"/>
<rect x="590.3" y="275.8" width="1" height="2.6" fill="#A8A8A0"/>
<rect x="594.8" y="275.8" width="1" height="2.6" fill="#A8A8A0"/>
<rect x="586.3" y="299.2" width="1.2" height="2.5" fill="#8E8E90"/>
<rect x="591.3" y="299.2" width="1.2" height="2.5" fill="#8E8E90"/>
<rect x="595.3" y="299.2" width="1.2" height="2.5" fill="#8E8E90"/>
<rect x="576.4" y="327.8" width="6.5" height="18" fill="#F6D07A"/>
<rect x="576.4" y="327.8" width="2" height="18" fill="#FBE2A4"/>
<rect x="580.6" y="331.3" width="1.6" height="10" fill="#6A4818"/>
<rect x="600.9" y="328.3" width="6.5" height="17" fill="#F3CA6C"/>
<rect x="603.6" y="329.8" width="1.6" height="11" fill="#7A5418"/>
<rect x="605.2" y="329.8" width="1.6" height="11" fill="#D8A848"/>
<rect x="606.4" y="329.3" width="1.5" height="15" fill="#FCE7AE"/>
<rect x="582.4" y="346.1" width="19" height="4" fill="#F2F2EE"/>
<rect x="582.9" y="323.6" width="18" height="2.6" fill="#D6D2C2"/>
<rect x="585.4" y="323.6" width="1" height="2.6" fill="#A8A8A0"/>
<rect x="590.4" y="323.6" width="1" height="2.6" fill="#A8A8A0"/>
<rect x="594.9" y="323.6" width="1" height="2.6" fill="#A8A8A0"/>
<rect x="586.4" y="347.1" width="1.2" height="2.5" fill="#8E8E90"/>
<rect x="591.4" y="347.1" width="1.2" height="2.5" fill="#8E8E90"/>
<rect x="595.4" y="347.1" width="1.2" height="2.5" fill="#8E8E90"/>
<rect x="576.5" y="375.4" width="6.5" height="18" fill="#F6D07A"/>
<rect x="576.5" y="375.4" width="2" height="18" fill="#FBE2A4"/>
<rect x="580.7" y="378.9" width="1.6" height="10" fill="#6A4818"/>
<rect x="601.0" y="375.9" width="6.5" height="17" fill="#F3CA6C"/>
<rect x="603.7" y="377.4" width="1.6" height="11" fill="#7A5418"/>
<rect x="605.3" y="377.4" width="1.6" height="11" fill="#D8A848"/>
<rect x="606.5" y="376.9" width="1.5" height="15" fill="#FCE7AE"/>
<rect x="582.5" y="393.6" width="19" height="4" fill="#F2F2EE"/>
<rect x="583.0" y="371.1" width="18" height="2.6" fill="#D6D2C2"/>
<rect x="585.5" y="371.1" width="1" height="2.6" fill="#A8A8A0"/>
<rect x="590.5" y="371.1" width="1" height="2.6" fill="#A8A8A0"/>
<rect x="595.0" y="371.1" width="1" height="2.6" fill="#A8A8A0"/>
<rect x="586.5" y="394.6" width="1.2" height="2.5" fill="#8E8E90"/>
<rect x="591.5" y="394.6" width="1.2" height="2.5" fill="#8E8E90"/>
<rect x="595.5" y="394.6" width="1.2" height="2.5" fill="#8E8E90"/>
<rect x="576.7" y="423.4" width="6.5" height="18" fill="#F6D07A"/>
<rect x="576.7" y="423.4" width="2" height="18" fill="#FBE2A4"/>
<rect x="580.9" y="426.9" width="1.6" height="10" fill="#6A4818"/>
<rect x="601.2" y="423.9" width="6.5" height="17" fill="#F3CA6C"/>
<rect x="603.9" y="425.4" width="1.6" height="11" fill="#7A5418"/>
<rect x="605.5" y="425.4" width="1.6" height="11" fill="#D8A848"/>
<rect x="606.7" y="424.9" width="1.5" height="15" fill="#FCE7AE"/>
<rect x="582.7" y="441.6" width="19" height="4" fill="#F2F2EE"/>
<rect x="583.2" y="419.1" width="18" height="2.6" fill="#D6D2C2"/>
<rect x="585.7" y="419.1" width="1" height="2.6" fill="#A8A8A0"/>
<rect x="590.7" y="419.1" width="1" height="2.6" fill="#A8A8A0"/>
<rect x="595.2" y="419.1" width="1" height="2.6" fill="#A8A8A0"/>
<rect x="586.7" y="442.6" width="1.2" height="2.5" fill="#8E8E90"/>
<rect x="591.7" y="442.6" width="1.2" height="2.5" fill="#8E8E90"/>
<rect x="595.7" y="442.6" width="1.2" height="2.5" fill="#8E8E90"/>
<rect x="576.8" y="471.9" width="6.5" height="18" fill="#F6D07A"/>
<rect x="576.8" y="471.9" width="2" height="18" fill="#FBE2A4"/>
<rect x="581.0" y="475.4" width="1.6" height="10" fill="#6A4818"/>
<rect x="601.3" y="472.4" width="6.5" height="17" fill="#F3CA6C"/>
<rect x="604.0" y="473.9" width="1.6" height="11" fill="#7A5418"/>
<rect x="605.6" y="473.9" width="1.6" height="11" fill="#D8A848"/>
<rect x="606.8" y="473.4" width="1.5" height="15" fill="#FCE7AE"/>
<rect x="582.8" y="490.1" width="19" height="4" fill="#F2F2EE"/>
<rect x="583.3" y="467.6" width="18" height="2.6" fill="#D6D2C2"/>
<rect x="585.8" y="467.6" width="1" height="2.6" fill="#A8A8A0"/>
<rect x="590.8" y="467.6" width="1" height="2.6" fill="#A8A8A0"/>
<rect x="595.3" y="467.6" width="1" height="2.6" fill="#A8A8A0"/>
<rect x="586.8" y="491.1" width="1.2" height="2.5" fill="#8E8E90"/>
<rect x="591.8" y="491.1" width="1.2" height="2.5" fill="#8E8E90"/>
<rect x="595.8" y="491.1" width="1.2" height="2.5" fill="#8E8E90"/>
<rect x="577.0" y="520.2" width="6.5" height="18" fill="#F6D07A"/>
<rect x="577.0" y="520.2" width="2" height="18" fill="#FBE2A4"/>
<rect x="581.2" y="523.7" width="1.6" height="10" fill="#6A4818"/>
<rect x="601.5" y="520.7" width="6.5" height="17" fill="#F3CA6C"/>
<rect x="604.2" y="522.2" width="1.6" height="11" fill="#7A5418"/>
<rect x="605.8" y="522.2" width="1.6" height="11" fill="#D8A848"/>
<rect x="607.0" y="521.7" width="1.5" height="15" fill="#FCE7AE"/>
<rect x="583.0" y="538.5" width="19" height="4" fill="#F2F2EE"/>
<rect x="583.5" y="516.0" width="18" height="2.6" fill="#D6D2C2"/>
<rect x="586.0" y="516.0" width="1" height="2.6" fill="#A8A8A0"/>
<rect x="591.0" y="516.0" width="1" height="2.6" fill="#A8A8A0"/>
<rect x="595.5" y="516.0" width="1" height="2.6" fill="#A8A8A0"/>
<rect x="587.0" y="539.5" width="1.2" height="2.5" fill="#8E8E90"/>
<rect x="592.0" y="539.5" width="1.2" height="2.5" fill="#8E8E90"/>
<rect x="596.0" y="539.5" width="1.2" height="2.5" fill="#8E8E90"/>
<rect x="577.1" y="567.9" width="6.5" height="18" fill="#F6D07A"/>
<rect x="577.1" y="567.9" width="2" height="18" fill="#FBE2A4"/>
<rect x="581.3" y="571.4" width="1.6" height="10" fill="#6A4818"/>
<rect x="601.6" y="568.4" width="6.5" height="17" fill="#F3CA6C"/>
<rect x="604.3" y="569.9" width="1.6" height="11" fill="#7A5418"/>
<rect x="605.9" y="569.9" width="1.6" height="11" fill="#D8A848"/>
<rect x="607.1" y="569.4" width="1.5" height="15" fill="#FCE7AE"/>
<rect x="583.1" y="586.1" width="19" height="4" fill="#F2F2EE"/>
<rect x="583.6" y="563.6" width="18" height="2.6" fill="#D6D2C2"/>
<rect x="586.1" y="563.6" width="1" height="2.6" fill="#A8A8A0"/>
<rect x="591.1" y="563.6" width="1" height="2.6" fill="#A8A8A0"/>
<rect x="595.6" y="563.6" width="1" height="2.6" fill="#A8A8A0"/>
<rect x="587.1" y="587.1" width="1.2" height="2.5" fill="#8E8E90"/>
<rect x="592.1" y="587.1" width="1.2" height="2.5" fill="#8E8E90"/>
<rect x="596.1" y="587.1" width="1.2" height="2.5" fill="#8E8E90"/>
<rect x="577.2" y="616.7" width="6.5" height="18" fill="#F6D07A"/>
<rect x="577.2" y="616.7" width="2" height="18" fill="#FBE2A4"/>
<rect x="581.4" y="620.2" width="1.6" height="10" fill="#6A4818"/>
<rect x="601.7" y="617.2" width="6.5" height="17" fill="#F3CA6C"/>
<rect x="604.4" y="618.7" width="1.6" height="11" fill="#7A5418"/>
<rect x="606.0" y="618.7" width="1.6" height="11" fill="#D8A848"/>
<rect x="607.2" y="618.2" width="1.5" height="15" fill="#FCE7AE"/>
<rect x="583.2" y="635.0" width="19" height="4" fill="#F2F2EE"/>
<rect x="583.7" y="612.5" width="18" height="2.6" fill="#D6D2C2"/>
<rect x="586.2" y="612.5" width="1" height="2.6" fill="#A8A8A0"/>
<rect x="591.2" y="612.5" width="1" height="2.6" fill="#A8A8A0"/>
<rect x="595.7" y="612.5" width="1" height="2.6" fill="#A8A8A0"/>
<rect x="587.2" y="636.0" width="1.2" height="2.5" fill="#8E8E90"/>
<rect x="592.2" y="636.0" width="1.2" height="2.5" fill="#8E8E90"/>
<rect x="596.2" y="636.0" width="1.2" height="2.5" fill="#8E8E90"/>
<rect x="577.4" y="665.5" width="6.5" height="18" fill="#F6D07A"/>
<rect x="577.4" y="665.5" width="2" height="18" fill="#FBE2A4"/>
<rect x="581.6" y="669.0" width="1.6" height="10" fill="#6A4818"/>
<rect x="601.9" y="666.0" width="6.5" height="17" fill="#F3CA6C"/>
<rect x="604.6" y="667.5" width="1.6" height="11" fill="#7A5418"/>
<rect x="606.2" y="667.5" width="1.6" height="11" fill="#D8A848"/>
<rect x="607.4" y="667.0" width="1.5" height="15" fill="#FCE7AE"/>
<rect x="583.4" y="683.8" width="19" height="4" fill="#F2F2EE"/>
<rect x="583.9" y="661.2" width="18" height="2.6" fill="#D6D2C2"/>
<rect x="586.4" y="661.2" width="1" height="2.6" fill="#A8A8A0"/>
<rect x="591.4" y="661.2" width="1" height="2.6" fill="#A8A8A0"/>
<rect x="595.9" y="661.2" width="1" height="2.6" fill="#A8A8A0"/>
<rect x="587.4" y="684.8" width="1.2" height="2.5" fill="#8E8E90"/>
<rect x="592.4" y="684.8" width="1.2" height="2.5" fill="#8E8E90"/>
<rect x="596.4" y="684.8" width="1.2" height="2.5" fill="#8E8E90"/>
<rect x="577.5" y="714.4" width="6.5" height="18" fill="#F6D07A"/>
<rect x="577.5" y="714.4" width="2" height="18" fill="#FBE2A4"/>
<rect x="581.7" y="717.9" width="1.6" height="10" fill="#6A4818"/>
<rect x="602.0" y="714.9" width="6.5" height="17" fill="#F3CA6C"/>
<rect x="604.7" y="716.4" width="1.6" height="11" fill="#7A5418"/>
<rect x="606.3" y="716.4" width="1.6" height="11" fill="#D8A848"/>
<rect x="607.5" y="715.9" width="1.5" height="15" fill="#FCE7AE"/>
<rect x="583.5" y="732.6" width="19" height="4" fill="#F2F2EE"/>
<rect x="584.0" y="710.1" width="18" height="2.6" fill="#D6D2C2"/>
<rect x="586.5" y="710.1" width="1" height="2.6" fill="#A8A8A0"/>
<rect x="591.5" y="710.1" width="1" height="2.6" fill="#A8A8A0"/>
<rect x="596.0" y="710.1" width="1" height="2.6" fill="#A8A8A0"/>
<rect x="587.5" y="733.6" width="1.2" height="2.5" fill="#8E8E90"/>
<rect x="592.5" y="733.6" width="1.2" height="2.5" fill="#8E8E90"/>
<rect x="596.5" y="733.6" width="1.2" height="2.5" fill="#8E8E90"/>
<path d="M123,91.5 C118,92 117,96 118,99 C115,101 115,106 118,108 C121,112 124,115 125.5,119 L137.5,119 C139,113 142,107 141.5,100 C141,95 137,93 131,93.5 C127,93.5 125,92 123,91.5 Z" fill="#F1C466"/>
<path d="M122,98 C124,94 130,94 134,95 C139,97 140,102 139,108 C137,113 134,116 131,117" stroke="#FCE6A8" stroke-width="1.3" fill="none"/>
<path d="M124,97 C123,104 127,110 131,115" stroke="#D99A3A" stroke-width="1.2" fill="none"/>
<circle cx="130.6" cy="103.2" r="2.5" fill="#000"/>
<rect x="134" y="110" width="1.4" height="4" fill="#8A6A30" transform="rotate(30 134 110)"/>

<rect x="124" y="90" width="112" height="6.6" fill="#FF4F00"/>
<rect x="230" y="95" width="7" height="358" fill="#FF4F00" />
<rect x="230" y="450" width="7" height="6" rx="3" fill="#FF4F00"/>
<rect x="227" y="94.8" width="13" height="7" rx="3" fill="#FF4F00"/>
<rect x="230" y="498.6" width="7" height="437" fill="#FF4F00"/>
<rect x="124" y="935.6" width="112" height="6.4" fill="#FF4F00"/>
<rect x="227" y="931" width="13" height="6" rx="2.5" fill="#FF4F00"/>
<rect x="151.8" y="92" width="0.7" height="4.6" fill="#301000" opacity="0.5"/>
<rect x="151.8" y="935.6" width="0.7" height="4.4" fill="#301000" opacity="0.5"/>
<polygon points="235,89.9 236.3,89.9 240,94.6 240,98 235,98" fill="#FF4F00"/>
<polygon points="235,935 240,935 240,937.4 236.2,942 235,942" fill="#FF4F00"/>

<g fill="url(#pave)" filter="url(#spk)"><rect x="144.0" y="158.8" width="17" height="19.5"/><rect x="144.2" y="202.8" width="17" height="19.5"/><rect x="144.4" y="246.2" width="17" height="19.5"/><rect x="144.5" y="290.1" width="17" height="19.5"/><rect x="144.7" y="334.6" width="17" height="19.5"/><rect x="144.9" y="378.1" width="17" height="19.5"/><rect x="145.1" y="423.1" width="17" height="19.5"/><rect x="145.2" y="467.1" width="17" height="19.5"/><rect x="145.4" y="511.5" width="17" height="19.5"/><rect x="145.6" y="556.5" width="17" height="19.5"/><rect x="145.8" y="601.0" width="17" height="19.5"/><rect x="146.0" y="646.0" width="17" height="19.5"/><rect x="146.1" y="691.0" width="17" height="19.5"/><rect x="146.3" y="736.1" width="17" height="19.5"/><rect x="146.5" y="781.4" width="17" height="19.5"/><rect x="582.0" y="183.1" width="19" height="20.5"/><rect x="582.1" y="230.7" width="19" height="20.5"/><rect x="582.3" y="278.2" width="19" height="20.5"/><rect x="582.4" y="326.1" width="19" height="20.5"/><rect x="582.5" y="373.6" width="19" height="20.5"/><rect x="582.7" y="421.6" width="19" height="20.5"/><rect x="582.8" y="470.1" width="19" height="20.5"/><rect x="583.0" y="518.5" width="19" height="20.5"/><rect x="583.1" y="566.1" width="19" height="20.5"/><rect x="583.2" y="615.0" width="19" height="20.5"/><rect x="583.4" y="663.8" width="19" height="20.5"/><rect x="583.5" y="712.6" width="19" height="20.5"/></g>
<path d="M603,335.6 L607.5,335.2 L628.5,335.2 L628.5,338 L607.5,338 L603,337.4 Z" fill="#FF4F00"/>
<path d="M602.5,334 A2.6,2.6 0 1 0 602.5,339.2" fill="none" stroke="#FF4F00" stroke-width="1.3"/>
<path d="M606.3,477.7 L629.5,477.7 L629.5,484 L606.3,484 Q608.5,480.9 606.3,477.7 Z" fill="#FF4F00"/>
<circle cx="603" cy="480.7" r="2.6" fill="none" stroke="#FF4F00" stroke-width="1.4"/>
<rect x="607" y="622.9" width="22.5" height="6" fill="#FF4F00"/>
<rect x="607" y="623.5" width="1.5" height="1.5" fill="#F0202A"/>
<rect x="607" y="626.5" width="1.5" height="1.5" fill="#F0202A"/>
<circle cx="597.2" cy="625.8" r="2.5" fill="#E8ECEC" stroke="#FF4F00" stroke-width="1.5"/>
<circle cx="658.5" cy="336.8" r="28.3" fill="#E2E2E2" stroke="#5F311F" stroke-width="4"/>
<circle cx="658.5" cy="336.8" r="26.1" fill="none" stroke="#F6F6F6" stroke-width="0.9"/>
<circle cx="659" cy="480.4" r="28.8" fill="#F2C46E" stroke="#5F311F" stroke-width="3"/>
<g filter="url(#soft)">
<circle cx="659.4" cy="628.7" r="26.5" fill="#E4E4E4"/>
<polygon points="659.4,628.7 686.9,628.6 686.6,632.6" fill="#BDBDBD"/>
<polygon points="659.4,628.7 686.6,632.6 685.7,636.6" fill="#BDBDBD"/>
<polygon points="674.0,628.6 686.6,632.6 673.4,632.9" fill="#C4C4C4" opacity="0.6"/>
<polygon points="659.4,628.7 686.0,635.6 684.6,639.7" fill="#F0F0F0"/>
<polygon points="659.4,628.7 684.6,639.7 682.5,643.6" fill="#D6D6D6"/>
<polygon points="673.5,632.4 684.6,639.7 671.7,636.6" fill="#BDBDBD" opacity="0.6"/>
<polygon points="659.4,628.7 682.8,643.1 680.7,646.1" fill="#FAFAFA"/>
<polygon points="659.4,628.7 680.7,646.1 678.2,648.7" fill="#E9E9E9"/>
<polygon points="671.8,636.3 680.7,646.1 669.4,639.3" fill="#BDBDBD" opacity="0.6"/>
<polygon points="659.4,628.7 677.1,649.8 674.0,652.0" fill="#F0F0F0"/>
<polygon points="659.4,628.7 674.0,652.0 670.5,653.8" fill="#FAFAFA"/>
<polygon points="668.8,639.9 674.0,652.0 665.3,642.0" fill="#D6D6D6" opacity="0.6"/>
<polygon points="659.4,628.7 671.9,653.2 668.1,654.8" fill="#C4C4C4"/>
<polygon points="659.4,628.7 668.1,654.8 664.2,655.8" fill="#FAFAFA"/>
<polygon points="666.0,641.7 668.1,654.8 661.9,643.1" fill="#BDBDBD" opacity="0.6"/>
<polygon points="659.4,628.7 663.8,655.8 659.5,656.2" fill="#C4C4C4"/>
<polygon points="659.4,628.7 659.5,656.2 655.2,655.9" fill="#C4C4C4"/>
<polygon points="661.7,643.1 659.5,656.2 657.2,643.1" fill="#FFFFFF" opacity="0.6"/>
<polygon points="659.4,628.7 655.5,655.9 651.4,655.0" fill="#BDBDBD"/>
<polygon points="659.4,628.7 651.4,655.0 647.6,653.5" fill="#FFFFFF"/>
<polygon points="657.3,643.1 651.4,655.0 653.1,641.9" fill="#E9E9E9" opacity="0.6"/>
<polygon points="659.4,628.7 646.7,653.1 643.4,651.1" fill="#D6D6D6"/>
<polygon points="659.4,628.7 643.4,651.1 640.4,648.6" fill="#FFFFFF"/>
<polygon points="652.7,641.6 643.4,651.1 649.3,639.2" fill="#DEDEDE" opacity="0.6"/>
<polygon points="659.4,628.7 640.9,649.0 638.4,646.4" fill="#FAFAFA"/>
<polygon points="659.4,628.7 638.4,646.4 636.2,643.5" fill="#D6D6D6"/>
<polygon points="649.6,639.5 638.4,646.4 647.1,636.6" fill="#D6D6D6" opacity="0.6"/>
<polygon points="659.4,628.7 636.4,643.8 634.2,639.8" fill="#E9E9E9"/>
<polygon points="659.4,628.7 634.2,639.8 632.8,635.5" fill="#D6D6D6"/>
<polygon points="647.2,636.7 634.2,639.8 645.3,632.3" fill="#FAFAFA" opacity="0.6"/>
<polygon points="659.4,628.7 632.8,635.5 632.2,632.8" fill="#C4C4C4"/>
<polygon points="659.4,628.7 632.2,632.8 631.9,630.1" fill="#FAFAFA"/>
<polygon points="645.3,632.3 632.2,632.8 644.8,629.4" fill="#BDBDBD" opacity="0.6"/>
<polygon points="659.4,628.7 631.9,629.0 632.2,624.7" fill="#E9E9E9"/>
<polygon points="659.4,628.7 632.2,624.7 633.2,620.4" fill="#D6D6D6"/>
<polygon points="644.8,628.9 632.2,624.7 645.5,624.3" fill="#C4C4C4" opacity="0.6"/>
<polygon points="659.4,628.7 633.2,620.2 634.4,617.2" fill="#D6D6D6"/>
<polygon points="659.4,628.7 634.4,617.2 635.9,614.4" fill="#FFFFFF"/>
<polygon points="645.5,624.2 634.4,617.2 647.0,621.1" fill="#DEDEDE" opacity="0.6"/>
<polygon points="659.4,628.7 635.6,615.0 638.1,611.3" fill="#D6D6D6"/>
<polygon points="659.4,628.7 638.1,611.3 641.2,608.1" fill="#F0F0F0"/>
<polygon points="646.8,621.4 638.1,611.3 649.8,617.8" fill="#C4C4C4" opacity="0.6"/>
<polygon points="659.4,628.7 641.8,607.5 644.2,605.8" fill="#BDBDBD"/>
<polygon points="659.4,628.7 644.2,605.8 646.8,604.3" fill="#BDBDBD"/>
<polygon points="650.1,617.5 644.2,605.8 652.7,615.8" fill="#F0F0F0" opacity="0.6"/>
<polygon points="659.4,628.7 648.4,603.5 651.5,602.4" fill="#C4C4C4"/>
<polygon points="659.4,628.7 651.5,602.4 654.6,601.6" fill="#F0F0F0"/>
<polygon points="653.6,615.3 651.5,602.4 656.9,614.3" fill="#E9E9E9" opacity="0.6"/>
<polygon points="659.4,628.7 655.9,601.4 659.1,601.2" fill="#E9E9E9"/>
<polygon points="659.4,628.7 659.1,601.2 662.3,601.3" fill="#C4C4C4"/>
<polygon points="657.5,614.2 659.1,601.2 660.9,614.2" fill="#FAFAFA" opacity="0.6"/>
<polygon points="659.4,628.7 662.7,601.4 667.5,602.4" fill="#FFFFFF"/>
<polygon points="659.4,628.7 667.5,602.4 672.0,604.3" fill="#FAFAFA"/>
<polygon points="661.1,614.2 667.5,602.4 666.1,615.7" fill="#C4C4C4" opacity="0.6"/>
<polygon points="659.4,628.7 670.0,603.3 674.5,605.7" fill="#D6D6D6"/>
<polygon points="659.4,628.7 674.5,605.7 678.4,608.8" fill="#FAFAFA"/>
<polygon points="665.0,615.3 674.5,605.7 669.5,618.2" fill="#F0F0F0" opacity="0.6"/>
<polygon points="659.4,628.7 676.8,607.4 679.7,610.1" fill="#DEDEDE"/>
<polygon points="659.4,628.7 679.7,610.1 682.2,613.3" fill="#FFFFFF"/>
<polygon points="668.6,617.4 679.7,610.1 671.5,620.5" fill="#E9E9E9" opacity="0.6"/>
<polygon points="659.4,628.7 681.9,612.9 683.9,616.2" fill="#C4C4C4"/>
<polygon points="659.4,628.7 683.9,616.2 685.4,619.9" fill="#FAFAFA"/>
<polygon points="671.3,620.3 683.9,616.2 673.2,624.0" fill="#DEDEDE" opacity="0.6"/>
<polygon points="659.4,628.7 685.7,620.6 686.6,624.5" fill="#BDBDBD"/>
<polygon points="659.4,628.7 686.6,624.5 686.9,628.6" fill="#F0F0F0"/>
<polygon points="673.3,624.4 686.6,624.5 674.0,628.6" fill="#E9E9E9" opacity="0.6"/>
<polygon points="650.4,630.5 659.4,627.5 659.4,629.3" fill="#2A2A2A"/>
<polygon points="653.9,639.2 657.9,631.4 658.9,639.2" fill="#303030"/>
<polygon points="667.4,630.9 680.4,639.2 679.4,640.7 666.9,632.2" fill="#3A3A3A"/>
<polygon points="661.9,635.2 666.2,646.2 664.6,646.5" fill="#555555"/>
<polygon points="644.9,634.9 651.4,639.5 650.6,640.3" fill="#6A5A5A"/>
<polygon points="649.4,612.7 653.4,608.7 654.4,610.7" fill="#8C9AA6"/>
<polygon points="642.4,624.7 646.4,620.7 645.4,625.7" fill="#9A7A70"/>
<polygon points="662.4,611.7 668.4,607.7 667.4,612.7" fill="#A8B4BE"/>
</g>
<circle cx="659.4" cy="628.7" r="28.3" fill="none" stroke="#5F311F" stroke-width="4.6"/>
<text x="195.3" y="489.3" font-size="23" font-family="Liberation Sans" font-weight="bold" fill="#5F311F" stroke="#5F311F" stroke-width="4" stroke-linejoin="round" textLength="48.5" lengthAdjust="spacingAndGlyphs">17.78</text>
<text x="247" y="489.3" font-size="23" font-family="Liberation Sans" font-weight="bold" fill="#5F311F" stroke="#5F311F" stroke-width="4" stroke-linejoin="round" textLength="32.5" lengthAdjust="spacingAndGlyphs">cm</text>
<text x="690.3" y="335.5" font-size="23" font-family="Liberation Sans" font-weight="bold" fill="#5F311F" stroke="#5F311F" stroke-width="4" stroke-linejoin="round" textLength="97" lengthAdjust="spacingAndGlyphs">Rhodium</text>
<text x="690.3" y="360.5" font-size="23" font-family="Liberation Sans" font-weight="bold" fill="#5F311F" stroke="#5F311F" stroke-width="4" stroke-linejoin="round" textLength="73" lengthAdjust="spacingAndGlyphs">Plating</text>
<text x="691.3" y="489.5" font-size="23" font-family="Liberation Sans" font-weight="bold" fill="#5F311F" stroke="#5F311F" stroke-width="4" stroke-linejoin="round" textLength="115" lengthAdjust="spacingAndGlyphs">High Polish</text>
<text x="690.5" y="636.3" font-size="23" font-family="Liberation Sans" font-weight="bold" fill="#5F311F" stroke="#5F311F" stroke-width="4" stroke-linejoin="round" textLength="95" lengthAdjust="spacingAndGlyphs">Diamond</text>
</svg>
</body></html>
